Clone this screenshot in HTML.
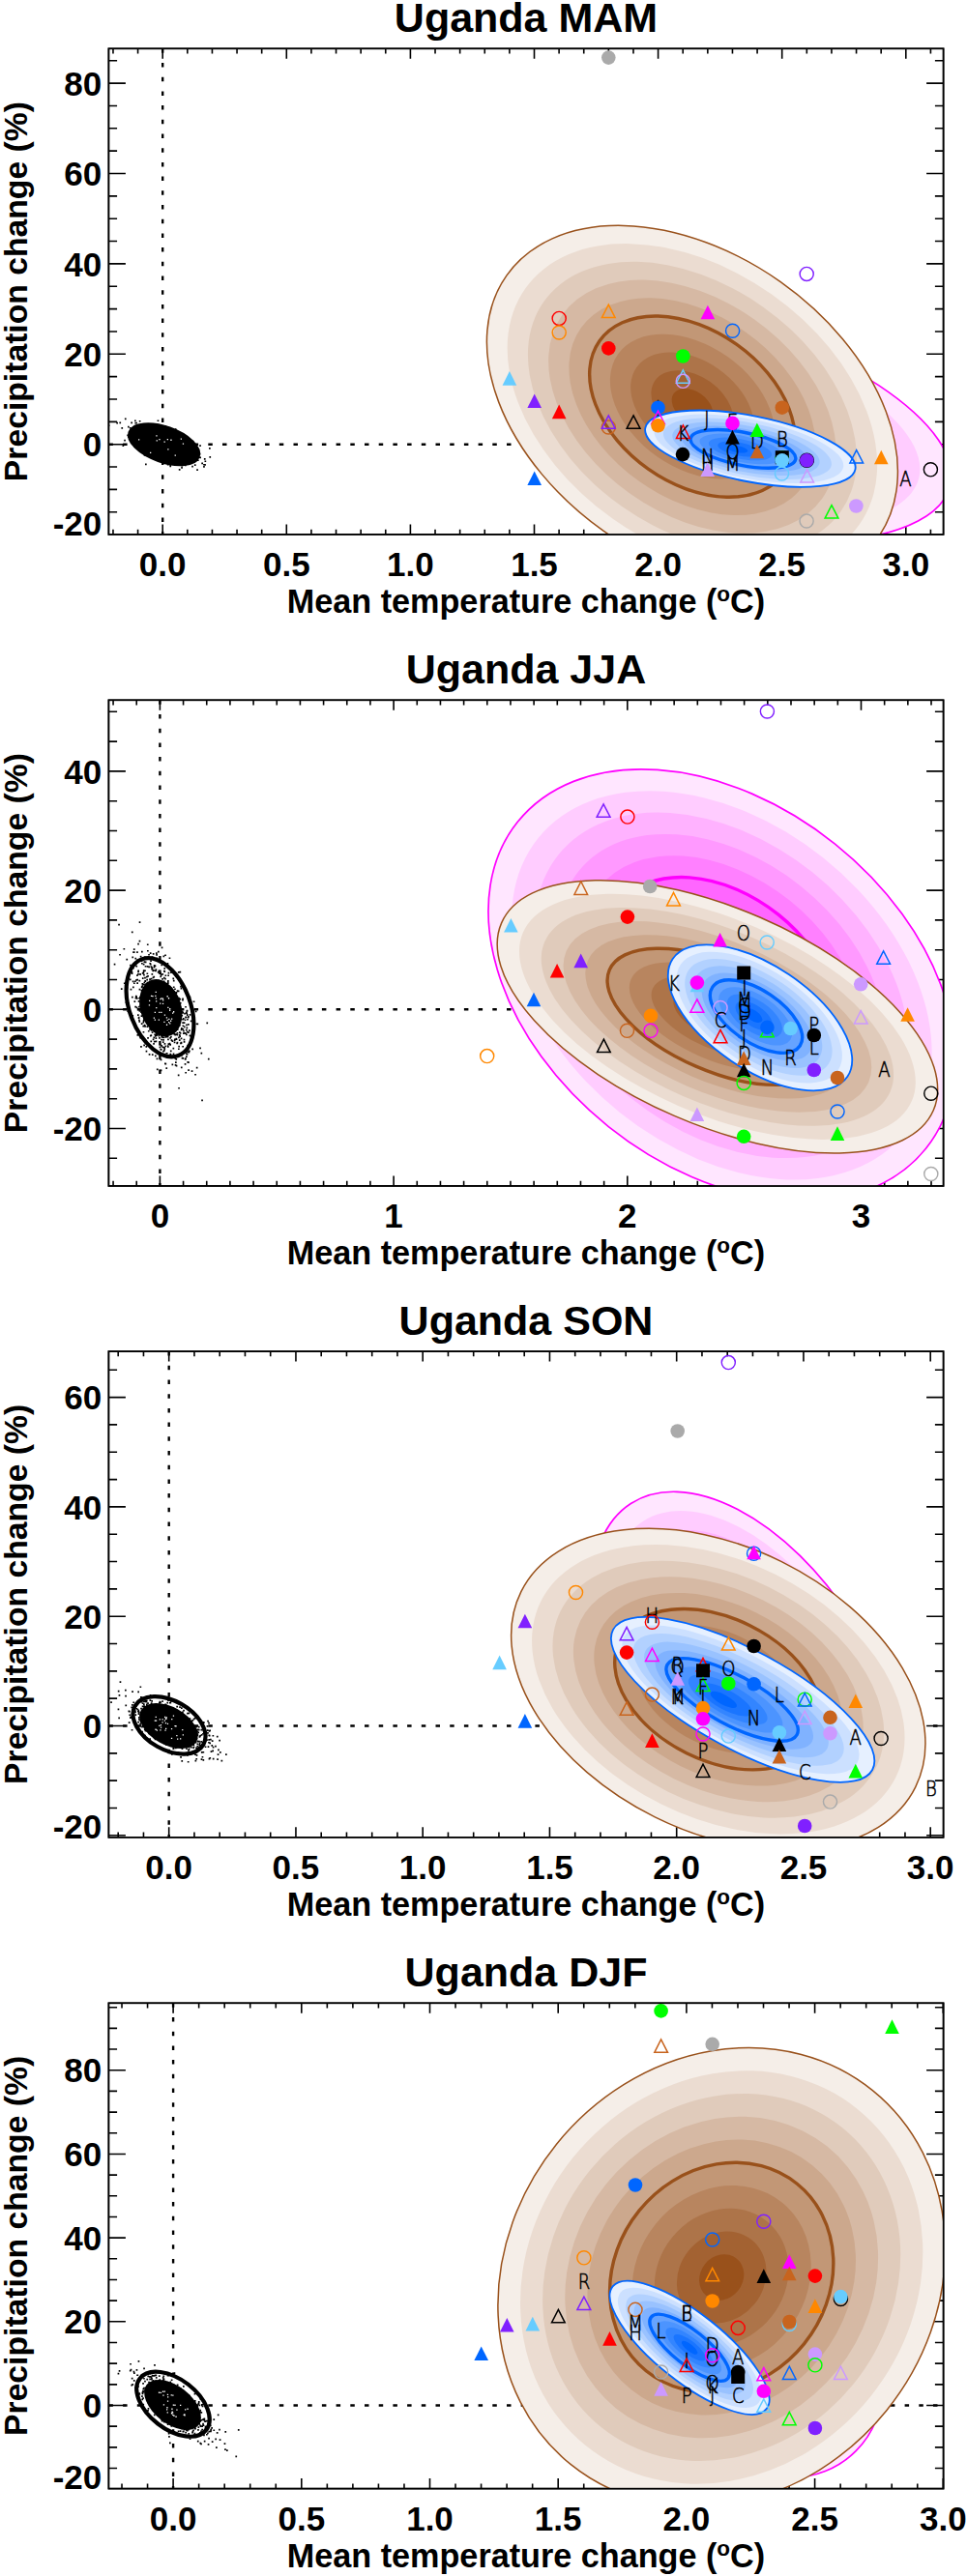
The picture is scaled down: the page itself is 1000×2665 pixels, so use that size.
<!DOCTYPE html><html><head><meta charset="utf-8"><style>html,body{margin:0;padding:0;background:#fff}svg{display:block}.t{font-family:"Liberation Sans",Arial,sans-serif;font-weight:bold;fill:#000}.lt{font-family:"DejaVu Sans",sans-serif;font-weight:200;font-size:21px;fill:#000;stroke:#000;stroke-width:0.55px;text-anchor:middle}</style></head><body>
<svg width="1000" height="2665" viewBox="0 0 1000 2665">
<rect width="1000" height="2665" fill="#fff"/>
<defs>
<clipPath id="cp0"><rect x="112.4" y="50.3" width="863.2" height="502.59999999999997"/></clipPath>
<clipPath id="cp1"><rect x="112.4" y="724.3" width="863.2" height="502.60000000000014"/></clipPath>
<clipPath id="cp2"><rect x="112.4" y="1398.1" width="863.2" height="502.70000000000005"/></clipPath>
<clipPath id="cp3"><rect x="112.4" y="2072.3" width="863.2" height="502.2999999999997"/></clipPath>
<clipPath id="xc0_0"><path d="M870 300H980V560H870Z"/></clipPath>
<clipPath id="xc2_0"><path d="M560 1500H900V1690H560Z"/></clipPath>
<clipPath id="xc3_0"><path d="M820 2490H980V2580H820Z"/></clipPath>
</defs>
<text class="t" x="544.0" y="32.8" font-size="43" text-anchor="middle">Uganda MAM</text>
<g clip-path="url(#cp0)">
<line x1="168.2" y1="50.3" x2="168.2" y2="552.9" stroke="#000" stroke-width="2.4" stroke-dasharray="4.5 10.2"/>
<line x1="112.4" y1="459.7" x2="975.6" y2="459.7" stroke="#000" stroke-width="2.4" stroke-dasharray="4.5 10.2"/>
<path d="M180.5 470.6h1.7v1.7h-1.7zM177.4 450.3h1.7v1.7h-1.7zM169.9 451.5h1.7v1.7h-1.7zM180.0 454.2h1.7v1.7h-1.7zM187.1 470.2h1.7v1.7h-1.7zM211.2 480.0h1.7v1.7h-1.7zM187.0 463.6h1.7v1.7h-1.7zM153.5 466.7h1.7v1.7h-1.7zM171.6 465.3h1.7v1.7h-1.7zM174.2 468.2h1.7v1.7h-1.7zM139.0 434.4h1.7v1.7h-1.7zM175.4 481.1h1.7v1.7h-1.7zM132.0 440.7h1.7v1.7h-1.7zM175.7 457.7h1.7v1.7h-1.7zM164.7 454.8h1.7v1.7h-1.7zM189.1 467.0h1.7v1.7h-1.7zM176.5 452.1h1.7v1.7h-1.7zM178.3 477.1h1.7v1.7h-1.7zM182.8 461.5h1.7v1.7h-1.7zM142.1 453.7h1.7v1.7h-1.7zM178.6 460.6h1.7v1.7h-1.7zM123.4 436.5h1.7v1.7h-1.7zM148.1 444.2h1.7v1.7h-1.7zM176.2 452.8h1.7v1.7h-1.7zM159.9 466.6h1.7v1.7h-1.7zM152.4 452.4h1.7v1.7h-1.7zM182.8 458.5h1.7v1.7h-1.7zM136.3 449.4h1.7v1.7h-1.7zM190.4 451.8h1.7v1.7h-1.7zM162.5 452.4h1.7v1.7h-1.7zM198.6 455.8h1.7v1.7h-1.7zM166.4 445.5h1.7v1.7h-1.7zM147.2 451.1h1.7v1.7h-1.7zM160.8 454.4h1.7v1.7h-1.7zM156.7 441.1h1.7v1.7h-1.7zM182.7 475.9h1.7v1.7h-1.7zM168.1 455.4h1.7v1.7h-1.7zM193.5 471.6h1.7v1.7h-1.7zM170.7 466.9h1.7v1.7h-1.7zM151.6 445.5h1.7v1.7h-1.7zM172.6 450.6h1.7v1.7h-1.7zM167.7 460.2h1.7v1.7h-1.7zM178.1 466.2h1.7v1.7h-1.7zM139.5 447.1h1.7v1.7h-1.7zM172.1 468.3h1.7v1.7h-1.7zM188.8 463.5h1.7v1.7h-1.7zM166.8 448.1h1.7v1.7h-1.7zM160.1 448.8h1.7v1.7h-1.7zM141.6 446.4h1.7v1.7h-1.7zM184.3 477.1h1.7v1.7h-1.7zM174.4 459.7h1.7v1.7h-1.7zM172.5 466.5h1.7v1.7h-1.7zM177.7 465.1h1.7v1.7h-1.7zM164.3 454.8h1.7v1.7h-1.7zM210.1 482.0h1.7v1.7h-1.7zM148.0 457.8h1.7v1.7h-1.7zM151.6 454.6h1.7v1.7h-1.7zM156.9 456.8h1.7v1.7h-1.7zM157.5 452.6h1.7v1.7h-1.7zM176.4 466.5h1.7v1.7h-1.7zM128.2 454.7h1.7v1.7h-1.7zM128.9 432.5h1.7v1.7h-1.7zM156.2 458.6h1.7v1.7h-1.7zM168.1 454.3h1.7v1.7h-1.7zM189.0 466.6h1.7v1.7h-1.7zM165.6 464.6h1.7v1.7h-1.7zM148.7 470.0h1.7v1.7h-1.7zM194.7 468.2h1.7v1.7h-1.7zM169.6 460.9h1.7v1.7h-1.7zM183.0 467.7h1.7v1.7h-1.7zM155.3 446.0h1.7v1.7h-1.7zM195.2 457.1h1.7v1.7h-1.7zM149.1 462.0h1.7v1.7h-1.7zM138.7 453.2h1.7v1.7h-1.7zM184.8 485.1h1.7v1.7h-1.7zM195.9 470.7h1.7v1.7h-1.7zM145.0 462.5h1.7v1.7h-1.7zM190.9 480.5h1.7v1.7h-1.7zM201.3 471.3h1.7v1.7h-1.7zM165.8 449.4h1.7v1.7h-1.7zM176.2 469.0h1.7v1.7h-1.7zM156.3 456.9h1.7v1.7h-1.7zM185.4 478.3h1.7v1.7h-1.7zM155.5 452.9h1.7v1.7h-1.7zM152.6 445.8h1.7v1.7h-1.7zM184.1 472.9h1.7v1.7h-1.7zM162.1 455.2h1.7v1.7h-1.7zM152.7 468.8h1.7v1.7h-1.7zM158.3 453.1h1.7v1.7h-1.7zM151.0 458.6h1.7v1.7h-1.7zM164.4 442.7h1.7v1.7h-1.7zM174.3 462.8h1.7v1.7h-1.7zM165.8 459.0h1.7v1.7h-1.7zM173.8 464.4h1.7v1.7h-1.7zM191.0 473.2h1.7v1.7h-1.7zM188.6 472.3h1.7v1.7h-1.7zM180.4 462.7h1.7v1.7h-1.7zM174.4 451.0h1.7v1.7h-1.7zM187.2 483.0h1.7v1.7h-1.7zM170.4 452.4h1.7v1.7h-1.7zM177.3 460.1h1.7v1.7h-1.7zM192.6 454.7h1.7v1.7h-1.7zM198.2 481.7h1.7v1.7h-1.7zM184.2 447.8h1.7v1.7h-1.7zM159.3 468.9h1.7v1.7h-1.7zM175.2 454.6h1.7v1.7h-1.7zM172.7 461.2h1.7v1.7h-1.7zM145.2 450.7h1.7v1.7h-1.7zM186.6 473.7h1.7v1.7h-1.7zM189.7 469.8h1.7v1.7h-1.7zM156.6 454.8h1.7v1.7h-1.7zM208.3 478.5h1.7v1.7h-1.7zM187.8 457.8h1.7v1.7h-1.7zM192.4 469.7h1.7v1.7h-1.7zM203.0 468.5h1.7v1.7h-1.7zM168.2 457.2h1.7v1.7h-1.7zM158.0 452.9h1.7v1.7h-1.7zM172.5 460.7h1.7v1.7h-1.7zM171.4 476.5h1.7v1.7h-1.7zM180.2 468.1h1.7v1.7h-1.7zM150.8 468.5h1.7v1.7h-1.7zM160.0 439.0h1.7v1.7h-1.7zM171.6 463.7h1.7v1.7h-1.7zM147.7 463.3h1.7v1.7h-1.7zM140.2 436.7h1.7v1.7h-1.7zM168.7 456.3h1.7v1.7h-1.7zM162.8 462.3h1.7v1.7h-1.7zM162.7 469.0h1.7v1.7h-1.7zM137.4 453.0h1.7v1.7h-1.7zM211.5 476.4h1.7v1.7h-1.7zM182.9 475.7h1.7v1.7h-1.7zM173.4 459.2h1.7v1.7h-1.7zM120.3 436.7h1.7v1.7h-1.7zM192.3 468.3h1.7v1.7h-1.7zM151.5 456.9h1.7v1.7h-1.7zM172.3 465.5h1.7v1.7h-1.7zM166.5 464.2h1.7v1.7h-1.7zM153.0 470.4h1.7v1.7h-1.7zM184.6 463.2h1.7v1.7h-1.7zM184.4 466.1h1.7v1.7h-1.7zM178.3 459.0h1.7v1.7h-1.7zM166.0 455.6h1.7v1.7h-1.7zM161.3 460.7h1.7v1.7h-1.7zM157.3 450.3h1.7v1.7h-1.7zM176.1 452.6h1.7v1.7h-1.7zM166.0 459.5h1.7v1.7h-1.7zM173.1 459.1h1.7v1.7h-1.7zM111.7 439.4h1.7v1.7h-1.7zM176.5 455.0h1.7v1.7h-1.7zM184.1 462.3h1.7v1.7h-1.7zM149.0 447.4h1.7v1.7h-1.7zM168.7 453.0h1.7v1.7h-1.7zM154.5 458.7h1.7v1.7h-1.7zM199.4 464.0h1.7v1.7h-1.7zM148.0 463.7h1.7v1.7h-1.7zM160.0 452.4h1.7v1.7h-1.7zM160.8 456.7h1.7v1.7h-1.7zM170.5 463.2h1.7v1.7h-1.7zM191.5 472.9h1.7v1.7h-1.7zM191.5 454.4h1.7v1.7h-1.7zM172.8 479.8h1.7v1.7h-1.7zM151.1 463.7h1.7v1.7h-1.7zM152.9 448.8h1.7v1.7h-1.7zM159.2 440.6h1.7v1.7h-1.7zM164.7 449.1h1.7v1.7h-1.7zM193.6 458.2h1.7v1.7h-1.7zM126.5 460.2h1.7v1.7h-1.7zM164.6 459.3h1.7v1.7h-1.7zM216.4 472.1h1.7v1.7h-1.7zM138.8 446.0h1.7v1.7h-1.7zM167.7 455.7h1.7v1.7h-1.7zM180.7 453.0h1.7v1.7h-1.7zM192.0 465.8h1.7v1.7h-1.7zM159.6 469.6h1.7v1.7h-1.7zM133.9 441.9h1.7v1.7h-1.7zM197.1 472.8h1.7v1.7h-1.7zM180.9 461.1h1.7v1.7h-1.7zM187.1 471.0h1.7v1.7h-1.7zM156.8 446.1h1.7v1.7h-1.7zM152.6 452.4h1.7v1.7h-1.7zM162.6 434.4h1.7v1.7h-1.7zM150.2 452.6h1.7v1.7h-1.7zM181.9 463.2h1.7v1.7h-1.7zM137.0 442.4h1.7v1.7h-1.7zM181.7 451.4h1.7v1.7h-1.7zM163.2 449.6h1.7v1.7h-1.7zM170.7 460.1h1.7v1.7h-1.7zM149.4 456.7h1.7v1.7h-1.7zM168.4 453.0h1.7v1.7h-1.7zM173.9 469.5h1.7v1.7h-1.7zM156.2 447.7h1.7v1.7h-1.7zM187.2 459.7h1.7v1.7h-1.7zM173.9 472.3h1.7v1.7h-1.7zM165.9 459.6h1.7v1.7h-1.7zM161.2 459.1h1.7v1.7h-1.7zM146.8 438.5h1.7v1.7h-1.7zM170.5 440.3h1.7v1.7h-1.7zM189.0 478.4h1.7v1.7h-1.7zM172.7 455.0h1.7v1.7h-1.7zM157.5 456.3h1.7v1.7h-1.7zM158.1 464.7h1.7v1.7h-1.7zM153.2 459.1h1.7v1.7h-1.7zM166.2 447.0h1.7v1.7h-1.7zM186.3 472.6h1.7v1.7h-1.7zM171.1 458.3h1.7v1.7h-1.7zM170.0 458.3h1.7v1.7h-1.7zM151.3 456.7h1.7v1.7h-1.7zM177.1 462.8h1.7v1.7h-1.7zM163.9 452.3h1.7v1.7h-1.7zM158.2 455.2h1.7v1.7h-1.7zM139.4 436.8h1.7v1.7h-1.7zM172.3 453.2h1.7v1.7h-1.7zM187.7 464.3h1.7v1.7h-1.7zM163.4 465.8h1.7v1.7h-1.7zM189.0 465.9h1.7v1.7h-1.7zM160.4 466.1h1.7v1.7h-1.7zM151.2 443.2h1.7v1.7h-1.7zM165.9 447.0h1.7v1.7h-1.7zM150.4 457.5h1.7v1.7h-1.7zM192.6 466.9h1.7v1.7h-1.7zM173.2 453.6h1.7v1.7h-1.7zM188.8 467.2h1.7v1.7h-1.7zM150.5 451.9h1.7v1.7h-1.7zM171.1 464.9h1.7v1.7h-1.7zM197.4 473.5h1.7v1.7h-1.7zM135.1 445.0h1.7v1.7h-1.7zM194.1 458.4h1.7v1.7h-1.7zM186.3 449.2h1.7v1.7h-1.7zM202.9 464.0h1.7v1.7h-1.7zM185.3 460.9h1.7v1.7h-1.7zM210.9 474.1h1.7v1.7h-1.7zM188.7 452.3h1.7v1.7h-1.7zM172.3 450.4h1.7v1.7h-1.7zM125.4 442.1h1.7v1.7h-1.7zM159.7 467.4h1.7v1.7h-1.7zM184.4 462.5h1.7v1.7h-1.7zM177.1 468.2h1.7v1.7h-1.7zM146.9 455.1h1.7v1.7h-1.7zM169.3 465.6h1.7v1.7h-1.7zM180.7 470.8h1.7v1.7h-1.7zM179.2 469.0h1.7v1.7h-1.7zM179.4 473.2h1.7v1.7h-1.7zM160.6 452.7h1.7v1.7h-1.7zM185.6 465.4h1.7v1.7h-1.7zM184.5 461.4h1.7v1.7h-1.7zM146.7 447.7h1.7v1.7h-1.7zM155.1 451.2h1.7v1.7h-1.7zM179.9 452.7h1.7v1.7h-1.7zM149.9 449.4h1.7v1.7h-1.7zM163.0 465.4h1.7v1.7h-1.7zM170.5 447.7h1.7v1.7h-1.7zM201.2 470.6h1.7v1.7h-1.7zM187.1 465.6h1.7v1.7h-1.7zM150.0 479.6h1.7v1.7h-1.7zM145.2 455.9h1.7v1.7h-1.7zM177.4 459.5h1.7v1.7h-1.7zM183.7 470.9h1.7v1.7h-1.7zM170.9 463.0h1.7v1.7h-1.7zM166.9 449.1h1.7v1.7h-1.7zM141.9 453.2h1.7v1.7h-1.7zM160.6 464.1h1.7v1.7h-1.7zM152.2 463.5h1.7v1.7h-1.7zM144.0 453.4h1.7v1.7h-1.7zM146.5 448.5h1.7v1.7h-1.7zM200.9 474.8h1.7v1.7h-1.7zM176.3 460.5h1.7v1.7h-1.7zM171.7 450.2h1.7v1.7h-1.7zM169.8 458.5h1.7v1.7h-1.7zM192.8 470.2h1.7v1.7h-1.7zM161.3 455.6h1.7v1.7h-1.7zM172.2 457.2h1.7v1.7h-1.7zM199.5 461.5h1.7v1.7h-1.7zM168.1 443.9h1.7v1.7h-1.7zM159.3 466.7h1.7v1.7h-1.7zM201.2 472.8h1.7v1.7h-1.7zM171.5 462.8h1.7v1.7h-1.7zM170.9 457.5h1.7v1.7h-1.7zM143.8 434.9h1.7v1.7h-1.7zM146.6 449.1h1.7v1.7h-1.7zM175.8 448.9h1.7v1.7h-1.7zM163.2 457.6h1.7v1.7h-1.7zM201.3 469.8h1.7v1.7h-1.7zM140.4 451.1h1.7v1.7h-1.7zM167.7 464.9h1.7v1.7h-1.7zM188.0 468.3h1.7v1.7h-1.7zM161.8 455.6h1.7v1.7h-1.7zM175.0 468.9h1.7v1.7h-1.7zM205.1 472.4h1.7v1.7h-1.7zM187.4 480.8h1.7v1.7h-1.7zM155.3 451.8h1.7v1.7h-1.7zM192.8 472.9h1.7v1.7h-1.7zM185.2 467.9h1.7v1.7h-1.7zM206.3 472.6h1.7v1.7h-1.7zM166.4 448.5h1.7v1.7h-1.7zM148.7 443.5h1.7v1.7h-1.7zM176.7 459.8h1.7v1.7h-1.7zM216.0 463.0h1.7v1.7h-1.7zM155.6 451.3h1.7v1.7h-1.7zM185.8 467.9h1.7v1.7h-1.7zM197.4 472.3h1.7v1.7h-1.7zM145.7 444.1h1.7v1.7h-1.7zM182.8 459.4h1.7v1.7h-1.7zM173.7 448.2h1.7v1.7h-1.7zM163.4 456.6h1.7v1.7h-1.7zM188.3 458.9h1.7v1.7h-1.7zM131.3 449.6h1.7v1.7h-1.7zM173.0 462.4h1.7v1.7h-1.7zM157.3 444.6h1.7v1.7h-1.7zM145.7 449.5h1.7v1.7h-1.7zM179.2 448.5h1.7v1.7h-1.7zM153.9 443.9h1.7v1.7h-1.7zM158.0 455.4h1.7v1.7h-1.7zM172.2 458.4h1.7v1.7h-1.7zM179.2 472.2h1.7v1.7h-1.7zM138.3 461.0h1.7v1.7h-1.7zM159.8 465.1h1.7v1.7h-1.7zM179.2 477.4h1.7v1.7h-1.7zM146.7 461.4h1.7v1.7h-1.7zM170.4 451.4h1.7v1.7h-1.7zM203.2 485.2h1.7v1.7h-1.7zM204.0 475.4h1.7v1.7h-1.7zM178.7 470.1h1.7v1.7h-1.7zM149.4 455.5h1.7v1.7h-1.7zM146.8 445.4h1.7v1.7h-1.7zM167.3 456.3h1.7v1.7h-1.7zM159.7 460.0h1.7v1.7h-1.7zM194.0 466.5h1.7v1.7h-1.7zM183.1 464.2h1.7v1.7h-1.7zM163.0 448.6h1.7v1.7h-1.7zM162.1 461.7h1.7v1.7h-1.7zM140.4 439.3h1.7v1.7h-1.7zM146.0 451.8h1.7v1.7h-1.7zM184.5 463.0h1.7v1.7h-1.7zM141.2 462.9h1.7v1.7h-1.7zM174.0 462.4h1.7v1.7h-1.7zM160.5 448.8h1.7v1.7h-1.7zM192.5 462.2h1.7v1.7h-1.7zM160.9 468.2h1.7v1.7h-1.7zM142.6 454.1h1.7v1.7h-1.7zM171.0 463.0h1.7v1.7h-1.7zM203.8 463.7h1.7v1.7h-1.7zM174.1 464.4h1.7v1.7h-1.7zM187.5 455.1h1.7v1.7h-1.7zM132.1 451.4h1.7v1.7h-1.7zM188.7 453.1h1.7v1.7h-1.7zM202.4 464.0h1.7v1.7h-1.7zM197.4 469.8h1.7v1.7h-1.7zM200.9 480.3h1.7v1.7h-1.7zM184.5 455.4h1.7v1.7h-1.7zM140.7 454.2h1.7v1.7h-1.7zM157.4 467.1h1.7v1.7h-1.7zM175.0 461.2h1.7v1.7h-1.7zM139.5 458.3h1.7v1.7h-1.7zM175.2 468.5h1.7v1.7h-1.7zM183.0 455.1h1.7v1.7h-1.7zM165.5 466.4h1.7v1.7h-1.7zM152.0 460.7h1.7v1.7h-1.7zM184.4 464.8h1.7v1.7h-1.7zM146.8 466.7h1.7v1.7h-1.7zM141.3 450.7h1.7v1.7h-1.7zM176.5 459.5h1.7v1.7h-1.7zM173.1 465.0h1.7v1.7h-1.7zM171.9 463.2h1.7v1.7h-1.7zM167.7 476.7h1.7v1.7h-1.7zM195.8 461.9h1.7v1.7h-1.7zM137.9 447.3h1.7v1.7h-1.7zM185.4 463.6h1.7v1.7h-1.7zM169.7 455.7h1.7v1.7h-1.7zM150.0 459.5h1.7v1.7h-1.7zM161.6 453.1h1.7v1.7h-1.7zM158.8 458.5h1.7v1.7h-1.7zM143.4 461.4h1.7v1.7h-1.7zM168.5 466.5h1.7v1.7h-1.7zM160.4 453.5h1.7v1.7h-1.7zM183.8 460.1h1.7v1.7h-1.7zM162.1 463.7h1.7v1.7h-1.7zM148.4 454.8h1.7v1.7h-1.7zM151.5 458.0h1.7v1.7h-1.7zM171.2 463.1h1.7v1.7h-1.7zM197.7 458.4h1.7v1.7h-1.7zM171.6 451.4h1.7v1.7h-1.7zM179.9 462.5h1.7v1.7h-1.7zM210.1 479.9h1.7v1.7h-1.7zM147.0 449.1h1.7v1.7h-1.7zM139.2 447.7h1.7v1.7h-1.7zM156.4 444.0h1.7v1.7h-1.7zM135.8 446.6h1.7v1.7h-1.7zM154.6 441.7h1.7v1.7h-1.7zM172.5 456.7h1.7v1.7h-1.7zM141.0 453.7h1.7v1.7h-1.7zM167.6 450.7h1.7v1.7h-1.7zM138.7 439.7h1.7v1.7h-1.7zM170.5 466.3h1.7v1.7h-1.7zM164.6 462.3h1.7v1.7h-1.7zM150.5 446.9h1.7v1.7h-1.7zM193.7 467.5h1.7v1.7h-1.7zM169.2 463.4h1.7v1.7h-1.7zM161.5 454.4h1.7v1.7h-1.7zM182.2 470.8h1.7v1.7h-1.7zM177.6 456.5h1.7v1.7h-1.7zM168.0 461.8h1.7v1.7h-1.7zM204.7 469.1h1.7v1.7h-1.7zM162.1 456.6h1.7v1.7h-1.7zM195.8 465.6h1.7v1.7h-1.7zM165.7 447.1h1.7v1.7h-1.7zM151.7 450.6h1.7v1.7h-1.7zM171.4 457.0h1.7v1.7h-1.7zM162.8 467.5h1.7v1.7h-1.7zM146.6 454.1h1.7v1.7h-1.7zM161.5 455.4h1.7v1.7h-1.7zM170.3 460.7h1.7v1.7h-1.7zM158.6 446.1h1.7v1.7h-1.7zM182.1 464.9h1.7v1.7h-1.7zM149.5 465.2h1.7v1.7h-1.7zM170.8 455.1h1.7v1.7h-1.7zM144.0 453.6h1.7v1.7h-1.7zM174.5 456.6h1.7v1.7h-1.7zM174.6 474.7h1.7v1.7h-1.7zM166.0 452.1h1.7v1.7h-1.7zM167.4 467.7h1.7v1.7h-1.7zM195.5 471.4h1.7v1.7h-1.7zM174.4 456.2h1.7v1.7h-1.7zM200.6 460.3h1.7v1.7h-1.7zM199.1 474.8h1.7v1.7h-1.7zM177.6 452.2h1.7v1.7h-1.7zM170.1 468.9h1.7v1.7h-1.7zM195.9 465.8h1.7v1.7h-1.7zM205.6 469.0h1.7v1.7h-1.7zM142.9 441.8h1.7v1.7h-1.7zM158.8 456.8h1.7v1.7h-1.7zM157.8 454.0h1.7v1.7h-1.7zM165.7 461.6h1.7v1.7h-1.7zM137.1 446.2h1.7v1.7h-1.7zM202.5 471.3h1.7v1.7h-1.7zM166.7 445.6h1.7v1.7h-1.7zM169.2 470.5h1.7v1.7h-1.7zM195.9 463.0h1.7v1.7h-1.7zM143.1 458.8h1.7v1.7h-1.7zM186.4 460.1h1.7v1.7h-1.7zM170.0 467.2h1.7v1.7h-1.7zM169.4 454.4h1.7v1.7h-1.7zM175.4 481.5h1.7v1.7h-1.7zM178.0 463.8h1.7v1.7h-1.7zM182.7 453.5h1.7v1.7h-1.7zM206.2 460.3h1.7v1.7h-1.7zM179.2 475.0h1.7v1.7h-1.7zM162.3 469.0h1.7v1.7h-1.7zM199.7 474.9h1.7v1.7h-1.7zM173.7 472.4h1.7v1.7h-1.7zM141.0 452.7h1.7v1.7h-1.7zM165.7 459.4h1.7v1.7h-1.7zM162.8 463.2h1.7v1.7h-1.7zM175.5 461.9h1.7v1.7h-1.7zM172.3 456.5h1.7v1.7h-1.7zM151.3 464.2h1.7v1.7h-1.7zM165.2 457.5h1.7v1.7h-1.7zM164.1 464.4h1.7v1.7h-1.7zM157.7 448.1h1.7v1.7h-1.7zM166.4 459.0h1.7v1.7h-1.7zM148.4 455.5h1.7v1.7h-1.7zM182.8 472.4h1.7v1.7h-1.7zM179.5 469.4h1.7v1.7h-1.7zM180.7 469.1h1.7v1.7h-1.7zM189.4 472.2h1.7v1.7h-1.7zM135.3 436.6h1.7v1.7h-1.7zM165.0 461.8h1.7v1.7h-1.7zM141.0 457.0h1.7v1.7h-1.7zM167.4 478.7h1.7v1.7h-1.7zM164.8 469.5h1.7v1.7h-1.7zM187.4 472.7h1.7v1.7h-1.7zM175.2 452.5h1.7v1.7h-1.7zM161.2 466.9h1.7v1.7h-1.7zM185.0 464.9h1.7v1.7h-1.7zM171.5 450.6h1.7v1.7h-1.7zM185.3 464.9h1.7v1.7h-1.7zM172.9 459.4h1.7v1.7h-1.7zM175.7 461.0h1.7v1.7h-1.7zM161.4 461.9h1.7v1.7h-1.7zM157.0 471.5h1.7v1.7h-1.7zM172.7 471.1h1.7v1.7h-1.7zM164.7 456.4h1.7v1.7h-1.7zM180.8 443.2h1.7v1.7h-1.7zM156.9 454.7h1.7v1.7h-1.7zM158.3 465.7h1.7v1.7h-1.7zM202.1 468.3h1.7v1.7h-1.7zM165.8 462.7h1.7v1.7h-1.7zM170.0 450.8h1.7v1.7h-1.7zM150.0 466.0h1.7v1.7h-1.7zM153.6 466.7h1.7v1.7h-1.7zM177.5 448.7h1.7v1.7h-1.7zM167.2 468.2h1.7v1.7h-1.7zM183.2 460.5h1.7v1.7h-1.7zM174.7 463.1h1.7v1.7h-1.7zM156.6 448.4h1.7v1.7h-1.7zM166.8 440.8h1.7v1.7h-1.7zM152.7 449.9h1.7v1.7h-1.7zM194.2 460.4h1.7v1.7h-1.7zM183.4 466.9h1.7v1.7h-1.7zM159.9 452.9h1.7v1.7h-1.7zM175.8 461.9h1.7v1.7h-1.7z" fill="#000"/>
<ellipse cx="169.6" cy="459.8" rx="37.6" ry="17.6" transform="rotate(19.5 169.6 459.8)" fill="#000"/>
<path d="M164.3 453.9h1.3v1.3h-1.3zM176.3 454.6h1.3v1.3h-1.3zM172.7 453.9h1.3v1.3h-1.3zM173.2 464.3h1.3v1.3h-1.3zM180.6 470.5h1.3v1.3h-1.3zM186.7 453.5h1.3v1.3h-1.3zM169.5 456.5h1.3v1.3h-1.3zM188.8 458.4h1.3v1.3h-1.3zM161.3 450.3h1.3v1.3h-1.3zM155.0 467.7h1.3v1.3h-1.3zM161.6 455.3h1.3v1.3h-1.3zM143.0 454.3h1.3v1.3h-1.3z" fill="#fff"/>
<ellipse cx="169.6" cy="459.8" rx="37.6" ry="17.6" transform="rotate(19.5 169.6 459.8)" fill="none" stroke="#000" stroke-width="3.4"/>
</g>
<rect x="112.4" y="50.3" width="863.2" height="502.59999999999997" fill="none" stroke="#000" stroke-width="1.6"/>
<path d="M116.96 552.9v-5.2M116.96 50.3v5.2M142.58 552.9v-5.2M142.58 50.3v5.2M168.20 552.9v-10.5M168.20 50.3v10.5M193.82 552.9v-5.2M193.82 50.3v5.2M219.44 552.9v-5.2M219.44 50.3v5.2M245.06 552.9v-5.2M245.06 50.3v5.2M270.68 552.9v-5.2M270.68 50.3v5.2M296.30 552.9v-10.5M296.30 50.3v10.5M321.92 552.9v-5.2M321.92 50.3v5.2M347.54 552.9v-5.2M347.54 50.3v5.2M373.16 552.9v-5.2M373.16 50.3v5.2M398.78 552.9v-5.2M398.78 50.3v5.2M424.40 552.9v-10.5M424.40 50.3v10.5M450.02 552.9v-5.2M450.02 50.3v5.2M475.64 552.9v-5.2M475.64 50.3v5.2M501.26 552.9v-5.2M501.26 50.3v5.2M526.88 552.9v-5.2M526.88 50.3v5.2M552.50 552.9v-10.5M552.50 50.3v10.5M578.12 552.9v-5.2M578.12 50.3v5.2M603.74 552.9v-5.2M603.74 50.3v5.2M629.36 552.9v-5.2M629.36 50.3v5.2M654.98 552.9v-5.2M654.98 50.3v5.2M680.60 552.9v-10.5M680.60 50.3v10.5M706.22 552.9v-5.2M706.22 50.3v5.2M731.84 552.9v-5.2M731.84 50.3v5.2M757.46 552.9v-5.2M757.46 50.3v5.2M783.08 552.9v-5.2M783.08 50.3v5.2M808.70 552.9v-10.5M808.70 50.3v10.5M834.32 552.9v-5.2M834.32 50.3v5.2M859.94 552.9v-5.2M859.94 50.3v5.2M885.56 552.9v-5.2M885.56 50.3v5.2M911.18 552.9v-5.2M911.18 50.3v5.2M936.80 552.9v-10.5M936.80 50.3v10.5M962.42 552.9v-5.2M962.42 50.3v5.2M112.4 529.75h8.7M975.6 529.75h-8.7M112.4 506.40h8.7M975.6 506.40h-8.7M112.4 483.05h8.7M975.6 483.05h-8.7M112.4 459.70h17.5M975.6 459.70h-17.5M112.4 436.35h8.7M975.6 436.35h-8.7M112.4 413.00h8.7M975.6 413.00h-8.7M112.4 389.65h8.7M975.6 389.65h-8.7M112.4 366.30h17.5M975.6 366.30h-17.5M112.4 342.95h8.7M975.6 342.95h-8.7M112.4 319.60h8.7M975.6 319.60h-8.7M112.4 296.25h8.7M975.6 296.25h-8.7M112.4 272.90h17.5M975.6 272.90h-17.5M112.4 249.55h8.7M975.6 249.55h-8.7M112.4 226.20h8.7M975.6 226.20h-8.7M112.4 202.85h8.7M975.6 202.85h-8.7M112.4 179.50h17.5M975.6 179.50h-17.5M112.4 156.15h8.7M975.6 156.15h-8.7M112.4 132.80h8.7M975.6 132.80h-8.7M112.4 109.45h8.7M975.6 109.45h-8.7M112.4 86.10h17.5M975.6 86.10h-17.5M112.4 62.75h8.7M975.6 62.75h-8.7" stroke="#000" stroke-width="1.6" fill="none"/>
<g clip-path="url(#cp0)">
<g clip-path="url(#xc0_0)">
<ellipse cx="660.21" cy="422.14" rx="332.21" ry="117.68" transform="rotate(14.03 660.21 422.14)" fill="#ffe6ff"/>
<ellipse cx="660.21" cy="422.14" rx="298.99" ry="105.91" transform="rotate(14.03 660.21 422.14)" fill="#ffccff"/>
<ellipse cx="660.21" cy="422.14" rx="265.77" ry="94.14" transform="rotate(14.03 660.21 422.14)" fill="#ffb2ff"/>
<ellipse cx="660.21" cy="422.14" rx="232.55" ry="82.38" transform="rotate(14.03 660.21 422.14)" fill="#ff99ff"/>
<ellipse cx="660.21" cy="422.14" rx="199.33" ry="70.61" transform="rotate(14.03 660.21 422.14)" fill="#ff80ff"/>
<ellipse cx="660.21" cy="422.14" rx="166.10" ry="58.84" transform="rotate(14.03 660.21 422.14)" fill="#ff66ff"/>
<ellipse cx="660.21" cy="422.14" rx="132.88" ry="47.07" transform="rotate(14.03 660.21 422.14)" fill="#ff4cff"/>
<ellipse cx="660.21" cy="422.14" rx="99.66" ry="35.30" transform="rotate(14.03 660.21 422.14)" fill="#ff33ff"/>
<ellipse cx="660.21" cy="422.14" rx="66.44" ry="23.54" transform="rotate(14.03 660.21 422.14)" fill="#ff1aff"/>
<ellipse cx="660.21" cy="422.14" rx="33.22" ry="11.77" transform="rotate(14.03 660.21 422.14)" fill="#ff00ff"/>
<ellipse cx="660.21" cy="422.14" rx="332.21" ry="117.68" transform="rotate(14.03 660.21 422.14)" fill="none" stroke="#ff00ff" stroke-width="1.7"/>
<ellipse cx="660.21" cy="422.14" rx="166.10" ry="58.84" transform="rotate(14.03 660.21 422.14)" fill="none" stroke="#ff00ff" stroke-width="3.4"/>
</g>
<g>
<ellipse cx="715.91" cy="420.64" rx="235.06" ry="158.05" transform="rotate(35.28 715.91 420.64)" fill="#f5eee8"/>
<ellipse cx="715.91" cy="420.64" rx="211.55" ry="142.25" transform="rotate(35.28 715.91 420.64)" fill="#ebdcd1"/>
<ellipse cx="715.91" cy="420.64" rx="188.05" ry="126.44" transform="rotate(35.28 715.91 420.64)" fill="#e0cbbb"/>
<ellipse cx="715.91" cy="420.64" rx="164.54" ry="110.64" transform="rotate(35.28 715.91 420.64)" fill="#d6b9a4"/>
<ellipse cx="715.91" cy="420.64" rx="141.04" ry="94.83" transform="rotate(35.28 715.91 420.64)" fill="#cca88d"/>
<ellipse cx="715.91" cy="420.64" rx="117.53" ry="79.03" transform="rotate(35.28 715.91 420.64)" fill="#c29776"/>
<ellipse cx="715.91" cy="420.64" rx="94.02" ry="63.22" transform="rotate(35.28 715.91 420.64)" fill="#b8855f"/>
<ellipse cx="715.91" cy="420.64" rx="70.52" ry="47.42" transform="rotate(35.28 715.91 420.64)" fill="#ad7449"/>
<ellipse cx="715.91" cy="420.64" rx="47.01" ry="31.61" transform="rotate(35.28 715.91 420.64)" fill="#a36232"/>
<ellipse cx="715.91" cy="420.64" rx="23.51" ry="15.80" transform="rotate(35.28 715.91 420.64)" fill="#99511b"/>
<ellipse cx="715.91" cy="420.64" rx="235.06" ry="158.05" transform="rotate(35.28 715.91 420.64)" fill="none" stroke="#99511b" stroke-width="1.5"/>
<ellipse cx="715.91" cy="420.64" rx="117.53" ry="79.03" transform="rotate(35.28 715.91 420.64)" fill="none" stroke="#99511b" stroke-width="3.4"/>
</g>
<g>
<ellipse cx="775.88" cy="464.21" rx="110.67" ry="33.94" transform="rotate(11.18 775.88 464.21)" fill="#e6f0ff"/>
<ellipse cx="774.40" cy="464.25" rx="99.60" ry="30.55" transform="rotate(11.18 774.40 464.25)" fill="#cce0ff"/>
<ellipse cx="772.92" cy="464.29" rx="88.54" ry="27.15" transform="rotate(11.18 772.92 464.29)" fill="#b2d1ff"/>
<ellipse cx="771.44" cy="464.33" rx="77.47" ry="23.76" transform="rotate(11.18 771.44 464.33)" fill="#99c2ff"/>
<ellipse cx="769.96" cy="464.37" rx="66.40" ry="20.36" transform="rotate(11.18 769.96 464.37)" fill="#80b2ff"/>
<ellipse cx="768.48" cy="464.41" rx="55.34" ry="16.97" transform="rotate(11.18 768.48 464.41)" fill="#66a3ff"/>
<ellipse cx="767.00" cy="464.45" rx="44.27" ry="13.58" transform="rotate(11.18 767.00 464.45)" fill="#4c94ff"/>
<ellipse cx="765.52" cy="464.49" rx="33.20" ry="10.18" transform="rotate(11.18 765.52 464.49)" fill="#3385ff"/>
<ellipse cx="764.04" cy="464.53" rx="22.13" ry="6.79" transform="rotate(11.18 764.04 464.53)" fill="#1a75ff"/>
<ellipse cx="762.56" cy="464.57" rx="11.07" ry="3.39" transform="rotate(11.18 762.56 464.57)" fill="#0066ff"/>
<ellipse cx="775.88" cy="464.21" rx="110.67" ry="33.94" transform="rotate(11.18 775.88 464.21)" fill="none" stroke="#0066ff" stroke-width="1.8"/>
<ellipse cx="768.48" cy="464.41" rx="55.34" ry="16.97" transform="rotate(11.18 768.48 464.41)" fill="none" stroke="#0066ff" stroke-width="3.4"/>
</g>
<circle cx="629.3" cy="59.6" r="7.3" fill="#aaaaaa"/>
<circle cx="834.2" cy="283.4" r="7.05" fill="none" stroke="#8020ff" stroke-width="1.45"/>
<circle cx="578.2" cy="329.4" r="7.05" fill="none" stroke="#ff0000" stroke-width="1.45"/>
<circle cx="578.2" cy="344.0" r="7.05" fill="none" stroke="#ff8800" stroke-width="1.45"/>
<polygon points="622.4,328.6 629.3,315.1 636.1,328.6" fill="none" stroke="#ff8800" stroke-width="1.5" stroke-linejoin="miter"/>
<circle cx="629.3" cy="360.4" r="7.3" fill="#ff0000"/>
<polygon points="519.6,398.7 526.9,384.1 534.2,398.7" fill="#66ccff"/>
<polygon points="545.4,422.0 552.7,407.4 560.0,422.0" fill="#8020ff"/>
<polygon points="570.9,433.2 578.2,418.6 585.5,433.2" fill="#ff0000"/>
<circle cx="629.3" cy="442.0" r="7.05" fill="none" stroke="#c8641e" stroke-width="1.45"/>
<polygon points="622.4,443.2 629.3,429.8 636.1,443.2" fill="none" stroke="#8020ff" stroke-width="1.5" stroke-linejoin="miter"/>
<polygon points="648.2,443.2 655.1,429.8 662.0,443.2" fill="none" stroke="#000000" stroke-width="1.5" stroke-linejoin="miter"/>
<text transform="translate(680.5 430.2) scale(0.86 1)" class="lt">I</text>
<circle cx="680.5" cy="421.7" r="7.3" fill="#0066ff"/>
<polygon points="673.6,438.5 680.5,425.1 687.4,438.5" fill="none" stroke="#ff00ff" stroke-width="1.5" stroke-linejoin="miter"/>
<circle cx="680.5" cy="440.3" r="7.3" fill="#ff8800"/>
<polygon points="545.4,502.1 552.7,487.5 560.0,502.1" fill="#0066ff"/>
<polygon points="724.6,330.3 731.9,315.7 739.2,330.3" fill="#ff00ff"/>
<circle cx="757.6" cy="342.2" r="7.05" fill="none" stroke="#0066ff" stroke-width="1.45"/>
<circle cx="706.3" cy="368.5" r="7.3" fill="#00ff00"/>
<polygon points="699.4,396.2 706.3,382.8 713.1,396.2" fill="none" stroke="#66ccff" stroke-width="1.5" stroke-linejoin="miter"/>
<circle cx="706.3" cy="394.3" r="7.05" fill="none" stroke="#cc99ff" stroke-width="1.45"/>
<polygon points="699.5,453.4 706.4,439.9 713.2,453.4" fill="none" stroke="#ff0000" stroke-width="1.5" stroke-linejoin="miter"/>
<text transform="translate(706.4 456.1) scale(0.86 1)" class="lt">K</text>
<circle cx="706.0" cy="470.1" r="7.3" fill="#000000"/>
<text transform="translate(731.0 441.2) scale(0.86 1)" class="lt">J</text>
<text transform="translate(731.7 479.7) scale(0.86 1)" class="lt">N</text>
<text transform="translate(731.7 487.1) scale(0.86 1)" class="lt">H</text>
<polygon points="724.4,492.9 731.7,478.3 739.0,492.9" fill="#cc99ff"/>
<text transform="translate(757.5 444.2) scale(0.86 1)" class="lt">E</text>
<circle cx="757.5" cy="437.9" r="7.3" fill="#ff00ff"/>
<polygon points="750.2,459.4 757.5,444.8 764.8,459.4" fill="#000000"/>
<text transform="translate(757.5 474.7) scale(0.86 1)" class="lt">Q</text>
<text transform="translate(757.5 487.1) scale(0.86 1)" class="lt">M</text>
<text transform="translate(783.0 463.5) scale(0.86 1)" class="lt">D</text>
<polygon points="775.6,452.0 782.9,437.4 790.2,452.0" fill="#00ff00"/>
<polygon points="775.6,474.3 782.9,459.7 790.2,474.3" fill="#c8641e"/>
<circle cx="808.8" cy="421.7" r="7.3" fill="#c8641e"/>
<text transform="translate(808.8 461.7) scale(0.86 1)" class="lt">B</text>
<circle cx="808.8" cy="473.2" r="7.3" fill="#00ff00"/>
<rect x="801.8" y="466.2" width="14" height="14" fill="#000000"/>
<circle cx="808.8" cy="476.3" r="7.3" fill="#66ccff"/>
<circle cx="808.5" cy="490.0" r="7.05" fill="none" stroke="#66ccff" stroke-width="1.45"/>
<circle cx="834.3" cy="476.3" r="7.05" fill="none" stroke="#000000" stroke-width="1.45"/>
<circle cx="834.3" cy="476.3" r="7.3" fill="#8020ff"/>
<polygon points="827.8,499.0 834.6,485.6 841.5,499.0" fill="none" stroke="#cc99ff" stroke-width="1.5" stroke-linejoin="miter"/>
<polygon points="878.9,479.0 885.7,465.6 892.6,479.0" fill="none" stroke="#0066ff" stroke-width="1.5" stroke-linejoin="miter"/>
<polygon points="904.0,480.3 911.3,465.7 918.6,480.3" fill="#ff8800"/>
<text transform="translate(936.5 502.8) scale(0.86 1)" class="lt">A</text>
<circle cx="962.4" cy="485.8" r="7.05" fill="none" stroke="#000000" stroke-width="1.45"/>
<circle cx="885.4" cy="523.5" r="7.3" fill="#cc99ff"/>
<polygon points="853.1,536.1 860.0,522.6 866.9,536.1" fill="none" stroke="#00ff00" stroke-width="1.5" stroke-linejoin="miter"/>
<circle cx="834.1" cy="539.0" r="7.05" fill="none" stroke="#aaaaaa" stroke-width="1.45"/>
</g>
<rect x="112.4" y="50.3" width="863.2" height="502.59999999999997" fill="none" stroke="#000" stroke-width="1.6"/>
<text class="t" x="168.2" y="596.4" font-size="35" text-anchor="middle">0.0</text>
<text class="t" x="296.3" y="596.4" font-size="35" text-anchor="middle">0.5</text>
<text class="t" x="424.4" y="596.4" font-size="35" text-anchor="middle">1.0</text>
<text class="t" x="552.5" y="596.4" font-size="35" text-anchor="middle">1.5</text>
<text class="t" x="680.6" y="596.4" font-size="35" text-anchor="middle">2.0</text>
<text class="t" x="808.7" y="596.4" font-size="35" text-anchor="middle">2.5</text>
<text class="t" x="936.8" y="596.4" font-size="35" text-anchor="middle">3.0</text>
<text class="t" x="105.3" y="553.7" font-size="35" text-anchor="end">-20</text>
<text class="t" x="105.3" y="472.3" font-size="35" text-anchor="end">0</text>
<text class="t" x="105.3" y="378.9" font-size="35" text-anchor="end">20</text>
<text class="t" x="105.3" y="285.5" font-size="35" text-anchor="end">40</text>
<text class="t" x="105.3" y="192.1" font-size="35" text-anchor="end">60</text>
<text class="t" x="105.3" y="98.7" font-size="35" text-anchor="end">80</text>
<text class="t" x="544.0" y="634.4" font-size="34.2" text-anchor="middle">Mean temperature change (<tspan font-size="22.5" dy="-12">o</tspan><tspan dy="12">C)</tspan></text>
<text class="t" transform="translate(27.5 301.6) rotate(-90)" x="0" y="0" font-size="33.7" text-anchor="middle">Precipitation change (%)</text>
<text class="t" x="544.0" y="706.8" font-size="43" text-anchor="middle">Uganda JJA</text>
<g clip-path="url(#cp1)">
<line x1="165.4" y1="724.3" x2="165.4" y2="1226.9" stroke="#000" stroke-width="2.4" stroke-dasharray="4.5 10.2"/>
<line x1="112.4" y1="1044.3" x2="975.6" y2="1044.3" stroke="#000" stroke-width="2.4" stroke-dasharray="4.5 10.2"/>
<path d="M163.5 1025.7h1.7v1.7h-1.7zM193.4 1098.1h1.7v1.7h-1.7zM147.5 1005.7h1.7v1.7h-1.7zM159.0 1049.4h1.7v1.7h-1.7zM144.4 1039.2h1.7v1.7h-1.7zM141.5 1070.1h1.7v1.7h-1.7zM168.2 1059.0h1.7v1.7h-1.7zM169.4 1084.4h1.7v1.7h-1.7zM148.1 1026.2h1.7v1.7h-1.7zM144.2 1030.7h1.7v1.7h-1.7zM155.3 1029.2h1.7v1.7h-1.7zM153.6 1023.6h1.7v1.7h-1.7zM165.9 1085.0h1.7v1.7h-1.7zM174.8 1019.8h1.7v1.7h-1.7zM180.8 1058.6h1.7v1.7h-1.7zM149.5 1025.5h1.7v1.7h-1.7zM143.4 1013.8h1.7v1.7h-1.7zM176.1 1071.7h1.7v1.7h-1.7zM158.9 1017.8h1.7v1.7h-1.7zM178.5 1083.7h1.7v1.7h-1.7zM177.5 1076.3h1.7v1.7h-1.7zM164.5 1047.1h1.7v1.7h-1.7zM163.1 1047.8h1.7v1.7h-1.7zM160.0 1071.0h1.7v1.7h-1.7zM175.2 1034.6h1.7v1.7h-1.7zM169.8 1020.9h1.7v1.7h-1.7zM144.8 988.7h1.7v1.7h-1.7zM136.0 1030.7h1.7v1.7h-1.7zM176.5 1021.5h1.7v1.7h-1.7zM169.5 1053.2h1.7v1.7h-1.7zM172.4 1066.7h1.7v1.7h-1.7zM192.7 1089.7h1.7v1.7h-1.7zM173.2 1047.3h1.7v1.7h-1.7zM180.1 1022.4h1.7v1.7h-1.7zM191.2 1051.7h1.7v1.7h-1.7zM163.8 1054.8h1.7v1.7h-1.7zM188.3 1046.5h1.7v1.7h-1.7zM181.9 1061.4h1.7v1.7h-1.7zM173.8 1051.7h1.7v1.7h-1.7zM192.0 1092.2h1.7v1.7h-1.7zM159.8 1038.5h1.7v1.7h-1.7zM156.3 1001.9h1.7v1.7h-1.7zM160.2 1038.1h1.7v1.7h-1.7zM140.7 1041.6h1.7v1.7h-1.7zM170.5 1099.8h1.7v1.7h-1.7zM157.6 1045.2h1.7v1.7h-1.7zM165.7 1106.6h1.7v1.7h-1.7zM178.6 1058.6h1.7v1.7h-1.7zM167.9 1077.3h1.7v1.7h-1.7zM167.9 1044.9h1.7v1.7h-1.7zM169.4 1001.0h1.7v1.7h-1.7zM149.1 1010.8h1.7v1.7h-1.7zM176.1 1045.6h1.7v1.7h-1.7zM146.4 1043.1h1.7v1.7h-1.7zM158.4 1009.7h1.7v1.7h-1.7zM129.9 1020.1h1.7v1.7h-1.7zM144.8 1039.4h1.7v1.7h-1.7zM180.8 1060.3h1.7v1.7h-1.7zM169.4 1060.7h1.7v1.7h-1.7zM168.0 1056.8h1.7v1.7h-1.7zM164.8 1062.5h1.7v1.7h-1.7zM148.8 1026.2h1.7v1.7h-1.7zM173.0 1016.4h1.7v1.7h-1.7zM172.1 1028.7h1.7v1.7h-1.7zM171.5 1020.1h1.7v1.7h-1.7zM163.7 1069.1h1.7v1.7h-1.7zM143.3 1031.9h1.7v1.7h-1.7zM173.4 1037.0h1.7v1.7h-1.7zM150.3 1017.6h1.7v1.7h-1.7zM161.4 1041.2h1.7v1.7h-1.7zM184.2 1124.9h1.7v1.7h-1.7zM177.4 1035.6h1.7v1.7h-1.7zM169.5 1028.8h1.7v1.7h-1.7zM187.2 1015.7h1.7v1.7h-1.7zM180.1 1041.5h1.7v1.7h-1.7zM190.7 1100.1h1.7v1.7h-1.7zM170.8 1069.1h1.7v1.7h-1.7zM155.1 1023.2h1.7v1.7h-1.7zM165.7 1029.7h1.7v1.7h-1.7zM188.2 1032.5h1.7v1.7h-1.7zM173.0 1082.0h1.7v1.7h-1.7zM147.5 1044.8h1.7v1.7h-1.7zM185.5 1004.8h1.7v1.7h-1.7zM178.4 1045.4h1.7v1.7h-1.7zM171.3 1037.9h1.7v1.7h-1.7zM175.0 1031.5h1.7v1.7h-1.7zM156.2 1043.6h1.7v1.7h-1.7zM148.8 1059.7h1.7v1.7h-1.7zM166.7 1059.7h1.7v1.7h-1.7zM161.2 1050.1h1.7v1.7h-1.7zM179.3 1031.9h1.7v1.7h-1.7zM176.1 1005.3h1.7v1.7h-1.7zM161.8 1035.7h1.7v1.7h-1.7zM156.9 1059.0h1.7v1.7h-1.7zM186.2 1019.8h1.7v1.7h-1.7zM158.9 1023.2h1.7v1.7h-1.7zM161.0 985.3h1.7v1.7h-1.7zM130.5 1021.0h1.7v1.7h-1.7zM185.0 1067.2h1.7v1.7h-1.7zM159.5 1028.8h1.7v1.7h-1.7zM165.6 1048.8h1.7v1.7h-1.7zM165.3 1006.0h1.7v1.7h-1.7zM179.7 1077.5h1.7v1.7h-1.7zM176.1 1068.6h1.7v1.7h-1.7zM164.8 1049.5h1.7v1.7h-1.7zM148.6 1039.9h1.7v1.7h-1.7zM174.7 1063.8h1.7v1.7h-1.7zM148.3 1053.2h1.7v1.7h-1.7zM146.1 1020.3h1.7v1.7h-1.7zM158.2 1079.1h1.7v1.7h-1.7zM189.7 1077.0h1.7v1.7h-1.7zM177.9 1062.3h1.7v1.7h-1.7zM171.8 1064.9h1.7v1.7h-1.7zM182.4 1062.8h1.7v1.7h-1.7zM160.9 1049.2h1.7v1.7h-1.7zM160.2 1060.8h1.7v1.7h-1.7zM195.0 1086.6h1.7v1.7h-1.7zM185.9 1036.9h1.7v1.7h-1.7zM152.9 1065.9h1.7v1.7h-1.7zM153.4 1052.8h1.7v1.7h-1.7zM181.0 1098.3h1.7v1.7h-1.7zM163.5 1070.8h1.7v1.7h-1.7zM172.3 1017.0h1.7v1.7h-1.7zM171.8 1027.9h1.7v1.7h-1.7zM198.3 1048.3h1.7v1.7h-1.7zM166.7 979.6h1.7v1.7h-1.7zM170.7 1046.2h1.7v1.7h-1.7zM167.9 1035.1h1.7v1.7h-1.7zM169.9 1025.2h1.7v1.7h-1.7zM170.1 1046.0h1.7v1.7h-1.7zM169.5 1049.1h1.7v1.7h-1.7zM165.9 1044.1h1.7v1.7h-1.7zM161.9 1105.5h1.7v1.7h-1.7zM199.3 1063.5h1.7v1.7h-1.7zM155.0 1064.0h1.7v1.7h-1.7zM188.1 1047.1h1.7v1.7h-1.7zM131.4 1045.4h1.7v1.7h-1.7zM181.0 1030.1h1.7v1.7h-1.7zM151.9 1040.9h1.7v1.7h-1.7zM180.2 1038.4h1.7v1.7h-1.7zM141.1 984.3h1.7v1.7h-1.7zM137.0 1000.9h1.7v1.7h-1.7zM173.1 1074.6h1.7v1.7h-1.7zM166.8 1040.7h1.7v1.7h-1.7zM171.8 1031.6h1.7v1.7h-1.7zM167.2 1012.0h1.7v1.7h-1.7zM160.0 1091.5h1.7v1.7h-1.7zM159.4 1045.3h1.7v1.7h-1.7zM160.6 1033.9h1.7v1.7h-1.7zM167.4 1082.4h1.7v1.7h-1.7zM167.3 1072.2h1.7v1.7h-1.7zM182.2 1060.6h1.7v1.7h-1.7zM193.1 1053.9h1.7v1.7h-1.7zM163.5 1049.1h1.7v1.7h-1.7zM192.7 1044.7h1.7v1.7h-1.7zM189.8 1061.6h1.7v1.7h-1.7zM142.2 975.7h1.7v1.7h-1.7zM184.2 1031.8h1.7v1.7h-1.7zM170.4 1048.9h1.7v1.7h-1.7zM180.2 1034.4h1.7v1.7h-1.7zM172.4 1062.5h1.7v1.7h-1.7zM176.9 1030.0h1.7v1.7h-1.7zM161.6 1020.9h1.7v1.7h-1.7zM156.5 989.3h1.7v1.7h-1.7zM180.0 1074.5h1.7v1.7h-1.7zM170.0 1039.0h1.7v1.7h-1.7zM162.1 1067.9h1.7v1.7h-1.7zM173.1 1046.3h1.7v1.7h-1.7zM161.6 1064.9h1.7v1.7h-1.7zM157.6 1039.6h1.7v1.7h-1.7zM160.9 1061.1h1.7v1.7h-1.7zM174.0 1043.8h1.7v1.7h-1.7zM171.2 1044.1h1.7v1.7h-1.7zM148.1 1048.6h1.7v1.7h-1.7zM173.9 1065.5h1.7v1.7h-1.7zM162.6 1055.6h1.7v1.7h-1.7zM174.5 1052.2h1.7v1.7h-1.7zM186.6 1021.8h1.7v1.7h-1.7zM142.7 1052.4h1.7v1.7h-1.7zM139.9 1029.8h1.7v1.7h-1.7zM162.7 1018.9h1.7v1.7h-1.7zM189.0 1068.2h1.7v1.7h-1.7zM146.2 1033.1h1.7v1.7h-1.7zM154.0 1039.8h1.7v1.7h-1.7zM202.8 1103.7h1.7v1.7h-1.7zM155.9 1082.5h1.7v1.7h-1.7zM166.9 1040.7h1.7v1.7h-1.7zM166.0 1067.0h1.7v1.7h-1.7zM196.4 1076.8h1.7v1.7h-1.7zM152.8 1046.9h1.7v1.7h-1.7zM175.2 1056.9h1.7v1.7h-1.7zM166.3 1066.5h1.7v1.7h-1.7zM178.4 1011.5h1.7v1.7h-1.7zM167.8 1044.6h1.7v1.7h-1.7zM162.4 1050.5h1.7v1.7h-1.7zM163.8 1017.6h1.7v1.7h-1.7zM185.3 1071.3h1.7v1.7h-1.7zM165.8 1007.7h1.7v1.7h-1.7zM147.6 1066.9h1.7v1.7h-1.7zM194.1 1067.2h1.7v1.7h-1.7zM173.8 1042.8h1.7v1.7h-1.7zM170.9 1067.2h1.7v1.7h-1.7zM171.8 1035.7h1.7v1.7h-1.7zM195.8 1070.9h1.7v1.7h-1.7zM174.4 1027.4h1.7v1.7h-1.7zM158.9 1076.7h1.7v1.7h-1.7zM158.9 1061.1h1.7v1.7h-1.7zM182.8 1037.8h1.7v1.7h-1.7zM143.4 1056.1h1.7v1.7h-1.7zM150.0 1034.7h1.7v1.7h-1.7zM144.2 1007.1h1.7v1.7h-1.7zM175.3 1080.0h1.7v1.7h-1.7zM146.0 995.9h1.7v1.7h-1.7zM145.5 1023.8h1.7v1.7h-1.7zM169.7 1050.8h1.7v1.7h-1.7zM181.1 1045.1h1.7v1.7h-1.7zM154.1 1039.1h1.7v1.7h-1.7zM147.4 1060.8h1.7v1.7h-1.7zM144.4 1072.8h1.7v1.7h-1.7zM158.3 1020.5h1.7v1.7h-1.7zM183.3 1043.6h1.7v1.7h-1.7zM174.0 1051.5h1.7v1.7h-1.7zM167.2 1039.0h1.7v1.7h-1.7zM158.6 1057.4h1.7v1.7h-1.7zM153.6 1037.3h1.7v1.7h-1.7zM158.6 999.7h1.7v1.7h-1.7zM148.2 1017.9h1.7v1.7h-1.7zM175.1 1042.8h1.7v1.7h-1.7zM167.7 1047.9h1.7v1.7h-1.7zM136.8 1014.5h1.7v1.7h-1.7zM155.9 1048.4h1.7v1.7h-1.7zM150.6 1086.7h1.7v1.7h-1.7zM171.8 1048.6h1.7v1.7h-1.7zM161.5 1027.0h1.7v1.7h-1.7zM171.6 1061.0h1.7v1.7h-1.7zM175.6 1027.6h1.7v1.7h-1.7zM147.5 1039.9h1.7v1.7h-1.7zM168.2 1065.1h1.7v1.7h-1.7zM168.1 1086.9h1.7v1.7h-1.7zM141.3 1016.2h1.7v1.7h-1.7zM149.8 1032.3h1.7v1.7h-1.7zM162.7 1022.5h1.7v1.7h-1.7zM154.9 996.8h1.7v1.7h-1.7zM168.0 1059.1h1.7v1.7h-1.7zM175.3 1073.0h1.7v1.7h-1.7zM165.8 1070.1h1.7v1.7h-1.7zM159.9 1063.8h1.7v1.7h-1.7zM143.1 1040.8h1.7v1.7h-1.7zM202.7 1058.4h1.7v1.7h-1.7zM139.4 990.8h1.7v1.7h-1.7zM179.4 1054.4h1.7v1.7h-1.7zM194.2 1106.3h1.7v1.7h-1.7zM158.4 1072.5h1.7v1.7h-1.7zM175.1 1022.6h1.7v1.7h-1.7zM172.7 1033.6h1.7v1.7h-1.7zM189.7 1057.2h1.7v1.7h-1.7zM148.3 1080.5h1.7v1.7h-1.7zM169.1 1039.8h1.7v1.7h-1.7zM170.0 1058.4h1.7v1.7h-1.7zM173.0 1014.1h1.7v1.7h-1.7zM194.5 1087.7h1.7v1.7h-1.7zM160.0 1049.9h1.7v1.7h-1.7zM168.2 1066.9h1.7v1.7h-1.7zM151.5 1021.5h1.7v1.7h-1.7zM186.0 1052.2h1.7v1.7h-1.7zM194.1 1051.1h1.7v1.7h-1.7zM180.6 1039.9h1.7v1.7h-1.7zM147.2 1017.8h1.7v1.7h-1.7zM146.8 1006.1h1.7v1.7h-1.7zM188.5 1060.4h1.7v1.7h-1.7zM150.1 1047.0h1.7v1.7h-1.7zM158.9 1029.9h1.7v1.7h-1.7zM166.3 1067.8h1.7v1.7h-1.7zM186.6 1077.7h1.7v1.7h-1.7zM177.5 1100.5h1.7v1.7h-1.7zM179.0 1030.6h1.7v1.7h-1.7zM173.7 1064.9h1.7v1.7h-1.7zM148.1 1031.5h1.7v1.7h-1.7zM164.1 1073.1h1.7v1.7h-1.7zM165.4 1009.5h1.7v1.7h-1.7zM152.2 1009.0h1.7v1.7h-1.7zM165.4 1084.8h1.7v1.7h-1.7zM195.5 1070.4h1.7v1.7h-1.7zM175.0 1041.0h1.7v1.7h-1.7zM161.0 1041.3h1.7v1.7h-1.7zM192.5 1045.0h1.7v1.7h-1.7zM184.1 1072.6h1.7v1.7h-1.7zM192.9 1049.3h1.7v1.7h-1.7zM165.2 1050.5h1.7v1.7h-1.7zM206.2 1083.6h1.7v1.7h-1.7zM178.4 1028.5h1.7v1.7h-1.7zM135.7 1006.4h1.7v1.7h-1.7zM161.0 1041.7h1.7v1.7h-1.7zM170.6 1043.8h1.7v1.7h-1.7zM179.0 1027.8h1.7v1.7h-1.7zM165.8 1066.9h1.7v1.7h-1.7zM142.0 1043.6h1.7v1.7h-1.7zM177.3 1042.3h1.7v1.7h-1.7zM161.9 1059.2h1.7v1.7h-1.7zM146.9 1011.2h1.7v1.7h-1.7zM177.1 1062.8h1.7v1.7h-1.7zM160.8 1069.2h1.7v1.7h-1.7zM142.1 1007.1h1.7v1.7h-1.7zM171.4 1020.1h1.7v1.7h-1.7zM175.2 1046.5h1.7v1.7h-1.7zM174.1 1042.8h1.7v1.7h-1.7zM150.9 1009.8h1.7v1.7h-1.7zM162.3 1029.3h1.7v1.7h-1.7zM155.2 1022.5h1.7v1.7h-1.7zM151.7 1042.2h1.7v1.7h-1.7zM155.6 1028.5h1.7v1.7h-1.7zM181.2 1008.8h1.7v1.7h-1.7zM173.8 1056.9h1.7v1.7h-1.7zM154.8 1049.8h1.7v1.7h-1.7zM162.8 1005.0h1.7v1.7h-1.7zM162.9 1013.6h1.7v1.7h-1.7zM191.3 1108.9h1.7v1.7h-1.7zM176.4 1045.6h1.7v1.7h-1.7zM168.9 1041.8h1.7v1.7h-1.7zM186.1 1078.5h1.7v1.7h-1.7zM180.4 1064.6h1.7v1.7h-1.7zM172.3 1034.1h1.7v1.7h-1.7zM174.4 1055.6h1.7v1.7h-1.7zM173.1 1063.6h1.7v1.7h-1.7zM171.6 1020.8h1.7v1.7h-1.7zM187.4 1049.9h1.7v1.7h-1.7zM197.5 1043.7h1.7v1.7h-1.7zM167.6 1054.4h1.7v1.7h-1.7zM158.1 1041.2h1.7v1.7h-1.7zM156.3 1000.3h1.7v1.7h-1.7zM157.9 1059.7h1.7v1.7h-1.7zM163.4 1043.1h1.7v1.7h-1.7zM155.6 1043.8h1.7v1.7h-1.7zM183.9 1005.1h1.7v1.7h-1.7zM170.5 1072.1h1.7v1.7h-1.7zM148.1 1007.7h1.7v1.7h-1.7zM156.9 1090.2h1.7v1.7h-1.7zM148.2 1042.5h1.7v1.7h-1.7zM146.5 1017.1h1.7v1.7h-1.7zM186.7 1064.6h1.7v1.7h-1.7zM127.9 1016.4h1.7v1.7h-1.7zM150.5 1082.1h1.7v1.7h-1.7zM169.8 1030.2h1.7v1.7h-1.7zM187.6 1093.8h1.7v1.7h-1.7zM148.5 994.2h1.7v1.7h-1.7zM167.0 1061.7h1.7v1.7h-1.7zM137.9 981.3h1.7v1.7h-1.7zM117.7 996.7h1.7v1.7h-1.7zM160.5 1002.2h1.7v1.7h-1.7zM172.7 1042.6h1.7v1.7h-1.7zM184.9 1070.0h1.7v1.7h-1.7zM165.0 1054.8h1.7v1.7h-1.7zM183.7 1047.0h1.7v1.7h-1.7zM193.5 1085.0h1.7v1.7h-1.7zM159.3 1014.8h1.7v1.7h-1.7zM199.7 1035.4h1.7v1.7h-1.7zM148.0 1036.2h1.7v1.7h-1.7zM165.3 1048.9h1.7v1.7h-1.7zM170.2 1067.4h1.7v1.7h-1.7zM166.4 997.5h1.7v1.7h-1.7zM195.6 1030.7h1.7v1.7h-1.7zM142.0 1049.3h1.7v1.7h-1.7zM151.1 1035.2h1.7v1.7h-1.7zM143.7 953.2h1.7v1.7h-1.7zM161.2 1033.7h1.7v1.7h-1.7zM145.6 1023.9h1.7v1.7h-1.7zM169.3 1033.7h1.7v1.7h-1.7zM157.3 1041.4h1.7v1.7h-1.7zM156.5 1015.7h1.7v1.7h-1.7zM147.9 1033.9h1.7v1.7h-1.7zM181.9 1036.8h1.7v1.7h-1.7zM176.3 1035.0h1.7v1.7h-1.7zM172.6 1052.9h1.7v1.7h-1.7zM167.2 1053.7h1.7v1.7h-1.7zM155.4 1019.6h1.7v1.7h-1.7zM164.5 1043.7h1.7v1.7h-1.7zM170.2 1042.8h1.7v1.7h-1.7zM170.2 987.4h1.7v1.7h-1.7zM149.7 1047.7h1.7v1.7h-1.7zM181.9 1060.0h1.7v1.7h-1.7zM169.3 1047.7h1.7v1.7h-1.7zM158.8 998.0h1.7v1.7h-1.7zM145.8 993.3h1.7v1.7h-1.7zM187.1 1090.9h1.7v1.7h-1.7zM147.9 1003.3h1.7v1.7h-1.7zM187.0 1063.0h1.7v1.7h-1.7zM169.7 1060.1h1.7v1.7h-1.7zM165.4 1030.8h1.7v1.7h-1.7zM153.7 1090.1h1.7v1.7h-1.7zM135.9 963.5h1.7v1.7h-1.7zM192.1 1059.5h1.7v1.7h-1.7zM155.0 1027.0h1.7v1.7h-1.7zM168.6 1060.4h1.7v1.7h-1.7zM151.5 1006.4h1.7v1.7h-1.7zM161.5 1063.2h1.7v1.7h-1.7zM133.9 1012.5h1.7v1.7h-1.7zM138.5 1035.3h1.7v1.7h-1.7zM172.6 996.1h1.7v1.7h-1.7zM154.9 1041.9h1.7v1.7h-1.7zM157.0 1022.2h1.7v1.7h-1.7zM163.0 983.7h1.7v1.7h-1.7zM160.6 1024.8h1.7v1.7h-1.7zM173.5 1079.2h1.7v1.7h-1.7zM163.7 1039.0h1.7v1.7h-1.7zM138.0 1016.4h1.7v1.7h-1.7zM166.7 1022.7h1.7v1.7h-1.7zM201.2 1110.9h1.7v1.7h-1.7zM171.2 1061.3h1.7v1.7h-1.7zM165.3 1021.2h1.7v1.7h-1.7zM149.2 1061.1h1.7v1.7h-1.7zM182.8 1064.3h1.7v1.7h-1.7zM181.7 1074.4h1.7v1.7h-1.7zM167.4 1016.6h1.7v1.7h-1.7zM195.7 1049.0h1.7v1.7h-1.7zM154.2 1012.3h1.7v1.7h-1.7zM192.3 1047.5h1.7v1.7h-1.7zM168.1 1031.5h1.7v1.7h-1.7zM164.0 1062.5h1.7v1.7h-1.7zM171.4 1066.8h1.7v1.7h-1.7zM157.6 1035.2h1.7v1.7h-1.7zM161.2 1070.3h1.7v1.7h-1.7zM176.2 1054.5h1.7v1.7h-1.7zM175.6 1033.0h1.7v1.7h-1.7zM186.9 1103.6h1.7v1.7h-1.7zM165.7 1068.5h1.7v1.7h-1.7zM172.6 1063.9h1.7v1.7h-1.7zM150.5 1030.2h1.7v1.7h-1.7zM143.6 972.7h1.7v1.7h-1.7zM165.5 1017.2h1.7v1.7h-1.7zM182.2 1052.3h1.7v1.7h-1.7zM174.2 1028.7h1.7v1.7h-1.7zM170.6 1040.0h1.7v1.7h-1.7zM156.7 1067.2h1.7v1.7h-1.7zM176.0 1036.5h1.7v1.7h-1.7zM174.7 1078.7h1.7v1.7h-1.7zM166.3 1065.4h1.7v1.7h-1.7zM191.5 1051.4h1.7v1.7h-1.7zM172.5 1045.7h1.7v1.7h-1.7zM168.1 1040.4h1.7v1.7h-1.7zM184.0 1084.4h1.7v1.7h-1.7zM191.2 1040.9h1.7v1.7h-1.7zM190.6 1054.4h1.7v1.7h-1.7zM170.6 1050.2h1.7v1.7h-1.7zM170.5 1081.5h1.7v1.7h-1.7zM164.6 1082.5h1.7v1.7h-1.7zM141.1 1008.2h1.7v1.7h-1.7zM166.4 1071.8h1.7v1.7h-1.7zM181.0 1026.6h1.7v1.7h-1.7zM160.8 1053.4h1.7v1.7h-1.7zM192.5 1062.6h1.7v1.7h-1.7zM163.7 1037.1h1.7v1.7h-1.7zM181.4 1026.2h1.7v1.7h-1.7zM174.6 990.4h1.7v1.7h-1.7zM169.1 1003.8h1.7v1.7h-1.7zM156.0 1046.2h1.7v1.7h-1.7zM208.2 1137.6h1.7v1.7h-1.7zM166.2 1074.7h1.7v1.7h-1.7zM174.9 1022.5h1.7v1.7h-1.7zM151.3 1026.2h1.7v1.7h-1.7zM173.4 1053.7h1.7v1.7h-1.7zM169.2 1082.9h1.7v1.7h-1.7zM174.3 1068.3h1.7v1.7h-1.7zM157.9 1003.0h1.7v1.7h-1.7zM148.3 1046.9h1.7v1.7h-1.7zM173.3 1008.4h1.7v1.7h-1.7zM137.9 984.2h1.7v1.7h-1.7zM136.4 989.6h1.7v1.7h-1.7zM141.3 1012.8h1.7v1.7h-1.7zM146.0 1038.7h1.7v1.7h-1.7zM169.7 1040.6h1.7v1.7h-1.7zM171.0 1042.0h1.7v1.7h-1.7zM173.2 1043.4h1.7v1.7h-1.7zM155.9 1047.5h1.7v1.7h-1.7zM148.5 1045.4h1.7v1.7h-1.7zM137.0 1020.5h1.7v1.7h-1.7zM139.0 1014.4h1.7v1.7h-1.7zM147.4 1034.2h1.7v1.7h-1.7zM163.2 1019.2h1.7v1.7h-1.7zM184.6 1044.4h1.7v1.7h-1.7zM157.4 1003.6h1.7v1.7h-1.7zM156.5 1049.2h1.7v1.7h-1.7zM189.1 1065.9h1.7v1.7h-1.7zM122.2 955.8h1.7v1.7h-1.7zM186.7 1078.3h1.7v1.7h-1.7zM164.8 1064.2h1.7v1.7h-1.7zM146.2 1019.4h1.7v1.7h-1.7zM149.8 1038.5h1.7v1.7h-1.7zM172.9 1050.4h1.7v1.7h-1.7zM168.5 1072.6h1.7v1.7h-1.7zM173.8 1067.4h1.7v1.7h-1.7zM145.6 1050.2h1.7v1.7h-1.7zM157.3 1060.0h1.7v1.7h-1.7zM188.5 1064.0h1.7v1.7h-1.7zM155.7 1030.8h1.7v1.7h-1.7zM188.3 1081.9h1.7v1.7h-1.7zM170.9 1031.5h1.7v1.7h-1.7zM143.1 1054.4h1.7v1.7h-1.7zM194.0 1059.1h1.7v1.7h-1.7zM142.7 1035.0h1.7v1.7h-1.7zM196.8 1055.5h1.7v1.7h-1.7zM168.8 1038.4h1.7v1.7h-1.7zM170.1 1063.6h1.7v1.7h-1.7zM178.3 1045.5h1.7v1.7h-1.7zM172.2 1071.8h1.7v1.7h-1.7zM160.7 1060.3h1.7v1.7h-1.7zM175.6 1028.8h1.7v1.7h-1.7zM157.6 1010.5h1.7v1.7h-1.7zM194.1 1098.3h1.7v1.7h-1.7zM160.9 1028.9h1.7v1.7h-1.7zM169.8 1035.0h1.7v1.7h-1.7zM169.6 1054.0h1.7v1.7h-1.7zM138.7 997.5h1.7v1.7h-1.7zM147.8 996.7h1.7v1.7h-1.7zM153.3 999.6h1.7v1.7h-1.7zM151.7 999.1h1.7v1.7h-1.7zM153.3 1032.2h1.7v1.7h-1.7zM190.2 1047.8h1.7v1.7h-1.7zM186.3 1045.9h1.7v1.7h-1.7zM183.7 1045.8h1.7v1.7h-1.7zM172.9 1015.5h1.7v1.7h-1.7zM161.3 1037.0h1.7v1.7h-1.7zM197.4 1072.1h1.7v1.7h-1.7zM149.6 1033.9h1.7v1.7h-1.7zM165.7 1095.5h1.7v1.7h-1.7zM169.2 1069.1h1.7v1.7h-1.7zM181.4 1095.0h1.7v1.7h-1.7zM178.9 1020.4h1.7v1.7h-1.7zM160.2 1003.6h1.7v1.7h-1.7zM171.9 1050.5h1.7v1.7h-1.7zM159.2 1042.8h1.7v1.7h-1.7zM160.9 1032.5h1.7v1.7h-1.7zM168.8 1014.4h1.7v1.7h-1.7zM183.4 1024.6h1.7v1.7h-1.7zM166.8 1049.5h1.7v1.7h-1.7zM149.3 1014.2h1.7v1.7h-1.7zM173.6 1032.6h1.7v1.7h-1.7zM182.5 1069.9h1.7v1.7h-1.7zM149.2 1003.4h1.7v1.7h-1.7zM189.6 1074.7h1.7v1.7h-1.7zM175.1 1053.2h1.7v1.7h-1.7zM165.6 1047.3h1.7v1.7h-1.7zM163.5 1003.8h1.7v1.7h-1.7zM155.2 1060.0h1.7v1.7h-1.7zM153.9 1057.1h1.7v1.7h-1.7zM188.5 1094.1h1.7v1.7h-1.7zM160.8 1042.2h1.7v1.7h-1.7zM151.6 1049.0h1.7v1.7h-1.7zM148.9 1031.0h1.7v1.7h-1.7zM146.0 983.7h1.7v1.7h-1.7zM149.8 1029.5h1.7v1.7h-1.7zM146.6 1032.8h1.7v1.7h-1.7zM160.2 1063.8h1.7v1.7h-1.7zM149.8 994.6h1.7v1.7h-1.7zM152.0 982.9h1.7v1.7h-1.7zM148.3 1031.2h1.7v1.7h-1.7zM164.3 1041.3h1.7v1.7h-1.7zM180.8 1028.7h1.7v1.7h-1.7zM169.5 1050.2h1.7v1.7h-1.7zM191.9 1064.8h1.7v1.7h-1.7zM173.9 1052.4h1.7v1.7h-1.7zM145.2 1046.2h1.7v1.7h-1.7zM168.2 1035.0h1.7v1.7h-1.7zM183.8 1111.5h1.7v1.7h-1.7zM174.8 1033.2h1.7v1.7h-1.7zM158.3 1027.2h1.7v1.7h-1.7zM130.4 1036.8h1.7v1.7h-1.7zM170.0 1099.5h1.7v1.7h-1.7zM178.1 1042.0h1.7v1.7h-1.7zM180.9 1038.4h1.7v1.7h-1.7zM168.7 1015.7h1.7v1.7h-1.7zM130.4 991.7h1.7v1.7h-1.7zM178.3 1040.2h1.7v1.7h-1.7zM159.8 1020.7h1.7v1.7h-1.7zM164.2 1059.3h1.7v1.7h-1.7zM176.6 1051.2h1.7v1.7h-1.7zM161.9 1042.6h1.7v1.7h-1.7zM174.4 1062.0h1.7v1.7h-1.7zM154.2 1064.1h1.7v1.7h-1.7zM169.0 1086.1h1.7v1.7h-1.7zM168.2 1039.5h1.7v1.7h-1.7zM175.1 1043.6h1.7v1.7h-1.7zM168.5 1082.7h1.7v1.7h-1.7zM178.7 1063.0h1.7v1.7h-1.7zM149.2 1039.7h1.7v1.7h-1.7zM201.8 1045.6h1.7v1.7h-1.7zM171.6 1027.1h1.7v1.7h-1.7zM141.0 992.4h1.7v1.7h-1.7zM153.1 1043.5h1.7v1.7h-1.7zM145.1 1082.1h1.7v1.7h-1.7zM175.7 1043.7h1.7v1.7h-1.7zM197.5 1042.4h1.7v1.7h-1.7zM152.6 1038.1h1.7v1.7h-1.7zM139.3 1040.7h1.7v1.7h-1.7zM139.9 995.8h1.7v1.7h-1.7zM140.3 1013.1h1.7v1.7h-1.7zM180.4 1069.7h1.7v1.7h-1.7zM152.2 1073.1h1.7v1.7h-1.7zM178.2 1067.1h1.7v1.7h-1.7zM214.9 1094.7h1.7v1.7h-1.7zM191.1 1094.2h1.7v1.7h-1.7zM154.1 1021.0h1.7v1.7h-1.7zM157.4 1047.6h1.7v1.7h-1.7zM157.7 1042.4h1.7v1.7h-1.7zM174.2 1065.1h1.7v1.7h-1.7zM164.9 1079.8h1.7v1.7h-1.7zM123.2 986.9h1.7v1.7h-1.7zM170.5 1031.3h1.7v1.7h-1.7zM175.1 1023.3h1.7v1.7h-1.7zM184.3 1081.7h1.7v1.7h-1.7zM157.4 1042.7h1.7v1.7h-1.7zM152.7 1023.5h1.7v1.7h-1.7zM147.5 1056.8h1.7v1.7h-1.7zM148.2 1037.1h1.7v1.7h-1.7zM143.6 1022.8h1.7v1.7h-1.7zM159.8 1057.0h1.7v1.7h-1.7zM148.2 1042.5h1.7v1.7h-1.7zM157.9 991.5h1.7v1.7h-1.7zM165.9 1040.6h1.7v1.7h-1.7zM188.1 1033.7h1.7v1.7h-1.7zM175.7 1057.6h1.7v1.7h-1.7zM163.8 1026.3h1.7v1.7h-1.7zM167.4 1007.1h1.7v1.7h-1.7zM184.2 1059.2h1.7v1.7h-1.7zM161.5 1020.5h1.7v1.7h-1.7zM167.2 1067.5h1.7v1.7h-1.7zM155.7 1065.1h1.7v1.7h-1.7zM154.8 1048.6h1.7v1.7h-1.7zM173.3 1064.9h1.7v1.7h-1.7zM173.1 1047.7h1.7v1.7h-1.7zM149.7 998.9h1.7v1.7h-1.7zM184.9 1075.2h1.7v1.7h-1.7zM175.9 1086.6h1.7v1.7h-1.7zM195.1 1065.3h1.7v1.7h-1.7zM187.4 1045.5h1.7v1.7h-1.7zM178.1 1037.8h1.7v1.7h-1.7zM169.2 1060.4h1.7v1.7h-1.7zM151.3 1012.7h1.7v1.7h-1.7zM175.4 1067.0h1.7v1.7h-1.7zM142.2 1004.6h1.7v1.7h-1.7zM152.0 1039.9h1.7v1.7h-1.7zM158.6 1060.4h1.7v1.7h-1.7zM161.0 1069.0h1.7v1.7h-1.7zM156.9 1026.9h1.7v1.7h-1.7zM148.9 1045.3h1.7v1.7h-1.7zM124.9 1022.3h1.7v1.7h-1.7zM177.6 1066.9h1.7v1.7h-1.7zM171.0 1032.0h1.7v1.7h-1.7zM155.5 1070.3h1.7v1.7h-1.7zM175.8 1058.8h1.7v1.7h-1.7zM145.3 1035.5h1.7v1.7h-1.7zM162.9 1055.0h1.7v1.7h-1.7zM154.1 1014.4h1.7v1.7h-1.7zM150.5 1043.2h1.7v1.7h-1.7zM151.9 1041.9h1.7v1.7h-1.7zM183.5 1043.7h1.7v1.7h-1.7zM150.4 1017.2h1.7v1.7h-1.7zM197.7 1107.3h1.7v1.7h-1.7zM191.2 1068.2h1.7v1.7h-1.7zM148.5 1015.7h1.7v1.7h-1.7zM161.6 1094.6h1.7v1.7h-1.7zM163.2 1048.3h1.7v1.7h-1.7zM166.1 1031.9h1.7v1.7h-1.7zM175.2 1037.6h1.7v1.7h-1.7zM179.3 1034.2h1.7v1.7h-1.7zM163.0 1067.2h1.7v1.7h-1.7zM165.8 1041.1h1.7v1.7h-1.7zM163.7 1062.4h1.7v1.7h-1.7zM163.4 1017.2h1.7v1.7h-1.7zM143.5 1013.9h1.7v1.7h-1.7zM156.1 1047.1h1.7v1.7h-1.7zM137.2 984.3h1.7v1.7h-1.7zM159.7 1034.8h1.7v1.7h-1.7zM152.9 1051.5h1.7v1.7h-1.7zM182.3 1078.5h1.7v1.7h-1.7zM160.1 1022.7h1.7v1.7h-1.7zM134.6 1022.7h1.7v1.7h-1.7zM176.4 1066.7h1.7v1.7h-1.7zM170.1 1011.8h1.7v1.7h-1.7zM173.7 1035.5h1.7v1.7h-1.7zM155.1 1048.6h1.7v1.7h-1.7zM157.5 1023.9h1.7v1.7h-1.7zM181.7 1101.7h1.7v1.7h-1.7zM147.6 1027.5h1.7v1.7h-1.7zM132.3 1037.0h1.7v1.7h-1.7zM173.6 1005.7h1.7v1.7h-1.7zM147.8 1055.0h1.7v1.7h-1.7zM155.2 1025.2h1.7v1.7h-1.7zM166.9 1033.1h1.7v1.7h-1.7zM172.7 1055.4h1.7v1.7h-1.7zM181.0 1047.5h1.7v1.7h-1.7zM160.6 1076.5h1.7v1.7h-1.7zM171.4 1088.9h1.7v1.7h-1.7zM157.6 1049.1h1.7v1.7h-1.7zM168.5 1053.0h1.7v1.7h-1.7zM192.9 1066.7h1.7v1.7h-1.7zM140.4 998.7h1.7v1.7h-1.7zM151.4 1041.6h1.7v1.7h-1.7zM151.4 1024.6h1.7v1.7h-1.7zM155.7 1011.7h1.7v1.7h-1.7zM181.6 1026.0h1.7v1.7h-1.7zM149.2 1025.9h1.7v1.7h-1.7zM162.6 1027.2h1.7v1.7h-1.7zM166.7 1049.7h1.7v1.7h-1.7zM172.8 1040.8h1.7v1.7h-1.7zM166.3 1081.0h1.7v1.7h-1.7zM171.5 1024.6h1.7v1.7h-1.7zM160.8 1086.8h1.7v1.7h-1.7zM159.9 1045.6h1.7v1.7h-1.7zM173.4 1037.5h1.7v1.7h-1.7zM190.8 1095.0h1.7v1.7h-1.7zM142.3 1003.5h1.7v1.7h-1.7zM159.3 1069.6h1.7v1.7h-1.7zM155.9 1037.2h1.7v1.7h-1.7zM188.1 1020.3h1.7v1.7h-1.7zM154.4 995.9h1.7v1.7h-1.7zM151.2 1026.8h1.7v1.7h-1.7zM178.3 1025.4h1.7v1.7h-1.7zM171.8 1060.4h1.7v1.7h-1.7zM172.8 1023.9h1.7v1.7h-1.7zM162.7 1060.7h1.7v1.7h-1.7zM172.8 1053.3h1.7v1.7h-1.7zM169.0 1051.6h1.7v1.7h-1.7zM151.9 976.4h1.7v1.7h-1.7zM181.5 1073.7h1.7v1.7h-1.7zM163.6 1051.5h1.7v1.7h-1.7zM192.0 1069.5h1.7v1.7h-1.7zM168.5 988.6h1.7v1.7h-1.7zM155.5 999.3h1.7v1.7h-1.7zM165.3 1041.9h1.7v1.7h-1.7zM182.1 1063.2h1.7v1.7h-1.7zM175.4 1089.7h1.7v1.7h-1.7zM164.3 1059.1h1.7v1.7h-1.7zM188.2 1053.9h1.7v1.7h-1.7zM193.2 1087.2h1.7v1.7h-1.7zM150.7 1031.7h1.7v1.7h-1.7zM157.7 1074.5h1.7v1.7h-1.7zM181.8 1055.4h1.7v1.7h-1.7zM213.4 1057.6h1.7v1.7h-1.7zM169.3 1019.6h1.7v1.7h-1.7zM172.8 1022.2h1.7v1.7h-1.7zM147.4 1026.2h1.7v1.7h-1.7zM177.7 1051.8h1.7v1.7h-1.7zM171.4 1104.3h1.7v1.7h-1.7zM162.0 1053.0h1.7v1.7h-1.7zM129.6 1036.3h1.7v1.7h-1.7zM155.2 993.2h1.7v1.7h-1.7zM182.7 1024.2h1.7v1.7h-1.7zM169.6 1054.5h1.7v1.7h-1.7zM170.5 1008.4h1.7v1.7h-1.7zM178.6 1042.9h1.7v1.7h-1.7zM132.0 1008.5h1.7v1.7h-1.7zM177.7 1042.9h1.7v1.7h-1.7zM169.2 1038.1h1.7v1.7h-1.7zM176.2 1041.8h1.7v1.7h-1.7zM161.8 1069.2h1.7v1.7h-1.7zM156.5 1007.0h1.7v1.7h-1.7zM145.8 1058.2h1.7v1.7h-1.7zM166.4 1038.0h1.7v1.7h-1.7zM174.2 1061.4h1.7v1.7h-1.7zM169.6 1079.1h1.7v1.7h-1.7zM164.0 1029.5h1.7v1.7h-1.7zM156.6 1052.2h1.7v1.7h-1.7zM175.0 1050.2h1.7v1.7h-1.7zM163.8 1044.3h1.7v1.7h-1.7zM159.3 1037.3h1.7v1.7h-1.7zM151.5 1015.8h1.7v1.7h-1.7zM156.5 1051.2h1.7v1.7h-1.7zM156.6 1001.3h1.7v1.7h-1.7zM173.0 1052.6h1.7v1.7h-1.7zM181.4 1060.8h1.7v1.7h-1.7zM162.1 1058.9h1.7v1.7h-1.7zM142.8 1051.8h1.7v1.7h-1.7zM171.9 1060.5h1.7v1.7h-1.7zM160.8 1023.6h1.7v1.7h-1.7zM172.3 1048.2h1.7v1.7h-1.7zM186.7 1073.5h1.7v1.7h-1.7zM183.5 1057.8h1.7v1.7h-1.7zM175.7 1090.3h1.7v1.7h-1.7zM145.8 1020.6h1.7v1.7h-1.7zM171.6 1039.7h1.7v1.7h-1.7zM156.0 1047.9h1.7v1.7h-1.7zM155.4 1076.6h1.7v1.7h-1.7zM168.7 1025.3h1.7v1.7h-1.7zM184.7 1033.0h1.7v1.7h-1.7zM140.9 1032.1h1.7v1.7h-1.7zM185.4 1032.7h1.7v1.7h-1.7zM168.9 1043.6h1.7v1.7h-1.7zM149.9 1022.0h1.7v1.7h-1.7zM127.5 980.9h1.7v1.7h-1.7zM161.5 990.4h1.7v1.7h-1.7zM150.1 1022.3h1.7v1.7h-1.7zM146.1 1040.5h1.7v1.7h-1.7zM188.9 1053.1h1.7v1.7h-1.7zM173.2 1066.3h1.7v1.7h-1.7zM173.3 1063.8h1.7v1.7h-1.7zM159.4 1050.1h1.7v1.7h-1.7zM163.7 1055.4h1.7v1.7h-1.7zM169.9 1049.8h1.7v1.7h-1.7zM191.9 1046.7h1.7v1.7h-1.7zM173.2 1044.0h1.7v1.7h-1.7zM207.5 1088.8h1.7v1.7h-1.7zM198.6 1052.7h1.7v1.7h-1.7zM139.6 1031.8h1.7v1.7h-1.7zM162.7 1037.5h1.7v1.7h-1.7zM162.9 1029.3h1.7v1.7h-1.7zM190.1 1067.9h1.7v1.7h-1.7zM149.0 989.4h1.7v1.7h-1.7zM176.8 1059.2h1.7v1.7h-1.7zM159.6 998.6h1.7v1.7h-1.7zM170.0 1061.1h1.7v1.7h-1.7zM179.4 1069.0h1.7v1.7h-1.7zM182.6 1068.0h1.7v1.7h-1.7zM198.3 1084.5h1.7v1.7h-1.7zM183.8 1024.6h1.7v1.7h-1.7zM184.9 1060.1h1.7v1.7h-1.7zM140.3 1030.5h1.7v1.7h-1.7zM193.4 1080.7h1.7v1.7h-1.7zM164.7 1022.1h1.7v1.7h-1.7zM171.5 1038.9h1.7v1.7h-1.7zM160.5 1073.2h1.7v1.7h-1.7zM143.6 1045.1h1.7v1.7h-1.7zM174.6 1036.2h1.7v1.7h-1.7zM173.5 1060.5h1.7v1.7h-1.7zM144.2 1007.2h1.7v1.7h-1.7zM172.8 1071.8h1.7v1.7h-1.7zM154.8 985.3h1.7v1.7h-1.7zM175.0 1055.3h1.7v1.7h-1.7zM155.4 1047.1h1.7v1.7h-1.7zM161.7 1044.8h1.7v1.7h-1.7zM164.9 1006.1h1.7v1.7h-1.7zM180.7 1101.0h1.7v1.7h-1.7zM168.9 1010.7h1.7v1.7h-1.7zM135.6 1005.1h1.7v1.7h-1.7zM179.7 1045.4h1.7v1.7h-1.7zM153.2 986.9h1.7v1.7h-1.7zM165.4 1033.8h1.7v1.7h-1.7zM180.4 1094.0h1.7v1.7h-1.7zM175.0 1029.1h1.7v1.7h-1.7zM161.0 1013.8h1.7v1.7h-1.7zM172.9 1081.2h1.7v1.7h-1.7zM169.3 1061.1h1.7v1.7h-1.7zM153.5 1016.4h1.7v1.7h-1.7zM169.4 1004.4h1.7v1.7h-1.7zM149.4 1014.0h1.7v1.7h-1.7zM159.7 1003.4h1.7v1.7h-1.7zM156.2 1049.5h1.7v1.7h-1.7zM180.0 1053.4h1.7v1.7h-1.7zM151.1 989.9h1.7v1.7h-1.7zM157.8 986.1h1.7v1.7h-1.7zM155.5 1020.6h1.7v1.7h-1.7zM154.0 1014.5h1.7v1.7h-1.7zM161.2 987.0h1.7v1.7h-1.7zM181.7 1054.4h1.7v1.7h-1.7zM159.4 1039.3h1.7v1.7h-1.7zM171.9 1088.9h1.7v1.7h-1.7zM147.8 1004.0h1.7v1.7h-1.7zM179.8 1075.4h1.7v1.7h-1.7zM182.4 1056.3h1.7v1.7h-1.7zM151.5 1061.3h1.7v1.7h-1.7zM156.8 1029.9h1.7v1.7h-1.7zM199.0 1063.4h1.7v1.7h-1.7zM149.4 1054.1h1.7v1.7h-1.7zM175.3 1033.4h1.7v1.7h-1.7zM134.1 997.8h1.7v1.7h-1.7zM170.2 1063.1h1.7v1.7h-1.7zM160.1 1023.3h1.7v1.7h-1.7zM203.5 1058.5h1.7v1.7h-1.7zM148.8 1020.3h1.7v1.7h-1.7zM182.6 1077.7h1.7v1.7h-1.7zM167.7 1020.0h1.7v1.7h-1.7zM167.7 1020.7h1.7v1.7h-1.7zM171.6 1040.9h1.7v1.7h-1.7zM185.7 1068.0h1.7v1.7h-1.7zM181.1 1069.3h1.7v1.7h-1.7zM178.1 1040.7h1.7v1.7h-1.7zM172.6 1057.2h1.7v1.7h-1.7zM136.4 1050.0h1.7v1.7h-1.7zM163.6 1053.0h1.7v1.7h-1.7zM193.7 1051.7h1.7v1.7h-1.7zM171.8 1033.3h1.7v1.7h-1.7zM148.5 1051.3h1.7v1.7h-1.7zM173.2 1052.5h1.7v1.7h-1.7zM161.8 1036.4h1.7v1.7h-1.7zM170.2 1051.9h1.7v1.7h-1.7zM188.3 1057.2h1.7v1.7h-1.7zM157.2 1056.0h1.7v1.7h-1.7zM179.8 1043.0h1.7v1.7h-1.7zM178.7 1089.6h1.7v1.7h-1.7zM159.0 1035.5h1.7v1.7h-1.7zM176.6 1075.2h1.7v1.7h-1.7zM165.1 1022.5h1.7v1.7h-1.7zM186.3 1047.9h1.7v1.7h-1.7zM166.1 1022.1h1.7v1.7h-1.7zM192.1 1089.2h1.7v1.7h-1.7zM157.4 1020.9h1.7v1.7h-1.7zM185.5 1041.4h1.7v1.7h-1.7zM154.9 1070.8h1.7v1.7h-1.7zM168.2 1075.0h1.7v1.7h-1.7zM134.9 1002.9h1.7v1.7h-1.7zM178.9 1013.7h1.7v1.7h-1.7z" fill="#000"/>
<ellipse cx="166.3" cy="1042.7" rx="30.4" ry="21.1" transform="rotate(71.9 166.3 1042.7)" fill="#000"/>
<path d="M171.8 1052.2h1.3v1.3h-1.3zM175.1 1043.0h1.3v1.3h-1.3zM173.2 1041.8h1.3v1.3h-1.3zM178.0 1047.5h1.3v1.3h-1.3zM173.9 1032.1h1.3v1.3h-1.3zM155.9 1029.8h1.3v1.3h-1.3zM174.0 1057.0h1.3v1.3h-1.3zM158.7 1052.5h1.3v1.3h-1.3zM160.2 1029.7h1.3v1.3h-1.3zM165.5 1032.9h1.3v1.3h-1.3zM161.0 1035.2h1.3v1.3h-1.3zM153.8 1039.2h1.3v1.3h-1.3zM164.1 1046.7h1.3v1.3h-1.3zM169.8 1049.4h1.3v1.3h-1.3zM172.5 1054.7h1.3v1.3h-1.3zM160.6 1025.8h1.3v1.3h-1.3zM166.2 1046.8h1.3v1.3h-1.3zM167.9 1037.7h1.3v1.3h-1.3zM169.3 1056.7h1.3v1.3h-1.3zM157.3 1030.0h1.3v1.3h-1.3zM172.5 1030.1h1.3v1.3h-1.3zM165.1 1037.4h1.3v1.3h-1.3zM163.7 1054.4h1.3v1.3h-1.3zM177.0 1053.4h1.3v1.3h-1.3zM179.0 1046.1h1.3v1.3h-1.3zM166.2 1032.3h1.3v1.3h-1.3zM154.0 1034.7h1.3v1.3h-1.3zM159.7 1046.8h1.3v1.3h-1.3zM160.8 1032.2h1.3v1.3h-1.3zM176.0 1055.6h1.3v1.3h-1.3zM159.7 1054.4h1.3v1.3h-1.3zM175.0 1044.6h1.3v1.3h-1.3zM174.2 1053.8h1.3v1.3h-1.3zM171.9 1059.6h1.3v1.3h-1.3zM168.0 1034.2h1.3v1.3h-1.3zM161.1 1041.9h1.3v1.3h-1.3zM175.1 1058.2h1.3v1.3h-1.3zM167.8 1032.6h1.3v1.3h-1.3z" fill="#fff"/>
<ellipse cx="165.5" cy="1042.2" rx="53.3" ry="31.3" transform="rotate(69.1 165.5 1042.2)" fill="none" stroke="#000" stroke-width="4.2"/>
</g>
<rect x="112.4" y="724.3" width="863.2" height="502.60000000000014" fill="none" stroke="#000" stroke-width="1.6"/>
<path d="M117.06 1226.9v-5.2M117.06 724.3v5.2M141.23 1226.9v-5.2M141.23 724.3v5.2M165.40 1226.9v-10.5M165.40 724.3v10.5M189.57 1226.9v-5.2M189.57 724.3v5.2M213.74 1226.9v-5.2M213.74 724.3v5.2M237.91 1226.9v-5.2M237.91 724.3v5.2M262.08 1226.9v-5.2M262.08 724.3v5.2M286.25 1226.9v-5.2M286.25 724.3v5.2M310.42 1226.9v-5.2M310.42 724.3v5.2M334.59 1226.9v-5.2M334.59 724.3v5.2M358.76 1226.9v-5.2M358.76 724.3v5.2M382.93 1226.9v-5.2M382.93 724.3v5.2M407.10 1226.9v-10.5M407.10 724.3v10.5M431.27 1226.9v-5.2M431.27 724.3v5.2M455.44 1226.9v-5.2M455.44 724.3v5.2M479.61 1226.9v-5.2M479.61 724.3v5.2M503.78 1226.9v-5.2M503.78 724.3v5.2M527.95 1226.9v-5.2M527.95 724.3v5.2M552.12 1226.9v-5.2M552.12 724.3v5.2M576.29 1226.9v-5.2M576.29 724.3v5.2M600.46 1226.9v-5.2M600.46 724.3v5.2M624.63 1226.9v-5.2M624.63 724.3v5.2M648.80 1226.9v-10.5M648.80 724.3v10.5M672.97 1226.9v-5.2M672.97 724.3v5.2M697.14 1226.9v-5.2M697.14 724.3v5.2M721.31 1226.9v-5.2M721.31 724.3v5.2M745.48 1226.9v-5.2M745.48 724.3v5.2M769.65 1226.9v-5.2M769.65 724.3v5.2M793.82 1226.9v-5.2M793.82 724.3v5.2M817.99 1226.9v-5.2M817.99 724.3v5.2M842.16 1226.9v-5.2M842.16 724.3v5.2M866.33 1226.9v-5.2M866.33 724.3v5.2M890.50 1226.9v-10.5M890.50 724.3v10.5M914.67 1226.9v-5.2M914.67 724.3v5.2M938.84 1226.9v-5.2M938.84 724.3v5.2M963.01 1226.9v-5.2M963.01 724.3v5.2M112.4 1198.30h8.7M975.6 1198.30h-8.7M112.4 1167.50h17.5M975.6 1167.50h-17.5M112.4 1136.70h8.7M975.6 1136.70h-8.7M112.4 1105.90h8.7M975.6 1105.90h-8.7M112.4 1075.10h8.7M975.6 1075.10h-8.7M112.4 1044.30h17.5M975.6 1044.30h-17.5M112.4 1013.50h8.7M975.6 1013.50h-8.7M112.4 982.70h8.7M975.6 982.70h-8.7M112.4 951.90h8.7M975.6 951.90h-8.7M112.4 921.10h17.5M975.6 921.10h-17.5M112.4 890.30h8.7M975.6 890.30h-8.7M112.4 859.50h8.7M975.6 859.50h-8.7M112.4 828.70h8.7M975.6 828.70h-8.7M112.4 797.90h17.5M975.6 797.90h-17.5M112.4 767.10h8.7M975.6 767.10h-8.7M112.4 736.30h8.7M975.6 736.30h-8.7" stroke="#000" stroke-width="1.6" fill="none"/>
<g clip-path="url(#cp1)">
<g>
<ellipse cx="746.37" cy="1019.32" rx="270.39" ry="187.36" transform="rotate(38.68 746.37 1019.32)" fill="#ffe6ff"/>
<ellipse cx="746.37" cy="1019.32" rx="243.35" ry="168.62" transform="rotate(38.68 746.37 1019.32)" fill="#ffccff"/>
<ellipse cx="746.37" cy="1019.32" rx="216.31" ry="149.89" transform="rotate(38.68 746.37 1019.32)" fill="#ffb2ff"/>
<ellipse cx="746.37" cy="1019.32" rx="189.27" ry="131.15" transform="rotate(38.68 746.37 1019.32)" fill="#ff99ff"/>
<ellipse cx="746.37" cy="1019.32" rx="162.23" ry="112.42" transform="rotate(38.68 746.37 1019.32)" fill="#ff80ff"/>
<ellipse cx="746.37" cy="1019.32" rx="135.19" ry="93.68" transform="rotate(38.68 746.37 1019.32)" fill="#ff66ff"/>
<ellipse cx="746.37" cy="1019.32" rx="108.16" ry="74.94" transform="rotate(38.68 746.37 1019.32)" fill="#ff4cff"/>
<ellipse cx="746.37" cy="1019.32" rx="81.12" ry="56.21" transform="rotate(38.68 746.37 1019.32)" fill="#ff33ff"/>
<ellipse cx="746.37" cy="1019.32" rx="54.08" ry="37.47" transform="rotate(38.68 746.37 1019.32)" fill="#ff1aff"/>
<ellipse cx="746.37" cy="1019.32" rx="27.04" ry="18.74" transform="rotate(38.68 746.37 1019.32)" fill="#ff00ff"/>
<ellipse cx="746.37" cy="1019.32" rx="270.39" ry="187.36" transform="rotate(38.68 746.37 1019.32)" fill="none" stroke="#ff00ff" stroke-width="1.7"/>
<ellipse cx="746.37" cy="1019.32" rx="135.19" ry="93.68" transform="rotate(38.68 746.37 1019.32)" fill="none" stroke="#ff00ff" stroke-width="3.4"/>
</g>
<g>
<ellipse cx="741.91" cy="1051.85" rx="243.45" ry="111.82" transform="rotate(23.47 741.91 1051.85)" fill="#f5eee8"/>
<ellipse cx="741.91" cy="1051.85" rx="219.10" ry="100.64" transform="rotate(23.47 741.91 1051.85)" fill="#ebdcd1"/>
<ellipse cx="741.91" cy="1051.85" rx="194.76" ry="89.46" transform="rotate(23.47 741.91 1051.85)" fill="#e0cbbb"/>
<ellipse cx="741.91" cy="1051.85" rx="170.41" ry="78.27" transform="rotate(23.47 741.91 1051.85)" fill="#d6b9a4"/>
<ellipse cx="741.91" cy="1051.85" rx="146.07" ry="67.09" transform="rotate(23.47 741.91 1051.85)" fill="#cca88d"/>
<ellipse cx="741.91" cy="1051.85" rx="121.72" ry="55.91" transform="rotate(23.47 741.91 1051.85)" fill="#c29776"/>
<ellipse cx="741.91" cy="1051.85" rx="97.38" ry="44.73" transform="rotate(23.47 741.91 1051.85)" fill="#b8855f"/>
<ellipse cx="741.91" cy="1051.85" rx="73.04" ry="33.55" transform="rotate(23.47 741.91 1051.85)" fill="#ad7449"/>
<ellipse cx="741.91" cy="1051.85" rx="48.69" ry="22.36" transform="rotate(23.47 741.91 1051.85)" fill="#a36232"/>
<ellipse cx="741.91" cy="1051.85" rx="24.34" ry="11.18" transform="rotate(23.47 741.91 1051.85)" fill="#99511b"/>
<ellipse cx="741.91" cy="1051.85" rx="243.45" ry="111.82" transform="rotate(23.47 741.91 1051.85)" fill="none" stroke="#99511b" stroke-width="1.5"/>
<ellipse cx="741.91" cy="1051.85" rx="121.72" ry="55.91" transform="rotate(23.47 741.91 1051.85)" fill="none" stroke="#99511b" stroke-width="3.4"/>
</g>
<g>
<ellipse cx="786.02" cy="1052.87" rx="108.98" ry="53.70" transform="rotate(33.98 786.02 1052.87)" fill="#e6f0ff"/>
<ellipse cx="785.22" cy="1052.61" rx="98.08" ry="48.33" transform="rotate(33.98 785.22 1052.61)" fill="#cce0ff"/>
<ellipse cx="784.42" cy="1052.35" rx="87.18" ry="42.96" transform="rotate(33.98 784.42 1052.35)" fill="#b2d1ff"/>
<ellipse cx="783.62" cy="1052.09" rx="76.29" ry="37.59" transform="rotate(33.98 783.62 1052.09)" fill="#99c2ff"/>
<ellipse cx="782.82" cy="1051.83" rx="65.39" ry="32.22" transform="rotate(33.98 782.82 1051.83)" fill="#80b2ff"/>
<ellipse cx="782.02" cy="1051.57" rx="54.49" ry="26.85" transform="rotate(33.98 782.02 1051.57)" fill="#66a3ff"/>
<ellipse cx="781.22" cy="1051.31" rx="43.59" ry="21.48" transform="rotate(33.98 781.22 1051.31)" fill="#4c94ff"/>
<ellipse cx="780.42" cy="1051.05" rx="32.69" ry="16.11" transform="rotate(33.98 780.42 1051.05)" fill="#3385ff"/>
<ellipse cx="779.62" cy="1050.79" rx="21.80" ry="10.74" transform="rotate(33.98 779.62 1050.79)" fill="#1a75ff"/>
<ellipse cx="778.82" cy="1050.53" rx="10.90" ry="5.37" transform="rotate(33.98 778.82 1050.53)" fill="#0066ff"/>
<ellipse cx="786.02" cy="1052.87" rx="108.98" ry="53.70" transform="rotate(33.98 786.02 1052.87)" fill="none" stroke="#0066ff" stroke-width="1.8"/>
<ellipse cx="782.02" cy="1051.57" rx="54.49" ry="26.85" transform="rotate(33.98 782.02 1051.57)" fill="none" stroke="#0066ff" stroke-width="3.4"/>
</g>
<circle cx="793.4" cy="736.0" r="7.05" fill="none" stroke="#8020ff" stroke-width="1.45"/>
<polygon points="617.2,845.2 624.1,831.8 631.0,845.2" fill="none" stroke="#8020ff" stroke-width="1.5" stroke-linejoin="miter"/>
<circle cx="648.9" cy="845.1" r="7.05" fill="none" stroke="#ff0000" stroke-width="1.45"/>
<polygon points="593.9,925.5 600.8,912.0 607.6,925.5" fill="none" stroke="#c8641e" stroke-width="1.5" stroke-linejoin="miter"/>
<circle cx="672.2" cy="917.0" r="7.3" fill="#aaaaaa"/>
<polygon points="689.6,936.9 696.5,923.4 703.4,936.9" fill="none" stroke="#ff8800" stroke-width="1.5" stroke-linejoin="miter"/>
<circle cx="648.9" cy="948.6" r="7.3" fill="#ff0000"/>
<polygon points="521.1,964.6 528.4,950.0 535.7,964.6" fill="#66ccff"/>
<polygon points="737.3,979.6 744.6,965.0 751.9,979.6" fill="#ff00ff"/>
<text transform="translate(768.9 972.8) scale(0.86 1)" class="lt">O</text>
<circle cx="793.2" cy="975.0" r="7.05" fill="none" stroke="#66ccff" stroke-width="1.45"/>
<polygon points="906.8,997.2 913.6,983.8 920.5,997.2" fill="none" stroke="#0066ff" stroke-width="1.5" stroke-linejoin="miter"/>
<polygon points="593.4,1001.2 600.7,986.6 608.0,1001.2" fill="#8020ff"/>
<polygon points="568.8,1011.5 576.1,996.9 583.4,1011.5" fill="#ff0000"/>
<polygon points="544.7,1041.3 552.0,1026.7 559.3,1041.3" fill="#0066ff"/>
<circle cx="503.7" cy="1092.6" r="7.05" fill="none" stroke="#ff8800" stroke-width="1.45"/>
<circle cx="648.5" cy="1066.3" r="7.05" fill="none" stroke="#c8641e" stroke-width="1.45"/>
<circle cx="673.0" cy="1050.8" r="7.3" fill="#ff8800"/>
<circle cx="673.0" cy="1066.3" r="7.05" fill="none" stroke="#ff00ff" stroke-width="1.45"/>
<polygon points="617.5,1088.6 624.4,1075.2 631.2,1088.6" fill="none" stroke="#000000" stroke-width="1.5" stroke-linejoin="miter"/>
<text transform="translate(696.8 1024.8) scale(0.86 1)" class="lt">K</text>
<polygon points="713.6,1026.3 720.9,1011.7 728.2,1026.3" fill="#66ccff"/>
<circle cx="720.9" cy="1016.6" r="7.3" fill="#ff00ff"/>
<polygon points="714.0,1047.2 720.9,1033.9 727.8,1047.2" fill="none" stroke="#ff00ff" stroke-width="1.5" stroke-linejoin="miter"/>
<circle cx="745.0" cy="1042.5" r="7.05" fill="none" stroke="#cc99ff" stroke-width="1.45"/>
<text transform="translate(745.0 1062.5) scale(0.86 1)" class="lt">C</text>
<polygon points="738.1,1078.8 745.0,1065.5 751.9,1078.8" fill="none" stroke="#ff0000" stroke-width="1.5" stroke-linejoin="miter"/>
<rect x="762.2" y="999.5" width="14" height="14" fill="#000000"/>
<text transform="translate(770.0 1030.0) scale(0.86 1)" class="lt">I</text>
<text transform="translate(770.0 1042.1) scale(0.86 1)" class="lt">M</text>
<text transform="translate(770.0 1047.7) scale(0.86 1)" class="lt">G</text>
<text transform="translate(770.0 1054.7) scale(0.86 1)" class="lt">D</text>
<text transform="translate(769.4 1066.8) scale(0.86 1)" class="lt">F</text>
<text transform="translate(769.4 1080.7) scale(0.86 1)" class="lt">J</text>
<text transform="translate(770.0 1098.0) scale(0.86 1)" class="lt">D</text>
<polygon points="761.9,1101.9 769.2,1087.3 776.5,1101.9" fill="#c8641e"/>
<polygon points="761.9,1114.3 769.2,1099.7 776.5,1114.3" fill="#000000"/>
<circle cx="769.2" cy="1120.4" r="7.05" fill="none" stroke="#00ff00" stroke-width="1.45"/>
<polygon points="786.5,1072.8 793.4,1059.5 800.2,1072.8" fill="none" stroke="#00ff00" stroke-width="1.5" stroke-linejoin="miter"/>
<circle cx="793.4" cy="1062.9" r="7.3" fill="#0066ff"/>
<text transform="translate(793.4 1112.0) scale(0.86 1)" class="lt">N</text>
<circle cx="817.6" cy="1064.0" r="7.3" fill="#66ccff"/>
<text transform="translate(817.6 1102.3) scale(0.86 1)" class="lt">R</text>
<text transform="translate(841.8 1067.9) scale(0.86 1)" class="lt">P</text>
<circle cx="841.8" cy="1071.0" r="7.3" fill="#000000"/>
<text transform="translate(841.8 1090.5) scale(0.86 1)" class="lt">L</text>
<circle cx="841.8" cy="1107.0" r="7.3" fill="#8020ff"/>
<circle cx="866.0" cy="1115.0" r="7.3" fill="#c8641e"/>
<circle cx="866.0" cy="1150.0" r="7.05" fill="none" stroke="#0066ff" stroke-width="1.45"/>
<polygon points="858.7,1179.9 866.0,1165.3 873.3,1179.9" fill="#00ff00"/>
<circle cx="890.2" cy="1018.3" r="7.3" fill="#cc99ff"/>
<polygon points="883.4,1059.0 890.2,1045.7 897.1,1059.0" fill="none" stroke="#cc99ff" stroke-width="1.5" stroke-linejoin="miter"/>
<text transform="translate(914.4 1113.6) scale(0.86 1)" class="lt">A</text>
<polygon points="931.3,1056.8 938.6,1042.2 945.9,1056.8" fill="#ff8800"/>
<circle cx="962.8" cy="1131.2" r="7.05" fill="none" stroke="#000000" stroke-width="1.45"/>
<circle cx="962.8" cy="1214.5" r="7.05" fill="none" stroke="#aaaaaa" stroke-width="1.45"/>
<polygon points="713.6,1160.0 720.9,1145.4 728.2,1160.0" fill="#cc99ff"/>
<circle cx="769.2" cy="1175.8" r="7.3" fill="#00ff00"/>
</g>
<rect x="112.4" y="724.3" width="863.2" height="502.60000000000014" fill="none" stroke="#000" stroke-width="1.6"/>
<text class="t" x="165.4" y="1270.4" font-size="35" text-anchor="middle">0</text>
<text class="t" x="407.1" y="1270.4" font-size="35" text-anchor="middle">1</text>
<text class="t" x="648.8" y="1270.4" font-size="35" text-anchor="middle">2</text>
<text class="t" x="890.5" y="1270.4" font-size="35" text-anchor="middle">3</text>
<text class="t" x="105.3" y="1180.1" font-size="35" text-anchor="end">-20</text>
<text class="t" x="105.3" y="1056.9" font-size="35" text-anchor="end">0</text>
<text class="t" x="105.3" y="933.7" font-size="35" text-anchor="end">20</text>
<text class="t" x="105.3" y="810.5" font-size="35" text-anchor="end">40</text>
<text class="t" x="544.0" y="1308.4" font-size="34.2" text-anchor="middle">Mean temperature change (<tspan font-size="22.5" dy="-12">o</tspan><tspan dy="12">C)</tspan></text>
<text class="t" transform="translate(27.5 975.6) rotate(-90)" x="0" y="0" font-size="33.7" text-anchor="middle">Precipitation change (%)</text>
<text class="t" x="544.0" y="1380.6" font-size="43" text-anchor="middle">Uganda SON</text>
<g clip-path="url(#cp2)">
<line x1="174.7" y1="1398.1" x2="174.7" y2="1900.8" stroke="#000" stroke-width="2.4" stroke-dasharray="4.5 10.2"/>
<line x1="112.4" y1="1785.5" x2="975.6" y2="1785.5" stroke="#000" stroke-width="2.4" stroke-dasharray="4.5 10.2"/>
<path d="M185.1 1802.2h1.7v1.7h-1.7zM182.7 1803.7h1.7v1.7h-1.7zM163.8 1771.9h1.7v1.7h-1.7zM161.4 1768.0h1.7v1.7h-1.7zM195.1 1799.7h1.7v1.7h-1.7zM162.6 1769.1h1.7v1.7h-1.7zM201.7 1788.2h1.7v1.7h-1.7zM163.4 1783.4h1.7v1.7h-1.7zM192.2 1808.3h1.7v1.7h-1.7zM171.5 1769.5h1.7v1.7h-1.7zM153.0 1776.7h1.7v1.7h-1.7zM173.5 1796.6h1.7v1.7h-1.7zM185.6 1802.4h1.7v1.7h-1.7zM161.3 1765.6h1.7v1.7h-1.7zM173.2 1788.4h1.7v1.7h-1.7zM155.2 1787.4h1.7v1.7h-1.7zM145.2 1766.8h1.7v1.7h-1.7zM156.4 1778.7h1.7v1.7h-1.7zM185.7 1787.4h1.7v1.7h-1.7zM175.7 1798.6h1.7v1.7h-1.7zM165.3 1771.1h1.7v1.7h-1.7zM158.3 1771.3h1.7v1.7h-1.7zM164.5 1759.7h1.7v1.7h-1.7zM192.6 1781.5h1.7v1.7h-1.7zM129.4 1763.6h1.7v1.7h-1.7zM148.7 1774.7h1.7v1.7h-1.7zM198.8 1786.6h1.7v1.7h-1.7zM147.0 1779.8h1.7v1.7h-1.7zM148.1 1755.8h1.7v1.7h-1.7zM162.7 1768.8h1.7v1.7h-1.7zM198.0 1795.8h1.7v1.7h-1.7zM134.1 1776.3h1.7v1.7h-1.7zM186.5 1789.1h1.7v1.7h-1.7zM203.5 1810.1h1.7v1.7h-1.7zM191.3 1787.1h1.7v1.7h-1.7zM167.3 1796.4h1.7v1.7h-1.7zM187.9 1789.5h1.7v1.7h-1.7zM147.4 1774.1h1.7v1.7h-1.7zM173.9 1794.8h1.7v1.7h-1.7zM184.0 1799.3h1.7v1.7h-1.7zM174.1 1788.6h1.7v1.7h-1.7zM165.4 1783.2h1.7v1.7h-1.7zM180.9 1792.2h1.7v1.7h-1.7zM159.2 1780.3h1.7v1.7h-1.7zM177.0 1775.2h1.7v1.7h-1.7zM172.6 1790.2h1.7v1.7h-1.7zM159.1 1792.3h1.7v1.7h-1.7zM176.3 1796.7h1.7v1.7h-1.7zM194.9 1777.6h1.7v1.7h-1.7zM138.8 1769.0h1.7v1.7h-1.7zM169.3 1775.7h1.7v1.7h-1.7zM182.8 1792.8h1.7v1.7h-1.7zM183.9 1779.8h1.7v1.7h-1.7zM210.0 1781.3h1.7v1.7h-1.7zM195.4 1790.7h1.7v1.7h-1.7zM189.5 1793.4h1.7v1.7h-1.7zM173.7 1799.0h1.7v1.7h-1.7zM172.4 1760.8h1.7v1.7h-1.7zM173.1 1758.2h1.7v1.7h-1.7zM165.5 1770.3h1.7v1.7h-1.7zM185.7 1783.7h1.7v1.7h-1.7zM187.4 1775.2h1.7v1.7h-1.7zM180.5 1785.2h1.7v1.7h-1.7zM181.6 1812.3h1.7v1.7h-1.7zM183.7 1798.7h1.7v1.7h-1.7zM161.3 1769.8h1.7v1.7h-1.7zM215.8 1790.0h1.7v1.7h-1.7zM167.6 1785.3h1.7v1.7h-1.7zM194.8 1790.1h1.7v1.7h-1.7zM172.6 1789.2h1.7v1.7h-1.7zM198.8 1799.1h1.7v1.7h-1.7zM164.9 1792.1h1.7v1.7h-1.7zM196.1 1791.2h1.7v1.7h-1.7zM182.0 1787.6h1.7v1.7h-1.7zM184.1 1772.4h1.7v1.7h-1.7zM179.7 1786.8h1.7v1.7h-1.7zM152.0 1771.2h1.7v1.7h-1.7zM161.1 1770.1h1.7v1.7h-1.7zM159.7 1798.5h1.7v1.7h-1.7zM200.3 1787.9h1.7v1.7h-1.7zM198.9 1795.0h1.7v1.7h-1.7zM196.4 1804.7h1.7v1.7h-1.7zM194.5 1806.6h1.7v1.7h-1.7zM170.1 1776.3h1.7v1.7h-1.7zM177.6 1789.5h1.7v1.7h-1.7zM186.2 1817.1h1.7v1.7h-1.7zM171.0 1804.1h1.7v1.7h-1.7zM183.0 1796.5h1.7v1.7h-1.7zM157.3 1776.5h1.7v1.7h-1.7zM188.9 1791.0h1.7v1.7h-1.7zM162.4 1778.4h1.7v1.7h-1.7zM192.3 1804.8h1.7v1.7h-1.7zM159.4 1786.2h1.7v1.7h-1.7zM174.0 1780.0h1.7v1.7h-1.7zM198.9 1803.8h1.7v1.7h-1.7zM178.6 1786.7h1.7v1.7h-1.7zM114.2 1760.3h1.7v1.7h-1.7zM214.2 1779.7h1.7v1.7h-1.7zM129.2 1753.7h1.7v1.7h-1.7zM192.6 1798.9h1.7v1.7h-1.7zM189.1 1784.3h1.7v1.7h-1.7zM154.6 1777.4h1.7v1.7h-1.7zM145.0 1780.9h1.7v1.7h-1.7zM188.6 1791.2h1.7v1.7h-1.7zM153.2 1789.4h1.7v1.7h-1.7zM182.0 1769.6h1.7v1.7h-1.7zM167.2 1759.2h1.7v1.7h-1.7zM194.8 1783.8h1.7v1.7h-1.7zM171.5 1787.1h1.7v1.7h-1.7zM204.9 1785.8h1.7v1.7h-1.7zM188.4 1787.2h1.7v1.7h-1.7zM182.3 1764.8h1.7v1.7h-1.7zM175.1 1787.1h1.7v1.7h-1.7zM178.1 1793.1h1.7v1.7h-1.7zM168.1 1763.3h1.7v1.7h-1.7zM192.9 1780.5h1.7v1.7h-1.7zM225.1 1809.5h1.7v1.7h-1.7zM133.0 1769.7h1.7v1.7h-1.7zM175.7 1777.5h1.7v1.7h-1.7zM166.8 1776.9h1.7v1.7h-1.7zM143.1 1778.0h1.7v1.7h-1.7zM197.3 1798.3h1.7v1.7h-1.7zM159.9 1779.6h1.7v1.7h-1.7zM193.3 1800.2h1.7v1.7h-1.7zM169.1 1785.5h1.7v1.7h-1.7zM148.6 1779.0h1.7v1.7h-1.7zM199.3 1807.4h1.7v1.7h-1.7zM190.3 1799.4h1.7v1.7h-1.7zM144.3 1782.7h1.7v1.7h-1.7zM202.9 1790.0h1.7v1.7h-1.7zM166.7 1789.0h1.7v1.7h-1.7zM189.7 1782.0h1.7v1.7h-1.7zM161.1 1764.3h1.7v1.7h-1.7zM177.3 1795.8h1.7v1.7h-1.7zM191.9 1791.7h1.7v1.7h-1.7zM183.3 1784.5h1.7v1.7h-1.7zM196.0 1797.8h1.7v1.7h-1.7zM164.0 1792.3h1.7v1.7h-1.7zM176.9 1783.0h1.7v1.7h-1.7zM157.3 1774.8h1.7v1.7h-1.7zM209.1 1792.9h1.7v1.7h-1.7zM202.4 1788.9h1.7v1.7h-1.7zM155.4 1785.6h1.7v1.7h-1.7zM159.3 1773.2h1.7v1.7h-1.7zM162.1 1792.2h1.7v1.7h-1.7zM187.8 1787.4h1.7v1.7h-1.7zM166.3 1784.7h1.7v1.7h-1.7zM159.7 1783.9h1.7v1.7h-1.7zM193.3 1803.6h1.7v1.7h-1.7zM149.8 1786.3h1.7v1.7h-1.7zM169.0 1798.4h1.7v1.7h-1.7zM186.4 1790.5h1.7v1.7h-1.7zM132.8 1781.2h1.7v1.7h-1.7zM159.3 1781.2h1.7v1.7h-1.7zM187.6 1808.2h1.7v1.7h-1.7zM149.5 1789.5h1.7v1.7h-1.7zM165.3 1776.9h1.7v1.7h-1.7zM214.6 1806.3h1.7v1.7h-1.7zM180.9 1773.9h1.7v1.7h-1.7zM187.0 1766.2h1.7v1.7h-1.7zM176.3 1792.9h1.7v1.7h-1.7zM181.1 1777.4h1.7v1.7h-1.7zM210.3 1803.0h1.7v1.7h-1.7zM164.7 1778.1h1.7v1.7h-1.7zM160.0 1767.1h1.7v1.7h-1.7zM151.0 1762.4h1.7v1.7h-1.7zM135.4 1765.5h1.7v1.7h-1.7zM167.6 1777.1h1.7v1.7h-1.7zM182.3 1783.2h1.7v1.7h-1.7zM215.4 1794.4h1.7v1.7h-1.7zM176.3 1792.1h1.7v1.7h-1.7zM173.8 1773.1h1.7v1.7h-1.7zM148.2 1781.9h1.7v1.7h-1.7zM168.0 1785.6h1.7v1.7h-1.7zM142.4 1759.5h1.7v1.7h-1.7zM183.9 1788.6h1.7v1.7h-1.7zM178.6 1777.6h1.7v1.7h-1.7zM193.7 1793.5h1.7v1.7h-1.7zM185.7 1796.5h1.7v1.7h-1.7zM164.0 1777.9h1.7v1.7h-1.7zM181.0 1778.9h1.7v1.7h-1.7zM177.6 1778.7h1.7v1.7h-1.7zM147.9 1770.2h1.7v1.7h-1.7zM175.5 1793.4h1.7v1.7h-1.7zM188.6 1783.6h1.7v1.7h-1.7zM155.2 1785.4h1.7v1.7h-1.7zM170.2 1762.6h1.7v1.7h-1.7zM145.6 1759.9h1.7v1.7h-1.7zM214.1 1792.1h1.7v1.7h-1.7zM203.0 1792.9h1.7v1.7h-1.7zM173.2 1774.0h1.7v1.7h-1.7zM201.1 1814.3h1.7v1.7h-1.7zM158.7 1780.4h1.7v1.7h-1.7zM148.1 1764.2h1.7v1.7h-1.7zM181.3 1783.8h1.7v1.7h-1.7zM194.6 1771.6h1.7v1.7h-1.7zM219.7 1806.8h1.7v1.7h-1.7zM144.6 1758.0h1.7v1.7h-1.7zM149.8 1759.5h1.7v1.7h-1.7zM193.0 1794.3h1.7v1.7h-1.7zM191.4 1806.4h1.7v1.7h-1.7zM215.3 1799.1h1.7v1.7h-1.7zM154.5 1775.8h1.7v1.7h-1.7zM194.1 1810.1h1.7v1.7h-1.7zM171.5 1788.1h1.7v1.7h-1.7zM202.7 1815.0h1.7v1.7h-1.7zM143.0 1776.0h1.7v1.7h-1.7zM191.7 1799.4h1.7v1.7h-1.7zM181.9 1770.7h1.7v1.7h-1.7zM177.9 1797.6h1.7v1.7h-1.7zM199.7 1777.5h1.7v1.7h-1.7zM191.8 1802.1h1.7v1.7h-1.7zM198.5 1788.9h1.7v1.7h-1.7zM182.1 1780.2h1.7v1.7h-1.7zM171.9 1783.1h1.7v1.7h-1.7zM187.6 1779.1h1.7v1.7h-1.7zM183.6 1812.3h1.7v1.7h-1.7zM175.0 1787.5h1.7v1.7h-1.7zM175.6 1780.9h1.7v1.7h-1.7zM171.7 1778.1h1.7v1.7h-1.7zM203.5 1803.4h1.7v1.7h-1.7zM159.0 1765.7h1.7v1.7h-1.7zM174.5 1768.4h1.7v1.7h-1.7zM179.4 1797.1h1.7v1.7h-1.7zM149.3 1758.7h1.7v1.7h-1.7zM166.2 1770.2h1.7v1.7h-1.7zM197.8 1779.4h1.7v1.7h-1.7zM172.1 1789.8h1.7v1.7h-1.7zM211.7 1806.4h1.7v1.7h-1.7zM175.0 1798.2h1.7v1.7h-1.7zM149.6 1767.9h1.7v1.7h-1.7zM202.2 1794.5h1.7v1.7h-1.7zM179.9 1797.4h1.7v1.7h-1.7zM178.0 1796.0h1.7v1.7h-1.7zM179.9 1772.4h1.7v1.7h-1.7zM156.3 1759.1h1.7v1.7h-1.7zM189.0 1792.6h1.7v1.7h-1.7zM173.3 1769.4h1.7v1.7h-1.7zM228.5 1820.7h1.7v1.7h-1.7zM149.0 1779.3h1.7v1.7h-1.7zM172.8 1794.4h1.7v1.7h-1.7zM202.4 1818.9h1.7v1.7h-1.7zM181.4 1789.5h1.7v1.7h-1.7zM177.3 1772.5h1.7v1.7h-1.7zM146.2 1790.8h1.7v1.7h-1.7zM173.4 1773.0h1.7v1.7h-1.7zM175.0 1760.9h1.7v1.7h-1.7zM190.2 1786.3h1.7v1.7h-1.7zM180.1 1780.4h1.7v1.7h-1.7zM122.3 1776.5h1.7v1.7h-1.7zM177.8 1775.8h1.7v1.7h-1.7zM157.5 1771.8h1.7v1.7h-1.7zM174.4 1772.2h1.7v1.7h-1.7zM155.4 1776.9h1.7v1.7h-1.7zM204.9 1788.7h1.7v1.7h-1.7zM171.3 1793.3h1.7v1.7h-1.7zM203.2 1790.9h1.7v1.7h-1.7zM158.0 1766.4h1.7v1.7h-1.7zM176.5 1798.6h1.7v1.7h-1.7zM179.4 1776.0h1.7v1.7h-1.7zM156.1 1780.1h1.7v1.7h-1.7zM166.4 1775.6h1.7v1.7h-1.7zM179.4 1783.8h1.7v1.7h-1.7zM183.7 1777.1h1.7v1.7h-1.7zM171.5 1790.8h1.7v1.7h-1.7zM171.0 1788.7h1.7v1.7h-1.7zM189.9 1792.9h1.7v1.7h-1.7zM194.8 1803.8h1.7v1.7h-1.7zM190.4 1792.3h1.7v1.7h-1.7zM171.9 1796.8h1.7v1.7h-1.7zM161.2 1787.3h1.7v1.7h-1.7zM123.6 1739.2h1.7v1.7h-1.7zM159.6 1783.0h1.7v1.7h-1.7zM174.4 1771.3h1.7v1.7h-1.7zM192.3 1786.8h1.7v1.7h-1.7zM164.7 1769.5h1.7v1.7h-1.7zM161.3 1769.7h1.7v1.7h-1.7zM177.9 1791.1h1.7v1.7h-1.7zM104.2 1770.4h1.7v1.7h-1.7zM153.9 1772.1h1.7v1.7h-1.7zM142.6 1772.2h1.7v1.7h-1.7zM160.4 1784.8h1.7v1.7h-1.7zM157.8 1786.7h1.7v1.7h-1.7zM149.6 1772.2h1.7v1.7h-1.7zM192.0 1790.7h1.7v1.7h-1.7zM144.5 1744.4h1.7v1.7h-1.7zM181.9 1768.6h1.7v1.7h-1.7zM182.4 1782.6h1.7v1.7h-1.7zM166.8 1773.0h1.7v1.7h-1.7zM167.3 1784.7h1.7v1.7h-1.7zM193.1 1771.8h1.7v1.7h-1.7zM191.3 1785.5h1.7v1.7h-1.7zM207.7 1794.1h1.7v1.7h-1.7zM155.8 1761.3h1.7v1.7h-1.7zM176.1 1783.9h1.7v1.7h-1.7zM160.3 1766.0h1.7v1.7h-1.7zM147.6 1784.0h1.7v1.7h-1.7zM176.4 1781.0h1.7v1.7h-1.7zM172.7 1784.4h1.7v1.7h-1.7zM167.2 1784.0h1.7v1.7h-1.7zM190.3 1793.6h1.7v1.7h-1.7zM175.4 1778.7h1.7v1.7h-1.7zM187.1 1790.4h1.7v1.7h-1.7zM185.1 1783.2h1.7v1.7h-1.7zM194.2 1786.9h1.7v1.7h-1.7zM189.8 1783.7h1.7v1.7h-1.7zM158.7 1797.0h1.7v1.7h-1.7zM184.2 1790.7h1.7v1.7h-1.7zM185.5 1801.1h1.7v1.7h-1.7zM179.2 1779.3h1.7v1.7h-1.7zM148.1 1759.5h1.7v1.7h-1.7zM205.8 1802.8h1.7v1.7h-1.7zM177.0 1787.8h1.7v1.7h-1.7zM156.8 1774.9h1.7v1.7h-1.7zM150.5 1780.1h1.7v1.7h-1.7zM199.2 1799.9h1.7v1.7h-1.7zM193.1 1815.0h1.7v1.7h-1.7zM162.0 1778.6h1.7v1.7h-1.7zM157.1 1773.0h1.7v1.7h-1.7zM199.6 1806.4h1.7v1.7h-1.7zM139.5 1773.2h1.7v1.7h-1.7zM185.2 1771.0h1.7v1.7h-1.7zM190.7 1791.1h1.7v1.7h-1.7zM155.5 1768.3h1.7v1.7h-1.7zM157.7 1763.3h1.7v1.7h-1.7zM183.8 1774.6h1.7v1.7h-1.7zM160.2 1768.5h1.7v1.7h-1.7zM181.4 1794.9h1.7v1.7h-1.7zM188.9 1802.3h1.7v1.7h-1.7zM166.7 1775.5h1.7v1.7h-1.7zM142.3 1780.8h1.7v1.7h-1.7zM183.0 1800.1h1.7v1.7h-1.7zM154.8 1772.4h1.7v1.7h-1.7zM154.3 1798.3h1.7v1.7h-1.7zM157.0 1769.9h1.7v1.7h-1.7zM178.9 1788.4h1.7v1.7h-1.7zM160.3 1778.0h1.7v1.7h-1.7zM169.9 1766.9h1.7v1.7h-1.7zM189.9 1797.1h1.7v1.7h-1.7zM159.1 1789.8h1.7v1.7h-1.7zM145.5 1759.6h1.7v1.7h-1.7zM194.0 1798.5h1.7v1.7h-1.7zM176.1 1779.2h1.7v1.7h-1.7zM193.0 1797.9h1.7v1.7h-1.7zM174.2 1787.5h1.7v1.7h-1.7zM198.5 1784.2h1.7v1.7h-1.7zM165.2 1760.6h1.7v1.7h-1.7zM178.0 1775.2h1.7v1.7h-1.7zM189.2 1768.8h1.7v1.7h-1.7zM213.1 1799.2h1.7v1.7h-1.7zM198.5 1771.5h1.7v1.7h-1.7zM201.4 1794.7h1.7v1.7h-1.7zM147.1 1776.7h1.7v1.7h-1.7zM183.3 1788.8h1.7v1.7h-1.7zM164.9 1781.4h1.7v1.7h-1.7zM190.1 1801.8h1.7v1.7h-1.7zM176.4 1790.1h1.7v1.7h-1.7zM157.4 1768.4h1.7v1.7h-1.7zM170.8 1782.5h1.7v1.7h-1.7zM185.9 1800.8h1.7v1.7h-1.7zM182.3 1790.9h1.7v1.7h-1.7zM141.8 1787.1h1.7v1.7h-1.7zM188.0 1770.4h1.7v1.7h-1.7zM178.8 1782.1h1.7v1.7h-1.7zM176.9 1770.5h1.7v1.7h-1.7zM181.4 1786.7h1.7v1.7h-1.7zM177.4 1791.0h1.7v1.7h-1.7zM158.3 1779.7h1.7v1.7h-1.7zM162.8 1795.8h1.7v1.7h-1.7zM218.8 1800.2h1.7v1.7h-1.7zM183.5 1792.6h1.7v1.7h-1.7zM142.8 1772.4h1.7v1.7h-1.7zM186.2 1771.2h1.7v1.7h-1.7zM187.5 1801.3h1.7v1.7h-1.7zM199.2 1803.7h1.7v1.7h-1.7zM186.1 1783.1h1.7v1.7h-1.7zM168.6 1784.0h1.7v1.7h-1.7zM189.8 1786.6h1.7v1.7h-1.7zM167.4 1790.6h1.7v1.7h-1.7zM193.8 1821.9h1.7v1.7h-1.7zM198.3 1792.9h1.7v1.7h-1.7zM154.9 1780.6h1.7v1.7h-1.7zM179.9 1786.5h1.7v1.7h-1.7zM173.5 1799.4h1.7v1.7h-1.7zM161.9 1788.7h1.7v1.7h-1.7zM188.2 1798.6h1.7v1.7h-1.7zM203.6 1794.3h1.7v1.7h-1.7zM150.5 1759.4h1.7v1.7h-1.7zM181.6 1803.2h1.7v1.7h-1.7zM193.2 1792.8h1.7v1.7h-1.7zM199.3 1800.0h1.7v1.7h-1.7zM183.8 1787.2h1.7v1.7h-1.7zM163.7 1794.5h1.7v1.7h-1.7zM121.8 1748.7h1.7v1.7h-1.7zM159.8 1773.1h1.7v1.7h-1.7zM157.6 1784.4h1.7v1.7h-1.7zM188.6 1775.2h1.7v1.7h-1.7zM156.8 1778.3h1.7v1.7h-1.7zM168.1 1776.5h1.7v1.7h-1.7zM157.9 1775.9h1.7v1.7h-1.7zM201.6 1801.7h1.7v1.7h-1.7zM186.0 1795.7h1.7v1.7h-1.7zM150.9 1758.6h1.7v1.7h-1.7zM154.8 1752.9h1.7v1.7h-1.7zM206.5 1805.3h1.7v1.7h-1.7zM180.1 1771.3h1.7v1.7h-1.7zM182.1 1787.8h1.7v1.7h-1.7zM208.6 1816.9h1.7v1.7h-1.7zM183.3 1786.2h1.7v1.7h-1.7zM136.7 1768.1h1.7v1.7h-1.7zM171.8 1781.6h1.7v1.7h-1.7zM173.8 1803.6h1.7v1.7h-1.7zM180.3 1794.9h1.7v1.7h-1.7zM182.7 1783.2h1.7v1.7h-1.7zM166.8 1776.9h1.7v1.7h-1.7zM181.3 1799.9h1.7v1.7h-1.7zM183.0 1779.1h1.7v1.7h-1.7zM168.8 1797.7h1.7v1.7h-1.7zM175.2 1783.2h1.7v1.7h-1.7zM169.3 1770.4h1.7v1.7h-1.7zM200.2 1797.9h1.7v1.7h-1.7zM170.7 1779.6h1.7v1.7h-1.7zM169.0 1781.8h1.7v1.7h-1.7zM180.7 1798.9h1.7v1.7h-1.7zM213.6 1785.1h1.7v1.7h-1.7zM190.8 1783.3h1.7v1.7h-1.7zM146.1 1773.5h1.7v1.7h-1.7zM171.8 1784.7h1.7v1.7h-1.7zM185.2 1765.2h1.7v1.7h-1.7zM199.1 1788.7h1.7v1.7h-1.7zM181.6 1781.9h1.7v1.7h-1.7zM169.3 1802.6h1.7v1.7h-1.7zM162.2 1776.8h1.7v1.7h-1.7zM163.6 1764.8h1.7v1.7h-1.7zM183.6 1786.1h1.7v1.7h-1.7zM162.9 1789.9h1.7v1.7h-1.7zM215.2 1781.7h1.7v1.7h-1.7zM185.6 1796.5h1.7v1.7h-1.7zM133.4 1773.4h1.7v1.7h-1.7zM169.4 1774.2h1.7v1.7h-1.7zM165.9 1776.3h1.7v1.7h-1.7zM190.9 1785.5h1.7v1.7h-1.7zM148.0 1762.2h1.7v1.7h-1.7zM168.3 1780.7h1.7v1.7h-1.7zM172.9 1784.8h1.7v1.7h-1.7zM121.6 1767.6h1.7v1.7h-1.7zM191.8 1766.0h1.7v1.7h-1.7zM186.5 1803.9h1.7v1.7h-1.7zM183.8 1778.7h1.7v1.7h-1.7zM180.4 1783.5h1.7v1.7h-1.7zM219.5 1794.9h1.7v1.7h-1.7zM175.4 1788.9h1.7v1.7h-1.7zM195.8 1786.4h1.7v1.7h-1.7zM198.5 1796.9h1.7v1.7h-1.7zM173.2 1792.0h1.7v1.7h-1.7zM170.0 1773.7h1.7v1.7h-1.7zM207.3 1801.0h1.7v1.7h-1.7zM146.8 1758.7h1.7v1.7h-1.7zM184.7 1780.5h1.7v1.7h-1.7zM162.9 1771.0h1.7v1.7h-1.7zM183.1 1790.8h1.7v1.7h-1.7zM173.5 1786.5h1.7v1.7h-1.7zM193.7 1786.3h1.7v1.7h-1.7zM173.1 1788.3h1.7v1.7h-1.7zM171.0 1772.6h1.7v1.7h-1.7zM196.4 1785.8h1.7v1.7h-1.7zM207.6 1819.2h1.7v1.7h-1.7zM190.7 1787.1h1.7v1.7h-1.7zM188.5 1778.2h1.7v1.7h-1.7zM183.8 1794.4h1.7v1.7h-1.7zM159.7 1788.3h1.7v1.7h-1.7zM151.5 1771.2h1.7v1.7h-1.7zM191.3 1795.9h1.7v1.7h-1.7zM183.9 1797.4h1.7v1.7h-1.7zM183.4 1789.5h1.7v1.7h-1.7zM193.2 1796.0h1.7v1.7h-1.7zM168.1 1783.9h1.7v1.7h-1.7zM202.2 1785.7h1.7v1.7h-1.7zM192.8 1781.5h1.7v1.7h-1.7zM151.9 1770.8h1.7v1.7h-1.7zM175.8 1787.3h1.7v1.7h-1.7zM215.1 1801.9h1.7v1.7h-1.7zM165.6 1792.1h1.7v1.7h-1.7zM194.6 1809.1h1.7v1.7h-1.7zM223.9 1795.7h1.7v1.7h-1.7zM209.5 1820.0h1.7v1.7h-1.7zM194.9 1806.7h1.7v1.7h-1.7zM186.9 1790.2h1.7v1.7h-1.7zM152.2 1761.2h1.7v1.7h-1.7zM192.4 1776.0h1.7v1.7h-1.7zM168.9 1770.5h1.7v1.7h-1.7zM146.7 1764.5h1.7v1.7h-1.7zM181.5 1773.0h1.7v1.7h-1.7zM187.6 1785.9h1.7v1.7h-1.7zM161.7 1786.4h1.7v1.7h-1.7zM165.6 1796.0h1.7v1.7h-1.7zM217.6 1811.3h1.7v1.7h-1.7zM184.2 1802.7h1.7v1.7h-1.7zM178.1 1778.1h1.7v1.7h-1.7zM224.2 1819.2h1.7v1.7h-1.7zM196.2 1790.4h1.7v1.7h-1.7zM171.7 1795.0h1.7v1.7h-1.7zM169.4 1778.2h1.7v1.7h-1.7zM158.3 1764.6h1.7v1.7h-1.7zM174.4 1794.0h1.7v1.7h-1.7zM161.4 1782.8h1.7v1.7h-1.7zM165.3 1781.4h1.7v1.7h-1.7zM148.9 1788.4h1.7v1.7h-1.7zM169.8 1771.7h1.7v1.7h-1.7zM183.5 1796.6h1.7v1.7h-1.7zM175.6 1773.5h1.7v1.7h-1.7zM183.8 1773.8h1.7v1.7h-1.7zM146.8 1768.9h1.7v1.7h-1.7zM158.3 1775.2h1.7v1.7h-1.7zM205.2 1800.7h1.7v1.7h-1.7zM172.8 1784.5h1.7v1.7h-1.7zM158.0 1777.2h1.7v1.7h-1.7zM216.3 1789.4h1.7v1.7h-1.7zM175.1 1782.3h1.7v1.7h-1.7zM172.6 1777.1h1.7v1.7h-1.7zM146.7 1761.4h1.7v1.7h-1.7zM215.6 1818.7h1.7v1.7h-1.7zM188.7 1783.1h1.7v1.7h-1.7zM159.3 1774.0h1.7v1.7h-1.7zM209.4 1781.1h1.7v1.7h-1.7zM142.0 1769.9h1.7v1.7h-1.7zM181.5 1792.0h1.7v1.7h-1.7zM186.3 1788.3h1.7v1.7h-1.7zM179.8 1770.6h1.7v1.7h-1.7zM203.8 1809.2h1.7v1.7h-1.7zM156.9 1770.0h1.7v1.7h-1.7zM175.3 1774.5h1.7v1.7h-1.7zM195.4 1786.4h1.7v1.7h-1.7zM182.7 1778.2h1.7v1.7h-1.7zM158.5 1780.1h1.7v1.7h-1.7zM180.8 1807.5h1.7v1.7h-1.7zM145.0 1755.0h1.7v1.7h-1.7zM160.6 1763.1h1.7v1.7h-1.7zM158.1 1769.7h1.7v1.7h-1.7zM182.6 1784.8h1.7v1.7h-1.7zM173.6 1783.0h1.7v1.7h-1.7zM201.5 1820.7h1.7v1.7h-1.7zM206.7 1805.5h1.7v1.7h-1.7zM203.5 1800.4h1.7v1.7h-1.7zM185.8 1790.1h1.7v1.7h-1.7zM176.3 1771.3h1.7v1.7h-1.7zM167.8 1780.6h1.7v1.7h-1.7zM202.2 1807.6h1.7v1.7h-1.7zM182.2 1802.9h1.7v1.7h-1.7zM186.1 1802.9h1.7v1.7h-1.7zM216.4 1817.9h1.7v1.7h-1.7zM172.6 1776.6h1.7v1.7h-1.7zM186.1 1789.9h1.7v1.7h-1.7zM150.1 1772.6h1.7v1.7h-1.7zM186.6 1804.1h1.7v1.7h-1.7zM163.6 1797.1h1.7v1.7h-1.7zM218.4 1805.1h1.7v1.7h-1.7zM187.7 1799.8h1.7v1.7h-1.7zM174.3 1781.8h1.7v1.7h-1.7zM205.5 1804.2h1.7v1.7h-1.7zM174.3 1777.8h1.7v1.7h-1.7zM180.9 1769.1h1.7v1.7h-1.7zM164.1 1791.6h1.7v1.7h-1.7zM177.2 1782.4h1.7v1.7h-1.7zM176.1 1759.1h1.7v1.7h-1.7zM233.0 1814.2h1.7v1.7h-1.7zM201.0 1776.7h1.7v1.7h-1.7zM161.1 1782.7h1.7v1.7h-1.7zM180.8 1780.6h1.7v1.7h-1.7zM167.5 1794.9h1.7v1.7h-1.7zM135.0 1776.1h1.7v1.7h-1.7zM182.6 1796.6h1.7v1.7h-1.7zM189.2 1787.1h1.7v1.7h-1.7zM176.7 1773.3h1.7v1.7h-1.7zM185.6 1788.9h1.7v1.7h-1.7zM159.1 1775.3h1.7v1.7h-1.7zM175.5 1760.7h1.7v1.7h-1.7zM167.7 1755.4h1.7v1.7h-1.7zM190.5 1784.0h1.7v1.7h-1.7zM173.4 1787.3h1.7v1.7h-1.7zM160.3 1783.1h1.7v1.7h-1.7zM142.3 1749.5h1.7v1.7h-1.7zM163.5 1777.2h1.7v1.7h-1.7zM187.7 1783.6h1.7v1.7h-1.7zM168.4 1767.2h1.7v1.7h-1.7zM171.6 1779.1h1.7v1.7h-1.7zM194.9 1806.1h1.7v1.7h-1.7zM147.7 1772.1h1.7v1.7h-1.7zM190.5 1788.1h1.7v1.7h-1.7zM148.3 1781.0h1.7v1.7h-1.7zM179.4 1798.7h1.7v1.7h-1.7zM197.1 1806.7h1.7v1.7h-1.7zM170.1 1789.3h1.7v1.7h-1.7zM142.5 1768.7h1.7v1.7h-1.7zM166.1 1771.6h1.7v1.7h-1.7zM187.4 1798.7h1.7v1.7h-1.7zM195.4 1797.0h1.7v1.7h-1.7zM192.8 1804.4h1.7v1.7h-1.7zM190.0 1786.2h1.7v1.7h-1.7zM200.4 1796.4h1.7v1.7h-1.7zM151.3 1775.6h1.7v1.7h-1.7zM191.3 1777.6h1.7v1.7h-1.7zM215.8 1794.8h1.7v1.7h-1.7zM178.7 1808.1h1.7v1.7h-1.7zM191.8 1788.9h1.7v1.7h-1.7zM168.1 1771.4h1.7v1.7h-1.7zM159.3 1785.2h1.7v1.7h-1.7zM192.5 1793.2h1.7v1.7h-1.7zM205.0 1807.0h1.7v1.7h-1.7zM174.6 1786.5h1.7v1.7h-1.7zM174.9 1791.6h1.7v1.7h-1.7zM168.4 1778.9h1.7v1.7h-1.7zM201.9 1789.6h1.7v1.7h-1.7zM216.3 1802.6h1.7v1.7h-1.7zM214.0 1789.2h1.7v1.7h-1.7zM150.2 1788.8h1.7v1.7h-1.7zM134.4 1775.6h1.7v1.7h-1.7zM198.7 1801.7h1.7v1.7h-1.7zM138.2 1765.5h1.7v1.7h-1.7zM175.1 1800.9h1.7v1.7h-1.7zM135.7 1788.9h1.7v1.7h-1.7zM157.3 1773.6h1.7v1.7h-1.7zM196.5 1784.8h1.7v1.7h-1.7zM165.3 1766.6h1.7v1.7h-1.7zM151.5 1763.9h1.7v1.7h-1.7zM181.4 1771.9h1.7v1.7h-1.7zM200.4 1801.9h1.7v1.7h-1.7zM203.7 1800.9h1.7v1.7h-1.7zM167.6 1778.4h1.7v1.7h-1.7zM155.5 1773.5h1.7v1.7h-1.7zM178.8 1794.8h1.7v1.7h-1.7zM173.1 1786.0h1.7v1.7h-1.7zM141.6 1767.8h1.7v1.7h-1.7zM150.7 1754.5h1.7v1.7h-1.7zM200.6 1791.7h1.7v1.7h-1.7zM175.9 1787.7h1.7v1.7h-1.7zM169.6 1779.5h1.7v1.7h-1.7zM164.0 1761.0h1.7v1.7h-1.7zM164.0 1785.2h1.7v1.7h-1.7zM177.0 1814.0h1.7v1.7h-1.7zM157.9 1778.9h1.7v1.7h-1.7zM152.9 1765.6h1.7v1.7h-1.7zM150.0 1776.8h1.7v1.7h-1.7zM180.8 1792.7h1.7v1.7h-1.7zM156.7 1786.5h1.7v1.7h-1.7zM159.1 1776.5h1.7v1.7h-1.7zM170.8 1785.0h1.7v1.7h-1.7zM170.8 1763.0h1.7v1.7h-1.7zM177.2 1768.8h1.7v1.7h-1.7zM169.6 1790.9h1.7v1.7h-1.7zM164.2 1780.7h1.7v1.7h-1.7zM203.1 1808.0h1.7v1.7h-1.7zM140.5 1763.2h1.7v1.7h-1.7zM178.7 1776.3h1.7v1.7h-1.7zM178.7 1794.0h1.7v1.7h-1.7zM148.3 1769.6h1.7v1.7h-1.7zM164.9 1788.2h1.7v1.7h-1.7zM171.1 1792.1h1.7v1.7h-1.7zM158.2 1785.0h1.7v1.7h-1.7zM203.8 1806.0h1.7v1.7h-1.7zM185.6 1776.9h1.7v1.7h-1.7zM182.9 1775.7h1.7v1.7h-1.7zM136.0 1763.0h1.7v1.7h-1.7zM217.0 1798.8h1.7v1.7h-1.7zM191.6 1793.2h1.7v1.7h-1.7zM149.7 1784.7h1.7v1.7h-1.7zM158.7 1784.3h1.7v1.7h-1.7zM144.4 1779.2h1.7v1.7h-1.7zM174.1 1786.1h1.7v1.7h-1.7zM199.0 1791.0h1.7v1.7h-1.7zM189.2 1789.0h1.7v1.7h-1.7zM180.6 1788.4h1.7v1.7h-1.7zM158.3 1776.4h1.7v1.7h-1.7zM190.1 1813.5h1.7v1.7h-1.7zM188.7 1791.0h1.7v1.7h-1.7zM206.1 1778.5h1.7v1.7h-1.7zM167.9 1775.5h1.7v1.7h-1.7zM187.4 1796.3h1.7v1.7h-1.7zM209.5 1811.9h1.7v1.7h-1.7zM164.7 1767.1h1.7v1.7h-1.7zM191.9 1789.7h1.7v1.7h-1.7zM182.9 1804.4h1.7v1.7h-1.7zM172.3 1794.2h1.7v1.7h-1.7zM226.3 1799.8h1.7v1.7h-1.7zM161.0 1784.7h1.7v1.7h-1.7zM158.5 1776.1h1.7v1.7h-1.7zM183.3 1790.2h1.7v1.7h-1.7zM154.5 1777.4h1.7v1.7h-1.7zM184.4 1788.0h1.7v1.7h-1.7zM176.5 1787.5h1.7v1.7h-1.7zM170.7 1787.3h1.7v1.7h-1.7zM162.6 1773.2h1.7v1.7h-1.7zM189.8 1789.7h1.7v1.7h-1.7zM154.8 1776.1h1.7v1.7h-1.7zM177.4 1778.5h1.7v1.7h-1.7zM203.4 1805.8h1.7v1.7h-1.7zM172.5 1798.7h1.7v1.7h-1.7zM173.0 1770.9h1.7v1.7h-1.7zM169.0 1774.4h1.7v1.7h-1.7zM186.8 1785.6h1.7v1.7h-1.7zM191.4 1790.2h1.7v1.7h-1.7zM165.8 1770.1h1.7v1.7h-1.7zM169.1 1788.3h1.7v1.7h-1.7zM122.6 1753.0h1.7v1.7h-1.7zM143.0 1770.5h1.7v1.7h-1.7zM189.1 1787.7h1.7v1.7h-1.7zM166.6 1778.5h1.7v1.7h-1.7zM204.4 1791.5h1.7v1.7h-1.7zM178.4 1808.3h1.7v1.7h-1.7zM177.9 1772.7h1.7v1.7h-1.7zM158.5 1768.6h1.7v1.7h-1.7zM185.2 1780.6h1.7v1.7h-1.7zM161.1 1784.5h1.7v1.7h-1.7zM199.5 1812.4h1.7v1.7h-1.7zM171.8 1788.7h1.7v1.7h-1.7zM161.1 1781.3h1.7v1.7h-1.7zM183.7 1785.3h1.7v1.7h-1.7zM184.5 1775.5h1.7v1.7h-1.7zM188.7 1795.0h1.7v1.7h-1.7zM189.8 1780.1h1.7v1.7h-1.7zM146.9 1771.0h1.7v1.7h-1.7zM222.1 1805.7h1.7v1.7h-1.7zM165.0 1785.1h1.7v1.7h-1.7zM175.5 1772.3h1.7v1.7h-1.7zM212.0 1792.7h1.7v1.7h-1.7zM177.9 1784.6h1.7v1.7h-1.7zM153.3 1792.6h1.7v1.7h-1.7zM183.6 1787.3h1.7v1.7h-1.7zM219.3 1810.6h1.7v1.7h-1.7zM194.9 1805.4h1.7v1.7h-1.7zM197.5 1784.5h1.7v1.7h-1.7zM155.9 1781.5h1.7v1.7h-1.7zM175.7 1788.2h1.7v1.7h-1.7zM183.2 1790.4h1.7v1.7h-1.7zM183.7 1787.8h1.7v1.7h-1.7zM188.7 1787.0h1.7v1.7h-1.7zM167.4 1766.9h1.7v1.7h-1.7zM175.5 1787.5h1.7v1.7h-1.7zM178.6 1803.0h1.7v1.7h-1.7zM162.2 1779.5h1.7v1.7h-1.7zM157.4 1783.8h1.7v1.7h-1.7zM196.6 1795.8h1.7v1.7h-1.7zM175.5 1783.1h1.7v1.7h-1.7zM195.8 1789.0h1.7v1.7h-1.7zM150.2 1789.7h1.7v1.7h-1.7zM177.3 1789.2h1.7v1.7h-1.7zM209.8 1789.3h1.7v1.7h-1.7zM170.1 1790.9h1.7v1.7h-1.7zM171.7 1775.3h1.7v1.7h-1.7zM163.9 1777.9h1.7v1.7h-1.7zM187.6 1787.0h1.7v1.7h-1.7zM140.3 1764.1h1.7v1.7h-1.7zM196.7 1785.1h1.7v1.7h-1.7zM173.2 1788.2h1.7v1.7h-1.7zM156.2 1768.3h1.7v1.7h-1.7zM177.1 1773.8h1.7v1.7h-1.7zM156.7 1767.2h1.7v1.7h-1.7zM207.6 1788.7h1.7v1.7h-1.7zM207.9 1812.0h1.7v1.7h-1.7zM166.3 1784.3h1.7v1.7h-1.7zM186.5 1794.4h1.7v1.7h-1.7zM156.2 1778.6h1.7v1.7h-1.7zM150.6 1759.8h1.7v1.7h-1.7zM184.0 1785.5h1.7v1.7h-1.7zM199.2 1804.4h1.7v1.7h-1.7zM176.9 1769.4h1.7v1.7h-1.7zM166.4 1790.1h1.7v1.7h-1.7zM193.5 1788.6h1.7v1.7h-1.7zM153.9 1782.6h1.7v1.7h-1.7zM183.1 1781.1h1.7v1.7h-1.7zM139.2 1770.2h1.7v1.7h-1.7zM172.1 1778.7h1.7v1.7h-1.7zM162.5 1769.8h1.7v1.7h-1.7zM151.3 1776.9h1.7v1.7h-1.7zM193.3 1805.1h1.7v1.7h-1.7zM188.0 1793.3h1.7v1.7h-1.7zM164.8 1779.1h1.7v1.7h-1.7zM168.6 1781.8h1.7v1.7h-1.7zM129.0 1747.7h1.7v1.7h-1.7zM219.8 1818.8h1.7v1.7h-1.7zM168.1 1765.4h1.7v1.7h-1.7zM181.5 1793.3h1.7v1.7h-1.7zM148.3 1764.2h1.7v1.7h-1.7zM179.3 1788.9h1.7v1.7h-1.7zM206.2 1795.1h1.7v1.7h-1.7zM175.2 1784.7h1.7v1.7h-1.7zM189.3 1802.4h1.7v1.7h-1.7zM186.6 1786.2h1.7v1.7h-1.7zM181.1 1771.6h1.7v1.7h-1.7zM157.9 1767.5h1.7v1.7h-1.7zM151.1 1774.1h1.7v1.7h-1.7zM165.1 1773.4h1.7v1.7h-1.7zM154.5 1758.3h1.7v1.7h-1.7zM178.5 1792.1h1.7v1.7h-1.7zM203.9 1788.5h1.7v1.7h-1.7zM173.3 1791.1h1.7v1.7h-1.7zM187.3 1787.7h1.7v1.7h-1.7zM183.9 1791.2h1.7v1.7h-1.7zM187.4 1821.0h1.7v1.7h-1.7zM195.4 1792.7h1.7v1.7h-1.7zM136.2 1749.2h1.7v1.7h-1.7zM184.4 1796.0h1.7v1.7h-1.7zM146.1 1785.8h1.7v1.7h-1.7zM198.6 1778.9h1.7v1.7h-1.7zM180.3 1784.5h1.7v1.7h-1.7zM157.8 1779.1h1.7v1.7h-1.7zM224.7 1814.2h1.7v1.7h-1.7zM170.8 1788.6h1.7v1.7h-1.7zM170.0 1782.0h1.7v1.7h-1.7zM155.6 1770.2h1.7v1.7h-1.7zM191.3 1788.0h1.7v1.7h-1.7zM195.1 1798.2h1.7v1.7h-1.7zM197.5 1786.0h1.7v1.7h-1.7zM177.9 1774.9h1.7v1.7h-1.7zM162.9 1788.0h1.7v1.7h-1.7zM158.5 1767.2h1.7v1.7h-1.7zM159.2 1791.8h1.7v1.7h-1.7zM137.4 1766.9h1.7v1.7h-1.7zM193.4 1787.0h1.7v1.7h-1.7zM160.9 1789.2h1.7v1.7h-1.7zM153.1 1782.6h1.7v1.7h-1.7zM164.5 1784.3h1.7v1.7h-1.7zM184.2 1793.4h1.7v1.7h-1.7zM189.6 1796.7h1.7v1.7h-1.7zM175.4 1778.9h1.7v1.7h-1.7zM197.1 1794.3h1.7v1.7h-1.7zM198.2 1769.2h1.7v1.7h-1.7zM189.7 1779.2h1.7v1.7h-1.7zM181.2 1799.5h1.7v1.7h-1.7zM151.2 1764.4h1.7v1.7h-1.7zM191.2 1790.9h1.7v1.7h-1.7zM132.5 1769.5h1.7v1.7h-1.7zM177.1 1780.7h1.7v1.7h-1.7zM168.5 1795.3h1.7v1.7h-1.7zM201.4 1797.0h1.7v1.7h-1.7zM137.4 1760.4h1.7v1.7h-1.7zM208.4 1784.9h1.7v1.7h-1.7zM154.7 1766.0h1.7v1.7h-1.7zM161.0 1773.3h1.7v1.7h-1.7zM166.4 1781.6h1.7v1.7h-1.7zM187.6 1774.8h1.7v1.7h-1.7zM173.6 1785.6h1.7v1.7h-1.7zM166.9 1775.0h1.7v1.7h-1.7zM177.4 1789.2h1.7v1.7h-1.7zM170.6 1785.8h1.7v1.7h-1.7zM146.8 1785.0h1.7v1.7h-1.7zM195.6 1777.3h1.7v1.7h-1.7zM186.6 1780.8h1.7v1.7h-1.7zM136.0 1776.2h1.7v1.7h-1.7zM149.8 1776.0h1.7v1.7h-1.7zM196.1 1800.5h1.7v1.7h-1.7zM199.5 1804.3h1.7v1.7h-1.7zM158.0 1769.0h1.7v1.7h-1.7zM161.5 1772.3h1.7v1.7h-1.7zM166.6 1783.6h1.7v1.7h-1.7zM146.1 1755.5h1.7v1.7h-1.7zM144.3 1773.7h1.7v1.7h-1.7zM154.1 1771.0h1.7v1.7h-1.7zM189.0 1783.8h1.7v1.7h-1.7zM149.2 1794.8h1.7v1.7h-1.7zM160.9 1785.5h1.7v1.7h-1.7zM158.3 1782.3h1.7v1.7h-1.7zM161.4 1791.1h1.7v1.7h-1.7zM207.5 1788.8h1.7v1.7h-1.7zM227.0 1812.1h1.7v1.7h-1.7zM177.6 1777.7h1.7v1.7h-1.7zM172.0 1771.1h1.7v1.7h-1.7zM165.0 1777.4h1.7v1.7h-1.7zM156.7 1778.4h1.7v1.7h-1.7zM146.9 1776.6h1.7v1.7h-1.7zM160.6 1782.6h1.7v1.7h-1.7zM151.5 1782.8h1.7v1.7h-1.7zM186.9 1791.6h1.7v1.7h-1.7zM179.7 1781.0h1.7v1.7h-1.7zM154.6 1781.7h1.7v1.7h-1.7zM148.7 1767.5h1.7v1.7h-1.7zM153.7 1775.1h1.7v1.7h-1.7zM165.9 1787.0h1.7v1.7h-1.7zM182.1 1789.1h1.7v1.7h-1.7zM175.4 1785.8h1.7v1.7h-1.7zM202.1 1789.5h1.7v1.7h-1.7zM161.9 1769.7h1.7v1.7h-1.7zM186.1 1791.1h1.7v1.7h-1.7zM166.0 1764.5h1.7v1.7h-1.7zM140.5 1766.9h1.7v1.7h-1.7zM192.7 1800.5h1.7v1.7h-1.7zM181.6 1803.8h1.7v1.7h-1.7zM162.2 1770.7h1.7v1.7h-1.7zM179.5 1790.8h1.7v1.7h-1.7zM160.3 1783.0h1.7v1.7h-1.7zM174.2 1792.9h1.7v1.7h-1.7zM201.1 1787.8h1.7v1.7h-1.7zM205.6 1796.0h1.7v1.7h-1.7zM184.9 1791.8h1.7v1.7h-1.7zM172.6 1793.0h1.7v1.7h-1.7zM186.2 1780.7h1.7v1.7h-1.7zM202.6 1797.9h1.7v1.7h-1.7zM184.4 1772.1h1.7v1.7h-1.7zM181.8 1807.0h1.7v1.7h-1.7zM194.2 1793.2h1.7v1.7h-1.7z" fill="#000"/>
<ellipse cx="174.5" cy="1785.5" rx="33.0" ry="19.5" transform="rotate(29.6 174.5 1785.5)" fill="#000"/>
<path d="M188.7 1794.3h1.3v1.3h-1.3zM170.4 1789.5h1.3v1.3h-1.3zM164.7 1778.3h1.3v1.3h-1.3zM170.7 1777.2h1.3v1.3h-1.3zM181.3 1785.1h1.3v1.3h-1.3zM169.8 1779.5h1.3v1.3h-1.3zM171.7 1776.2h1.3v1.3h-1.3zM176.9 1797.8h1.3v1.3h-1.3zM170.8 1782.0h1.3v1.3h-1.3zM182.2 1794.9h1.3v1.3h-1.3zM188.1 1789.0h1.3v1.3h-1.3zM159.7 1779.5h1.3v1.3h-1.3zM160.4 1788.6h1.3v1.3h-1.3zM178.8 1774.5h1.3v1.3h-1.3zM186.0 1798.2h1.3v1.3h-1.3zM171.0 1787.8h1.3v1.3h-1.3zM176.9 1788.0h1.3v1.3h-1.3zM183.0 1798.4h1.3v1.3h-1.3zM177.1 1778.0h1.3v1.3h-1.3zM160.6 1775.7h1.3v1.3h-1.3zM180.4 1785.0h1.3v1.3h-1.3zM165.9 1786.5h1.3v1.3h-1.3zM171.2 1777.7h1.3v1.3h-1.3zM165.8 1783.9h1.3v1.3h-1.3zM161.7 1789.4h1.3v1.3h-1.3zM170.0 1775.7h1.3v1.3h-1.3zM172.8 1782.8h1.3v1.3h-1.3zM160.9 1779.4h1.3v1.3h-1.3zM164.2 1784.7h1.3v1.3h-1.3zM165.3 1789.2h1.3v1.3h-1.3zM167.4 1781.2h1.3v1.3h-1.3zM167.4 1778.2h1.3v1.3h-1.3z" fill="#fff"/>
<ellipse cx="175.0" cy="1784.8" rx="40.6" ry="25.3" transform="rotate(29.6 175.0 1784.8)" fill="none" stroke="#000" stroke-width="4.2"/>
</g>
<rect x="112.4" y="1398.1" width="863.2" height="502.70000000000005" fill="none" stroke="#000" stroke-width="1.6"/>
<path d="M122.20 1900.8v-5.2M122.20 1398.1v5.2M148.45 1900.8v-5.2M148.45 1398.1v5.2M174.70 1900.8v-10.5M174.70 1398.1v10.5M200.95 1900.8v-5.2M200.95 1398.1v5.2M227.20 1900.8v-5.2M227.20 1398.1v5.2M253.45 1900.8v-5.2M253.45 1398.1v5.2M279.70 1900.8v-5.2M279.70 1398.1v5.2M305.95 1900.8v-10.5M305.95 1398.1v10.5M332.20 1900.8v-5.2M332.20 1398.1v5.2M358.45 1900.8v-5.2M358.45 1398.1v5.2M384.70 1900.8v-5.2M384.70 1398.1v5.2M410.95 1900.8v-5.2M410.95 1398.1v5.2M437.20 1900.8v-10.5M437.20 1398.1v10.5M463.45 1900.8v-5.2M463.45 1398.1v5.2M489.70 1900.8v-5.2M489.70 1398.1v5.2M515.95 1900.8v-5.2M515.95 1398.1v5.2M542.20 1900.8v-5.2M542.20 1398.1v5.2M568.45 1900.8v-10.5M568.45 1398.1v10.5M594.70 1900.8v-5.2M594.70 1398.1v5.2M620.95 1900.8v-5.2M620.95 1398.1v5.2M647.20 1900.8v-5.2M647.20 1398.1v5.2M673.45 1900.8v-5.2M673.45 1398.1v5.2M699.70 1900.8v-10.5M699.70 1398.1v10.5M725.95 1900.8v-5.2M725.95 1398.1v5.2M752.20 1900.8v-5.2M752.20 1398.1v5.2M778.45 1900.8v-5.2M778.45 1398.1v5.2M804.70 1900.8v-5.2M804.70 1398.1v5.2M830.95 1900.8v-10.5M830.95 1398.1v10.5M857.20 1900.8v-5.2M857.20 1398.1v5.2M883.45 1900.8v-5.2M883.45 1398.1v5.2M909.70 1900.8v-5.2M909.70 1398.1v5.2M935.95 1900.8v-5.2M935.95 1398.1v5.2M962.20 1900.8v-10.5M962.20 1398.1v10.5M112.4 1898.80h17.5M975.6 1898.80h-17.5M112.4 1870.47h8.7M975.6 1870.47h-8.7M112.4 1842.15h8.7M975.6 1842.15h-8.7M112.4 1813.83h8.7M975.6 1813.83h-8.7M112.4 1785.50h17.5M975.6 1785.50h-17.5M112.4 1757.17h8.7M975.6 1757.17h-8.7M112.4 1728.85h8.7M975.6 1728.85h-8.7M112.4 1700.53h8.7M975.6 1700.53h-8.7M112.4 1672.20h17.5M975.6 1672.20h-17.5M112.4 1643.88h8.7M975.6 1643.88h-8.7M112.4 1615.55h8.7M975.6 1615.55h-8.7M112.4 1587.22h8.7M975.6 1587.22h-8.7M112.4 1558.90h17.5M975.6 1558.90h-17.5M112.4 1530.58h8.7M975.6 1530.58h-8.7M112.4 1502.25h8.7M975.6 1502.25h-8.7M112.4 1473.92h8.7M975.6 1473.92h-8.7M112.4 1445.60h17.5M975.6 1445.60h-17.5M112.4 1417.28h8.7M975.6 1417.28h-8.7" stroke="#000" stroke-width="1.6" fill="none"/>
<g clip-path="url(#cp2)">
<g clip-path="url(#xc2_0)">
<ellipse cx="772.66" cy="1741.81" rx="221.78" ry="126.58" transform="rotate(57.15 772.66 1741.81)" fill="#ffe6ff"/>
<ellipse cx="772.66" cy="1741.81" rx="199.60" ry="113.92" transform="rotate(57.15 772.66 1741.81)" fill="#ffccff"/>
<ellipse cx="772.66" cy="1741.81" rx="177.42" ry="101.26" transform="rotate(57.15 772.66 1741.81)" fill="#ffb2ff"/>
<ellipse cx="772.66" cy="1741.81" rx="155.25" ry="88.61" transform="rotate(57.15 772.66 1741.81)" fill="#ff99ff"/>
<ellipse cx="772.66" cy="1741.81" rx="133.07" ry="75.95" transform="rotate(57.15 772.66 1741.81)" fill="#ff80ff"/>
<ellipse cx="772.66" cy="1741.81" rx="110.89" ry="63.29" transform="rotate(57.15 772.66 1741.81)" fill="#ff66ff"/>
<ellipse cx="772.66" cy="1741.81" rx="88.71" ry="50.63" transform="rotate(57.15 772.66 1741.81)" fill="#ff4cff"/>
<ellipse cx="772.66" cy="1741.81" rx="66.53" ry="37.97" transform="rotate(57.15 772.66 1741.81)" fill="#ff33ff"/>
<ellipse cx="772.66" cy="1741.81" rx="44.36" ry="25.32" transform="rotate(57.15 772.66 1741.81)" fill="#ff1aff"/>
<ellipse cx="772.66" cy="1741.81" rx="22.18" ry="12.66" transform="rotate(57.15 772.66 1741.81)" fill="#ff00ff"/>
<ellipse cx="772.66" cy="1741.81" rx="221.78" ry="126.58" transform="rotate(57.15 772.66 1741.81)" fill="none" stroke="#ff00ff" stroke-width="1.7"/>
<ellipse cx="772.66" cy="1741.81" rx="110.89" ry="63.29" transform="rotate(57.15 772.66 1741.81)" fill="none" stroke="#ff00ff" stroke-width="3.4"/>
</g>
<g>
<ellipse cx="742.80" cy="1747.71" rx="227.59" ry="147.43" transform="rotate(26.37 742.80 1747.71)" fill="#f5eee8"/>
<ellipse cx="742.80" cy="1747.71" rx="204.83" ry="132.69" transform="rotate(26.37 742.80 1747.71)" fill="#ebdcd1"/>
<ellipse cx="742.80" cy="1747.71" rx="182.07" ry="117.94" transform="rotate(26.37 742.80 1747.71)" fill="#e0cbbb"/>
<ellipse cx="742.80" cy="1747.71" rx="159.31" ry="103.20" transform="rotate(26.37 742.80 1747.71)" fill="#d6b9a4"/>
<ellipse cx="742.80" cy="1747.71" rx="136.55" ry="88.46" transform="rotate(26.37 742.80 1747.71)" fill="#cca88d"/>
<ellipse cx="742.80" cy="1747.71" rx="113.80" ry="73.72" transform="rotate(26.37 742.80 1747.71)" fill="#c29776"/>
<ellipse cx="742.80" cy="1747.71" rx="91.04" ry="58.97" transform="rotate(26.37 742.80 1747.71)" fill="#b8855f"/>
<ellipse cx="742.80" cy="1747.71" rx="68.28" ry="44.23" transform="rotate(26.37 742.80 1747.71)" fill="#ad7449"/>
<ellipse cx="742.80" cy="1747.71" rx="45.52" ry="29.49" transform="rotate(26.37 742.80 1747.71)" fill="#a36232"/>
<ellipse cx="742.80" cy="1747.71" rx="22.76" ry="14.74" transform="rotate(26.37 742.80 1747.71)" fill="#99511b"/>
<ellipse cx="742.80" cy="1747.71" rx="227.59" ry="147.43" transform="rotate(26.37 742.80 1747.71)" fill="none" stroke="#99511b" stroke-width="1.5"/>
<ellipse cx="742.80" cy="1747.71" rx="113.80" ry="73.72" transform="rotate(26.37 742.80 1747.71)" fill="none" stroke="#99511b" stroke-width="3.4"/>
</g>
<g>
<ellipse cx="768.11" cy="1758.41" rx="152.41" ry="51.28" transform="rotate(28.43 768.11 1758.41)" fill="#e6f0ff"/>
<ellipse cx="765.91" cy="1758.41" rx="137.17" ry="46.15" transform="rotate(28.43 765.91 1758.41)" fill="#cce0ff"/>
<ellipse cx="763.71" cy="1758.41" rx="121.93" ry="41.02" transform="rotate(28.43 763.71 1758.41)" fill="#b2d1ff"/>
<ellipse cx="761.51" cy="1758.41" rx="106.69" ry="35.90" transform="rotate(28.43 761.51 1758.41)" fill="#99c2ff"/>
<ellipse cx="759.31" cy="1758.41" rx="91.45" ry="30.77" transform="rotate(28.43 759.31 1758.41)" fill="#80b2ff"/>
<ellipse cx="757.11" cy="1758.41" rx="76.20" ry="25.64" transform="rotate(28.43 757.11 1758.41)" fill="#66a3ff"/>
<ellipse cx="754.91" cy="1758.41" rx="60.96" ry="20.51" transform="rotate(28.43 754.91 1758.41)" fill="#4c94ff"/>
<ellipse cx="752.71" cy="1758.41" rx="45.72" ry="15.38" transform="rotate(28.43 752.71 1758.41)" fill="#3385ff"/>
<ellipse cx="750.51" cy="1758.41" rx="30.48" ry="10.26" transform="rotate(28.43 750.51 1758.41)" fill="#1a75ff"/>
<ellipse cx="748.31" cy="1758.41" rx="15.24" ry="5.13" transform="rotate(28.43 748.31 1758.41)" fill="#0066ff"/>
<ellipse cx="768.11" cy="1758.41" rx="152.41" ry="51.28" transform="rotate(28.43 768.11 1758.41)" fill="none" stroke="#0066ff" stroke-width="1.8"/>
<ellipse cx="757.11" cy="1758.41" rx="76.20" ry="25.64" transform="rotate(28.43 757.11 1758.41)" fill="none" stroke="#0066ff" stroke-width="3.4"/>
</g>
<circle cx="753.3" cy="1409.6" r="7.05" fill="none" stroke="#8020ff" stroke-width="1.45"/>
<circle cx="700.7" cy="1480.5" r="7.3" fill="#aaaaaa"/>
<circle cx="779.6" cy="1607.2" r="7.05" fill="none" stroke="#0066ff" stroke-width="1.45"/>
<polygon points="772.3,1613.3 779.6,1598.7 786.9,1613.3" fill="#ff00ff"/>
<circle cx="595.5" cy="1647.5" r="7.05" fill="none" stroke="#ff8800" stroke-width="1.45"/>
<polygon points="535.6,1684.3 542.9,1669.7 550.2,1684.3" fill="#8020ff"/>
<polygon points="509.3,1727.2 516.6,1712.6 523.9,1727.2" fill="#66ccff"/>
<polygon points="535.6,1787.7 542.9,1773.1 550.2,1787.7" fill="#0066ff"/>
<text transform="translate(674.4 1679.1) scale(0.86 1)" class="lt">H</text>
<circle cx="674.4" cy="1678.2" r="7.05" fill="none" stroke="#ff0000" stroke-width="1.45"/>
<polygon points="641.2,1696.8 648.1,1683.5 655.0,1696.8" fill="none" stroke="#8020ff" stroke-width="1.5" stroke-linejoin="miter"/>
<circle cx="648.1" cy="1709.6" r="7.3" fill="#ff0000"/>
<polygon points="667.5,1718.5 674.4,1705.2 681.2,1718.5" fill="none" stroke="#ff00ff" stroke-width="1.5" stroke-linejoin="miter"/>
<polygon points="746.4,1707.1 753.3,1693.8 760.1,1707.1" fill="none" stroke="#ff8800" stroke-width="1.5" stroke-linejoin="miter"/>
<circle cx="779.6" cy="1703.0" r="7.3" fill="#000000"/>
<polygon points="720.1,1728.8 727.0,1715.5 733.9,1728.8" fill="none" stroke="#ff0000" stroke-width="1.5" stroke-linejoin="miter"/>
<rect x="720.0" y="1721.3" width="14" height="14" fill="#000000"/>
<text transform="translate(700.7 1729.7) scale(0.86 1)" class="lt">R</text>
<text transform="translate(700.7 1731.8) scale(0.86 1)" class="lt">Q</text>
<polygon points="693.4,1743.8 700.7,1729.2 708.0,1743.8" fill="#cc99ff"/>
<text transform="translate(700.7 1762.8) scale(0.86 1)" class="lt">K</text>
<text transform="translate(700.7 1762.8) scale(0.86 1)" class="lt">M</text>
<polygon points="720.1,1749.5 727.0,1736.2 733.9,1749.5" fill="none" stroke="#00ff00" stroke-width="1.5" stroke-linejoin="miter"/>
<text transform="translate(727.0 1752.5) scale(0.86 1)" class="lt">F</text>
<text transform="translate(727.0 1763.9) scale(0.86 1)" class="lt">I</text>
<text transform="translate(753.3 1733.9) scale(0.86 1)" class="lt">O</text>
<circle cx="753.3" cy="1741.7" r="7.3" fill="#00ff00"/>
<circle cx="779.6" cy="1742.3" r="7.3" fill="#0066ff"/>
<circle cx="674.4" cy="1753.1" r="7.05" fill="none" stroke="#c8641e" stroke-width="1.45"/>
<polygon points="641.2,1774.3 648.1,1761.0 655.0,1774.3" fill="none" stroke="#c8641e" stroke-width="1.5" stroke-linejoin="miter"/>
<circle cx="727.0" cy="1767.1" r="7.3" fill="#ff8800"/>
<circle cx="727.0" cy="1778.3" r="7.3" fill="#ff00ff"/>
<circle cx="727.0" cy="1794.0" r="7.05" fill="none" stroke="#ff00ff" stroke-width="1.45"/>
<circle cx="753.3" cy="1796.1" r="7.05" fill="none" stroke="#66ccff" stroke-width="1.45"/>
<polygon points="667.1,1807.9 674.4,1793.3 681.7,1807.9" fill="#ff0000"/>
<text transform="translate(727.0 1818.7) scale(0.86 1)" class="lt">P</text>
<polygon points="720.1,1838.5 727.0,1825.2 733.9,1838.5" fill="none" stroke="#000000" stroke-width="1.5" stroke-linejoin="miter"/>
<text transform="translate(779.6 1784.6) scale(0.86 1)" class="lt">N</text>
<text transform="translate(805.9 1760.8) scale(0.86 1)" class="lt">L</text>
<circle cx="805.9" cy="1792.4" r="7.3" fill="#66ccff"/>
<polygon points="798.6,1812.1 805.9,1797.5 813.2,1812.1" fill="#000000"/>
<polygon points="798.6,1824.5 805.9,1809.9 813.2,1824.5" fill="#c8641e"/>
<circle cx="832.2" cy="1758.2" r="7.05" fill="none" stroke="#00ff00" stroke-width="1.45"/>
<polygon points="825.4,1765.0 832.2,1751.7 839.1,1765.0" fill="none" stroke="#0066ff" stroke-width="1.5" stroke-linejoin="miter"/>
<polygon points="825.4,1783.6 832.2,1770.2 839.1,1783.6" fill="none" stroke="#cc99ff" stroke-width="1.5" stroke-linejoin="miter"/>
<circle cx="858.5" cy="1776.8" r="7.3" fill="#c8641e"/>
<circle cx="858.5" cy="1793.3" r="7.3" fill="#cc99ff"/>
<polygon points="877.5,1767.0 884.8,1752.4 892.1,1767.0" fill="#ff8800"/>
<text transform="translate(884.8 1804.6) scale(0.86 1)" class="lt">A</text>
<circle cx="911.1" cy="1798.5" r="7.05" fill="none" stroke="#000000" stroke-width="1.45"/>
<polygon points="877.5,1839.4 884.8,1824.8 892.1,1839.4" fill="#00ff00"/>
<text transform="translate(832.2 1840.8) scale(0.86 1)" class="lt">C</text>
<text transform="translate(963.0 1857.9) scale(0.86 1)" class="lt">B</text>
<circle cx="858.5" cy="1864.1" r="7.05" fill="none" stroke="#aaaaaa" stroke-width="1.45"/>
<circle cx="832.2" cy="1889.0" r="7.3" fill="#8020ff"/>
</g>
<rect x="112.4" y="1398.1" width="863.2" height="502.70000000000005" fill="none" stroke="#000" stroke-width="1.6"/>
<text class="t" x="174.7" y="1944.3" font-size="35" text-anchor="middle">0.0</text>
<text class="t" x="305.9" y="1944.3" font-size="35" text-anchor="middle">0.5</text>
<text class="t" x="437.2" y="1944.3" font-size="35" text-anchor="middle">1.0</text>
<text class="t" x="568.5" y="1944.3" font-size="35" text-anchor="middle">1.5</text>
<text class="t" x="699.7" y="1944.3" font-size="35" text-anchor="middle">2.0</text>
<text class="t" x="831.0" y="1944.3" font-size="35" text-anchor="middle">2.5</text>
<text class="t" x="962.2" y="1944.3" font-size="35" text-anchor="middle">3.0</text>
<text class="t" x="105.3" y="1901.6" font-size="35" text-anchor="end">-20</text>
<text class="t" x="105.3" y="1798.1" font-size="35" text-anchor="end">0</text>
<text class="t" x="105.3" y="1684.8" font-size="35" text-anchor="end">20</text>
<text class="t" x="105.3" y="1571.5" font-size="35" text-anchor="end">40</text>
<text class="t" x="105.3" y="1458.2" font-size="35" text-anchor="end">60</text>
<text class="t" x="544.0" y="1982.3" font-size="34.2" text-anchor="middle">Mean temperature change (<tspan font-size="22.5" dy="-12">o</tspan><tspan dy="12">C)</tspan></text>
<text class="t" transform="translate(27.5 1649.4) rotate(-90)" x="0" y="0" font-size="33.7" text-anchor="middle">Precipitation change (%)</text>
<text class="t" x="544.0" y="2054.8" font-size="43" text-anchor="middle">Uganda DJF</text>
<g clip-path="url(#cp3)">
<line x1="179.1" y1="2072.3" x2="179.1" y2="2574.6" stroke="#000" stroke-width="2.4" stroke-dasharray="4.5 10.2"/>
<line x1="112.4" y1="2488.5" x2="975.6" y2="2488.5" stroke="#000" stroke-width="2.4" stroke-dasharray="4.5 10.2"/>
<path d="M199.2 2501.2h1.7v1.7h-1.7zM182.5 2471.2h1.7v1.7h-1.7zM178.3 2491.3h1.7v1.7h-1.7zM173.5 2479.3h1.7v1.7h-1.7zM143.5 2476.1h1.7v1.7h-1.7zM187.2 2489.4h1.7v1.7h-1.7zM187.9 2498.3h1.7v1.7h-1.7zM182.0 2487.2h1.7v1.7h-1.7zM177.6 2491.7h1.7v1.7h-1.7zM189.0 2505.3h1.7v1.7h-1.7zM181.1 2499.8h1.7v1.7h-1.7zM185.1 2473.2h1.7v1.7h-1.7zM147.1 2472.9h1.7v1.7h-1.7zM153.9 2458.0h1.7v1.7h-1.7zM173.7 2494.3h1.7v1.7h-1.7zM148.2 2449.5h1.7v1.7h-1.7zM168.6 2470.1h1.7v1.7h-1.7zM174.3 2493.1h1.7v1.7h-1.7zM173.8 2516.7h1.7v1.7h-1.7zM215.3 2499.2h1.7v1.7h-1.7zM153.2 2463.8h1.7v1.7h-1.7zM166.9 2490.7h1.7v1.7h-1.7zM185.6 2502.0h1.7v1.7h-1.7zM176.3 2490.4h1.7v1.7h-1.7zM187.2 2491.0h1.7v1.7h-1.7zM197.7 2485.0h1.7v1.7h-1.7zM192.7 2505.1h1.7v1.7h-1.7zM231.6 2527.2h1.7v1.7h-1.7zM154.7 2460.5h1.7v1.7h-1.7zM179.8 2478.4h1.7v1.7h-1.7zM158.6 2466.5h1.7v1.7h-1.7zM146.7 2475.5h1.7v1.7h-1.7zM148.1 2469.8h1.7v1.7h-1.7zM194.2 2504.1h1.7v1.7h-1.7zM201.3 2509.2h1.7v1.7h-1.7zM199.6 2492.7h1.7v1.7h-1.7zM159.5 2465.5h1.7v1.7h-1.7zM175.7 2496.1h1.7v1.7h-1.7zM160.4 2464.7h1.7v1.7h-1.7zM159.8 2481.4h1.7v1.7h-1.7zM161.7 2486.8h1.7v1.7h-1.7zM176.4 2475.9h1.7v1.7h-1.7zM175.5 2463.5h1.7v1.7h-1.7zM134.2 2444.9h1.7v1.7h-1.7zM152.6 2491.1h1.7v1.7h-1.7zM181.1 2499.0h1.7v1.7h-1.7zM182.2 2486.9h1.7v1.7h-1.7zM159.6 2456.4h1.7v1.7h-1.7zM207.2 2503.0h1.7v1.7h-1.7zM165.8 2485.6h1.7v1.7h-1.7zM176.1 2481.7h1.7v1.7h-1.7zM213.0 2517.9h1.7v1.7h-1.7zM174.0 2478.3h1.7v1.7h-1.7zM163.8 2479.5h1.7v1.7h-1.7zM192.3 2490.5h1.7v1.7h-1.7zM183.6 2471.7h1.7v1.7h-1.7zM169.4 2487.9h1.7v1.7h-1.7zM162.0 2472.4h1.7v1.7h-1.7zM168.7 2473.4h1.7v1.7h-1.7zM189.8 2483.8h1.7v1.7h-1.7zM191.7 2512.3h1.7v1.7h-1.7zM205.4 2496.9h1.7v1.7h-1.7zM147.9 2456.2h1.7v1.7h-1.7zM181.5 2488.5h1.7v1.7h-1.7zM175.5 2484.6h1.7v1.7h-1.7zM168.7 2486.8h1.7v1.7h-1.7zM151.1 2469.7h1.7v1.7h-1.7zM191.2 2489.7h1.7v1.7h-1.7zM243.4 2540.5h1.7v1.7h-1.7zM190.5 2481.7h1.7v1.7h-1.7zM182.2 2492.2h1.7v1.7h-1.7zM201.7 2499.1h1.7v1.7h-1.7zM206.4 2492.8h1.7v1.7h-1.7zM189.5 2474.2h1.7v1.7h-1.7zM174.4 2492.5h1.7v1.7h-1.7zM147.4 2470.7h1.7v1.7h-1.7zM196.4 2481.8h1.7v1.7h-1.7zM164.4 2469.4h1.7v1.7h-1.7zM180.1 2504.4h1.7v1.7h-1.7zM172.5 2470.5h1.7v1.7h-1.7zM187.5 2461.5h1.7v1.7h-1.7zM187.9 2492.2h1.7v1.7h-1.7zM165.7 2492.5h1.7v1.7h-1.7zM178.0 2477.5h1.7v1.7h-1.7zM199.5 2497.7h1.7v1.7h-1.7zM181.4 2485.2h1.7v1.7h-1.7zM177.1 2488.2h1.7v1.7h-1.7zM191.2 2482.9h1.7v1.7h-1.7zM204.4 2502.3h1.7v1.7h-1.7zM166.7 2487.4h1.7v1.7h-1.7zM168.0 2484.1h1.7v1.7h-1.7zM193.8 2509.4h1.7v1.7h-1.7zM165.6 2488.7h1.7v1.7h-1.7zM179.8 2478.7h1.7v1.7h-1.7zM162.6 2478.3h1.7v1.7h-1.7zM159.7 2487.7h1.7v1.7h-1.7zM190.2 2502.8h1.7v1.7h-1.7zM194.0 2510.0h1.7v1.7h-1.7zM151.3 2494.7h1.7v1.7h-1.7zM152.1 2468.2h1.7v1.7h-1.7zM148.1 2459.9h1.7v1.7h-1.7zM179.0 2471.2h1.7v1.7h-1.7zM188.0 2495.5h1.7v1.7h-1.7zM185.0 2479.8h1.7v1.7h-1.7zM205.1 2505.0h1.7v1.7h-1.7zM200.4 2486.5h1.7v1.7h-1.7zM206.2 2504.4h1.7v1.7h-1.7zM198.5 2497.7h1.7v1.7h-1.7zM175.3 2490.0h1.7v1.7h-1.7zM166.4 2502.2h1.7v1.7h-1.7zM177.5 2483.1h1.7v1.7h-1.7zM197.3 2503.7h1.7v1.7h-1.7zM164.4 2472.7h1.7v1.7h-1.7zM192.2 2498.6h1.7v1.7h-1.7zM205.8 2494.9h1.7v1.7h-1.7zM189.0 2486.5h1.7v1.7h-1.7zM176.5 2478.5h1.7v1.7h-1.7zM151.4 2493.5h1.7v1.7h-1.7zM177.8 2495.7h1.7v1.7h-1.7zM175.0 2507.2h1.7v1.7h-1.7zM176.9 2471.1h1.7v1.7h-1.7zM195.8 2489.8h1.7v1.7h-1.7zM210.5 2501.5h1.7v1.7h-1.7zM171.1 2489.2h1.7v1.7h-1.7zM161.7 2470.8h1.7v1.7h-1.7zM193.4 2481.9h1.7v1.7h-1.7zM185.6 2476.4h1.7v1.7h-1.7zM167.1 2497.2h1.7v1.7h-1.7zM205.0 2505.5h1.7v1.7h-1.7zM179.9 2479.6h1.7v1.7h-1.7zM189.1 2503.7h1.7v1.7h-1.7zM160.3 2462.2h1.7v1.7h-1.7zM155.9 2471.6h1.7v1.7h-1.7zM182.8 2492.1h1.7v1.7h-1.7zM186.8 2500.4h1.7v1.7h-1.7zM176.3 2491.6h1.7v1.7h-1.7zM166.1 2486.2h1.7v1.7h-1.7zM209.5 2486.4h1.7v1.7h-1.7zM208.3 2509.3h1.7v1.7h-1.7zM191.7 2497.7h1.7v1.7h-1.7zM206.4 2508.4h1.7v1.7h-1.7zM189.4 2489.2h1.7v1.7h-1.7zM176.9 2490.9h1.7v1.7h-1.7zM163.1 2473.1h1.7v1.7h-1.7zM168.9 2480.5h1.7v1.7h-1.7zM195.4 2501.8h1.7v1.7h-1.7zM205.8 2500.4h1.7v1.7h-1.7zM174.1 2481.6h1.7v1.7h-1.7zM161.2 2477.9h1.7v1.7h-1.7zM171.0 2472.2h1.7v1.7h-1.7zM187.9 2485.2h1.7v1.7h-1.7zM179.3 2486.3h1.7v1.7h-1.7zM190.1 2512.5h1.7v1.7h-1.7zM192.0 2489.4h1.7v1.7h-1.7zM179.6 2516.0h1.7v1.7h-1.7zM173.9 2480.5h1.7v1.7h-1.7zM202.4 2504.3h1.7v1.7h-1.7zM166.1 2490.4h1.7v1.7h-1.7zM157.7 2481.8h1.7v1.7h-1.7zM161.4 2479.4h1.7v1.7h-1.7zM182.1 2479.7h1.7v1.7h-1.7zM201.4 2487.7h1.7v1.7h-1.7zM189.8 2493.2h1.7v1.7h-1.7zM203.9 2492.4h1.7v1.7h-1.7zM183.7 2514.4h1.7v1.7h-1.7zM168.0 2478.5h1.7v1.7h-1.7zM175.0 2526.5h1.7v1.7h-1.7zM187.1 2485.4h1.7v1.7h-1.7zM183.8 2488.9h1.7v1.7h-1.7zM178.3 2471.0h1.7v1.7h-1.7zM214.5 2496.1h1.7v1.7h-1.7zM186.0 2470.2h1.7v1.7h-1.7zM135.8 2459.7h1.7v1.7h-1.7zM149.2 2472.1h1.7v1.7h-1.7zM184.9 2479.9h1.7v1.7h-1.7zM199.2 2486.0h1.7v1.7h-1.7zM185.4 2505.3h1.7v1.7h-1.7zM154.6 2469.6h1.7v1.7h-1.7zM204.5 2510.3h1.7v1.7h-1.7zM150.3 2476.4h1.7v1.7h-1.7zM178.0 2488.8h1.7v1.7h-1.7zM152.5 2470.2h1.7v1.7h-1.7zM189.9 2481.3h1.7v1.7h-1.7zM189.1 2490.2h1.7v1.7h-1.7zM187.8 2502.4h1.7v1.7h-1.7zM170.5 2463.9h1.7v1.7h-1.7zM197.9 2508.2h1.7v1.7h-1.7zM160.6 2484.5h1.7v1.7h-1.7zM185.6 2496.4h1.7v1.7h-1.7zM172.4 2473.9h1.7v1.7h-1.7zM200.8 2502.1h1.7v1.7h-1.7zM169.4 2485.8h1.7v1.7h-1.7zM159.2 2469.5h1.7v1.7h-1.7zM162.2 2505.0h1.7v1.7h-1.7zM149.1 2462.8h1.7v1.7h-1.7zM175.4 2464.1h1.7v1.7h-1.7zM206.4 2526.7h1.7v1.7h-1.7zM172.3 2477.9h1.7v1.7h-1.7zM175.1 2481.9h1.7v1.7h-1.7zM170.7 2483.2h1.7v1.7h-1.7zM195.6 2504.0h1.7v1.7h-1.7zM203.0 2489.1h1.7v1.7h-1.7zM211.2 2504.2h1.7v1.7h-1.7zM166.4 2466.7h1.7v1.7h-1.7zM188.8 2493.2h1.7v1.7h-1.7zM157.8 2468.9h1.7v1.7h-1.7zM214.0 2516.6h1.7v1.7h-1.7zM176.8 2475.8h1.7v1.7h-1.7zM190.8 2483.6h1.7v1.7h-1.7zM182.8 2475.5h1.7v1.7h-1.7zM197.6 2491.0h1.7v1.7h-1.7zM199.2 2513.6h1.7v1.7h-1.7zM174.5 2498.8h1.7v1.7h-1.7zM208.7 2502.6h1.7v1.7h-1.7zM205.1 2517.0h1.7v1.7h-1.7zM199.7 2500.6h1.7v1.7h-1.7zM172.1 2494.9h1.7v1.7h-1.7zM174.0 2482.6h1.7v1.7h-1.7zM200.2 2490.0h1.7v1.7h-1.7zM146.5 2474.5h1.7v1.7h-1.7zM185.7 2514.2h1.7v1.7h-1.7zM196.7 2490.7h1.7v1.7h-1.7zM189.6 2503.8h1.7v1.7h-1.7zM192.2 2506.6h1.7v1.7h-1.7zM187.1 2504.6h1.7v1.7h-1.7zM163.1 2480.4h1.7v1.7h-1.7zM163.5 2467.9h1.7v1.7h-1.7zM197.4 2492.9h1.7v1.7h-1.7zM157.6 2462.0h1.7v1.7h-1.7zM184.3 2503.8h1.7v1.7h-1.7zM181.8 2501.8h1.7v1.7h-1.7zM141.2 2456.4h1.7v1.7h-1.7zM194.8 2497.2h1.7v1.7h-1.7zM193.7 2489.7h1.7v1.7h-1.7zM171.3 2497.0h1.7v1.7h-1.7zM152.2 2493.1h1.7v1.7h-1.7zM183.5 2489.0h1.7v1.7h-1.7zM217.1 2514.5h1.7v1.7h-1.7zM189.5 2508.5h1.7v1.7h-1.7zM170.5 2478.1h1.7v1.7h-1.7zM179.1 2485.7h1.7v1.7h-1.7zM161.6 2485.2h1.7v1.7h-1.7zM190.3 2484.7h1.7v1.7h-1.7zM168.1 2491.6h1.7v1.7h-1.7zM163.0 2471.9h1.7v1.7h-1.7zM200.6 2516.8h1.7v1.7h-1.7zM178.6 2494.1h1.7v1.7h-1.7zM173.9 2512.9h1.7v1.7h-1.7zM197.2 2509.0h1.7v1.7h-1.7zM169.3 2476.0h1.7v1.7h-1.7zM184.8 2484.5h1.7v1.7h-1.7zM181.3 2490.8h1.7v1.7h-1.7zM177.5 2482.8h1.7v1.7h-1.7zM165.1 2465.0h1.7v1.7h-1.7zM207.2 2527.6h1.7v1.7h-1.7zM185.5 2500.1h1.7v1.7h-1.7zM187.6 2485.1h1.7v1.7h-1.7zM192.6 2479.9h1.7v1.7h-1.7zM185.4 2480.8h1.7v1.7h-1.7zM169.6 2492.9h1.7v1.7h-1.7zM177.1 2484.0h1.7v1.7h-1.7zM188.4 2499.6h1.7v1.7h-1.7zM204.1 2513.0h1.7v1.7h-1.7zM201.2 2502.0h1.7v1.7h-1.7zM164.6 2486.7h1.7v1.7h-1.7zM205.6 2494.6h1.7v1.7h-1.7zM158.4 2465.1h1.7v1.7h-1.7zM204.2 2498.4h1.7v1.7h-1.7zM176.5 2509.1h1.7v1.7h-1.7zM187.5 2495.6h1.7v1.7h-1.7zM179.8 2498.6h1.7v1.7h-1.7zM154.4 2458.0h1.7v1.7h-1.7zM166.4 2501.3h1.7v1.7h-1.7zM215.4 2514.8h1.7v1.7h-1.7zM194.6 2485.3h1.7v1.7h-1.7zM168.1 2480.7h1.7v1.7h-1.7zM166.9 2483.3h1.7v1.7h-1.7zM173.0 2486.0h1.7v1.7h-1.7zM198.3 2499.5h1.7v1.7h-1.7zM185.1 2495.3h1.7v1.7h-1.7zM171.5 2482.9h1.7v1.7h-1.7zM176.1 2476.1h1.7v1.7h-1.7zM172.7 2474.1h1.7v1.7h-1.7zM143.4 2475.2h1.7v1.7h-1.7zM137.9 2462.1h1.7v1.7h-1.7zM174.2 2466.1h1.7v1.7h-1.7zM183.8 2476.0h1.7v1.7h-1.7zM160.6 2489.2h1.7v1.7h-1.7zM191.0 2498.6h1.7v1.7h-1.7zM200.9 2482.9h1.7v1.7h-1.7zM208.3 2512.8h1.7v1.7h-1.7zM166.1 2479.7h1.7v1.7h-1.7zM202.9 2498.2h1.7v1.7h-1.7zM166.8 2503.9h1.7v1.7h-1.7zM200.9 2511.6h1.7v1.7h-1.7zM184.0 2472.1h1.7v1.7h-1.7zM163.4 2476.8h1.7v1.7h-1.7zM175.2 2503.7h1.7v1.7h-1.7zM174.9 2484.0h1.7v1.7h-1.7zM177.8 2468.5h1.7v1.7h-1.7zM190.4 2483.1h1.7v1.7h-1.7zM176.0 2470.3h1.7v1.7h-1.7zM187.0 2484.5h1.7v1.7h-1.7zM175.0 2506.1h1.7v1.7h-1.7zM177.6 2488.5h1.7v1.7h-1.7zM174.8 2465.4h1.7v1.7h-1.7zM224.8 2497.6h1.7v1.7h-1.7zM210.8 2524.7h1.7v1.7h-1.7zM174.0 2489.5h1.7v1.7h-1.7zM175.0 2489.1h1.7v1.7h-1.7zM188.9 2495.1h1.7v1.7h-1.7zM173.7 2481.6h1.7v1.7h-1.7zM179.5 2486.8h1.7v1.7h-1.7zM177.7 2493.1h1.7v1.7h-1.7zM179.2 2487.5h1.7v1.7h-1.7zM172.5 2481.8h1.7v1.7h-1.7zM179.5 2488.0h1.7v1.7h-1.7zM187.1 2487.5h1.7v1.7h-1.7zM147.9 2473.7h1.7v1.7h-1.7zM185.0 2500.7h1.7v1.7h-1.7zM198.6 2488.1h1.7v1.7h-1.7zM188.0 2504.9h1.7v1.7h-1.7zM196.4 2488.2h1.7v1.7h-1.7zM173.4 2490.8h1.7v1.7h-1.7zM196.8 2494.5h1.7v1.7h-1.7zM179.4 2496.4h1.7v1.7h-1.7zM156.7 2456.7h1.7v1.7h-1.7zM172.6 2468.7h1.7v1.7h-1.7zM168.0 2485.5h1.7v1.7h-1.7zM176.2 2475.2h1.7v1.7h-1.7zM161.3 2491.9h1.7v1.7h-1.7zM214.4 2503.6h1.7v1.7h-1.7zM194.1 2512.7h1.7v1.7h-1.7zM173.1 2481.6h1.7v1.7h-1.7zM193.6 2484.8h1.7v1.7h-1.7zM172.2 2482.4h1.7v1.7h-1.7zM162.2 2469.5h1.7v1.7h-1.7zM207.9 2487.0h1.7v1.7h-1.7zM196.0 2519.3h1.7v1.7h-1.7zM175.8 2486.0h1.7v1.7h-1.7zM189.8 2474.2h1.7v1.7h-1.7zM184.9 2485.3h1.7v1.7h-1.7zM189.0 2468.1h1.7v1.7h-1.7zM196.6 2497.7h1.7v1.7h-1.7zM186.0 2487.9h1.7v1.7h-1.7zM201.8 2494.8h1.7v1.7h-1.7zM171.2 2464.3h1.7v1.7h-1.7zM174.2 2491.9h1.7v1.7h-1.7zM201.2 2511.8h1.7v1.7h-1.7zM182.4 2490.3h1.7v1.7h-1.7zM172.5 2470.9h1.7v1.7h-1.7zM188.7 2494.5h1.7v1.7h-1.7zM168.4 2477.4h1.7v1.7h-1.7zM206.7 2481.3h1.7v1.7h-1.7zM188.2 2493.0h1.7v1.7h-1.7zM183.5 2476.0h1.7v1.7h-1.7zM190.7 2503.8h1.7v1.7h-1.7zM183.7 2472.4h1.7v1.7h-1.7zM171.2 2482.4h1.7v1.7h-1.7zM164.1 2482.6h1.7v1.7h-1.7zM142.1 2481.8h1.7v1.7h-1.7zM165.8 2465.8h1.7v1.7h-1.7zM195.1 2499.9h1.7v1.7h-1.7zM183.7 2484.1h1.7v1.7h-1.7zM193.0 2499.2h1.7v1.7h-1.7zM188.2 2506.1h1.7v1.7h-1.7zM154.6 2487.7h1.7v1.7h-1.7zM187.8 2482.9h1.7v1.7h-1.7zM215.8 2503.8h1.7v1.7h-1.7zM226.1 2512.7h1.7v1.7h-1.7zM220.4 2502.3h1.7v1.7h-1.7zM122.7 2452.1h1.7v1.7h-1.7zM167.3 2495.2h1.7v1.7h-1.7zM234.0 2534.2h1.7v1.7h-1.7zM178.2 2483.2h1.7v1.7h-1.7zM205.4 2503.9h1.7v1.7h-1.7zM158.3 2479.1h1.7v1.7h-1.7zM220.4 2513.4h1.7v1.7h-1.7zM185.2 2498.3h1.7v1.7h-1.7zM179.7 2490.5h1.7v1.7h-1.7zM187.9 2506.2h1.7v1.7h-1.7zM168.9 2463.0h1.7v1.7h-1.7zM200.4 2488.0h1.7v1.7h-1.7zM182.8 2489.2h1.7v1.7h-1.7zM198.9 2500.5h1.7v1.7h-1.7zM188.1 2478.5h1.7v1.7h-1.7zM190.3 2478.7h1.7v1.7h-1.7zM185.4 2504.2h1.7v1.7h-1.7zM210.1 2518.5h1.7v1.7h-1.7zM183.0 2480.4h1.7v1.7h-1.7zM167.2 2487.3h1.7v1.7h-1.7zM190.4 2506.0h1.7v1.7h-1.7zM179.2 2477.1h1.7v1.7h-1.7zM142.0 2468.3h1.7v1.7h-1.7zM178.9 2480.9h1.7v1.7h-1.7zM172.8 2507.4h1.7v1.7h-1.7zM174.9 2478.9h1.7v1.7h-1.7zM161.2 2475.5h1.7v1.7h-1.7zM158.8 2457.0h1.7v1.7h-1.7zM187.9 2484.7h1.7v1.7h-1.7zM176.7 2490.7h1.7v1.7h-1.7zM167.5 2495.1h1.7v1.7h-1.7zM173.6 2471.0h1.7v1.7h-1.7zM181.5 2483.7h1.7v1.7h-1.7zM181.3 2495.2h1.7v1.7h-1.7zM180.6 2471.9h1.7v1.7h-1.7zM146.1 2478.2h1.7v1.7h-1.7zM158.9 2497.6h1.7v1.7h-1.7zM190.0 2491.5h1.7v1.7h-1.7zM175.2 2469.3h1.7v1.7h-1.7zM174.3 2492.6h1.7v1.7h-1.7zM187.8 2502.3h1.7v1.7h-1.7zM186.2 2482.1h1.7v1.7h-1.7zM188.3 2483.5h1.7v1.7h-1.7zM177.0 2476.0h1.7v1.7h-1.7zM164.4 2465.1h1.7v1.7h-1.7zM164.4 2476.3h1.7v1.7h-1.7zM186.4 2496.6h1.7v1.7h-1.7zM164.0 2468.4h1.7v1.7h-1.7zM201.0 2511.4h1.7v1.7h-1.7zM186.1 2495.9h1.7v1.7h-1.7zM196.6 2492.7h1.7v1.7h-1.7zM153.1 2476.0h1.7v1.7h-1.7zM163.0 2475.5h1.7v1.7h-1.7zM206.0 2503.9h1.7v1.7h-1.7zM160.0 2472.5h1.7v1.7h-1.7zM155.6 2458.3h1.7v1.7h-1.7zM166.5 2482.8h1.7v1.7h-1.7zM201.8 2520.1h1.7v1.7h-1.7zM211.6 2511.2h1.7v1.7h-1.7zM162.1 2464.6h1.7v1.7h-1.7zM176.9 2482.2h1.7v1.7h-1.7zM167.3 2488.6h1.7v1.7h-1.7zM179.9 2501.5h1.7v1.7h-1.7zM210.6 2502.8h1.7v1.7h-1.7zM163.0 2485.3h1.7v1.7h-1.7zM201.9 2496.3h1.7v1.7h-1.7zM165.2 2492.3h1.7v1.7h-1.7zM186.9 2511.5h1.7v1.7h-1.7zM162.6 2482.0h1.7v1.7h-1.7zM185.7 2485.9h1.7v1.7h-1.7zM169.4 2480.5h1.7v1.7h-1.7zM164.1 2483.6h1.7v1.7h-1.7zM209.7 2508.4h1.7v1.7h-1.7zM178.4 2493.0h1.7v1.7h-1.7zM183.2 2501.5h1.7v1.7h-1.7zM168.4 2457.4h1.7v1.7h-1.7zM168.6 2479.6h1.7v1.7h-1.7zM196.0 2507.9h1.7v1.7h-1.7zM178.6 2466.0h1.7v1.7h-1.7zM181.7 2493.2h1.7v1.7h-1.7zM191.2 2505.3h1.7v1.7h-1.7zM188.6 2484.3h1.7v1.7h-1.7zM176.7 2491.6h1.7v1.7h-1.7zM164.6 2476.5h1.7v1.7h-1.7zM172.6 2471.6h1.7v1.7h-1.7zM175.1 2478.9h1.7v1.7h-1.7zM162.0 2468.5h1.7v1.7h-1.7zM176.7 2477.1h1.7v1.7h-1.7zM182.8 2496.5h1.7v1.7h-1.7zM163.9 2457.2h1.7v1.7h-1.7zM159.8 2468.2h1.7v1.7h-1.7zM138.0 2454.3h1.7v1.7h-1.7zM175.9 2487.2h1.7v1.7h-1.7zM166.3 2485.1h1.7v1.7h-1.7zM178.8 2497.5h1.7v1.7h-1.7zM179.6 2454.2h1.7v1.7h-1.7zM189.0 2495.1h1.7v1.7h-1.7zM172.8 2501.7h1.7v1.7h-1.7zM170.0 2489.9h1.7v1.7h-1.7zM169.7 2477.4h1.7v1.7h-1.7zM175.0 2484.0h1.7v1.7h-1.7zM162.0 2496.7h1.7v1.7h-1.7zM154.5 2466.8h1.7v1.7h-1.7zM173.9 2489.9h1.7v1.7h-1.7zM194.3 2487.1h1.7v1.7h-1.7zM161.2 2487.0h1.7v1.7h-1.7zM193.4 2479.9h1.7v1.7h-1.7zM169.0 2504.8h1.7v1.7h-1.7zM163.0 2480.8h1.7v1.7h-1.7zM203.9 2524.8h1.7v1.7h-1.7zM160.0 2467.7h1.7v1.7h-1.7zM186.3 2490.6h1.7v1.7h-1.7zM175.3 2488.7h1.7v1.7h-1.7zM175.1 2484.4h1.7v1.7h-1.7zM200.9 2497.7h1.7v1.7h-1.7zM204.4 2486.0h1.7v1.7h-1.7zM194.5 2494.4h1.7v1.7h-1.7zM168.3 2466.0h1.7v1.7h-1.7zM194.2 2495.2h1.7v1.7h-1.7zM169.7 2462.8h1.7v1.7h-1.7zM173.1 2481.4h1.7v1.7h-1.7zM182.1 2486.5h1.7v1.7h-1.7zM163.7 2479.8h1.7v1.7h-1.7zM140.2 2466.5h1.7v1.7h-1.7zM218.3 2511.1h1.7v1.7h-1.7zM182.4 2487.5h1.7v1.7h-1.7zM163.7 2467.7h1.7v1.7h-1.7zM174.3 2472.9h1.7v1.7h-1.7zM182.2 2486.0h1.7v1.7h-1.7zM204.8 2485.0h1.7v1.7h-1.7zM155.9 2471.4h1.7v1.7h-1.7zM205.9 2516.1h1.7v1.7h-1.7zM185.0 2486.9h1.7v1.7h-1.7zM168.9 2479.5h1.7v1.7h-1.7zM209.2 2507.5h1.7v1.7h-1.7zM198.3 2490.9h1.7v1.7h-1.7zM186.5 2485.0h1.7v1.7h-1.7zM154.1 2470.0h1.7v1.7h-1.7zM193.4 2490.1h1.7v1.7h-1.7zM198.4 2503.5h1.7v1.7h-1.7zM177.0 2493.3h1.7v1.7h-1.7zM176.9 2508.3h1.7v1.7h-1.7zM162.5 2479.2h1.7v1.7h-1.7zM163.1 2489.2h1.7v1.7h-1.7zM153.1 2467.1h1.7v1.7h-1.7zM195.2 2477.8h1.7v1.7h-1.7zM160.3 2483.3h1.7v1.7h-1.7zM200.5 2486.6h1.7v1.7h-1.7zM187.1 2504.4h1.7v1.7h-1.7zM155.1 2479.1h1.7v1.7h-1.7zM169.7 2496.4h1.7v1.7h-1.7zM158.0 2465.7h1.7v1.7h-1.7zM176.6 2475.6h1.7v1.7h-1.7zM176.1 2489.9h1.7v1.7h-1.7zM167.9 2459.0h1.7v1.7h-1.7zM177.5 2497.0h1.7v1.7h-1.7zM191.3 2515.7h1.7v1.7h-1.7zM173.2 2456.9h1.7v1.7h-1.7zM164.7 2476.9h1.7v1.7h-1.7zM163.6 2474.5h1.7v1.7h-1.7zM151.7 2480.2h1.7v1.7h-1.7zM168.5 2477.4h1.7v1.7h-1.7zM154.2 2486.6h1.7v1.7h-1.7zM158.7 2456.9h1.7v1.7h-1.7zM181.9 2486.1h1.7v1.7h-1.7zM160.5 2489.6h1.7v1.7h-1.7zM160.8 2482.2h1.7v1.7h-1.7zM181.3 2480.0h1.7v1.7h-1.7zM188.7 2497.6h1.7v1.7h-1.7zM156.3 2479.1h1.7v1.7h-1.7zM187.1 2495.0h1.7v1.7h-1.7zM176.2 2467.1h1.7v1.7h-1.7zM163.4 2464.0h1.7v1.7h-1.7zM141.0 2472.4h1.7v1.7h-1.7zM192.1 2513.2h1.7v1.7h-1.7zM181.6 2470.0h1.7v1.7h-1.7zM194.0 2497.1h1.7v1.7h-1.7zM162.2 2485.0h1.7v1.7h-1.7zM178.4 2499.0h1.7v1.7h-1.7zM162.5 2474.5h1.7v1.7h-1.7zM188.2 2486.9h1.7v1.7h-1.7zM181.1 2471.1h1.7v1.7h-1.7zM142.4 2475.8h1.7v1.7h-1.7zM185.9 2488.8h1.7v1.7h-1.7zM166.6 2492.1h1.7v1.7h-1.7zM201.8 2488.4h1.7v1.7h-1.7zM173.9 2466.8h1.7v1.7h-1.7zM141.5 2456.4h1.7v1.7h-1.7zM197.9 2509.9h1.7v1.7h-1.7zM160.0 2469.0h1.7v1.7h-1.7zM185.9 2493.4h1.7v1.7h-1.7zM179.3 2472.2h1.7v1.7h-1.7zM158.0 2469.0h1.7v1.7h-1.7zM200.9 2505.0h1.7v1.7h-1.7zM204.5 2504.2h1.7v1.7h-1.7zM180.8 2488.0h1.7v1.7h-1.7zM200.2 2496.7h1.7v1.7h-1.7zM152.4 2457.6h1.7v1.7h-1.7zM168.8 2496.2h1.7v1.7h-1.7zM200.6 2475.9h1.7v1.7h-1.7zM166.1 2473.9h1.7v1.7h-1.7zM178.7 2489.2h1.7v1.7h-1.7zM178.7 2488.8h1.7v1.7h-1.7zM209.7 2502.1h1.7v1.7h-1.7zM205.3 2506.7h1.7v1.7h-1.7zM176.2 2493.2h1.7v1.7h-1.7zM205.4 2487.5h1.7v1.7h-1.7zM192.9 2510.0h1.7v1.7h-1.7zM172.4 2486.6h1.7v1.7h-1.7zM177.3 2497.3h1.7v1.7h-1.7zM199.9 2518.3h1.7v1.7h-1.7zM195.7 2486.5h1.7v1.7h-1.7zM182.2 2506.4h1.7v1.7h-1.7zM156.1 2460.9h1.7v1.7h-1.7zM211.5 2504.3h1.7v1.7h-1.7zM199.1 2483.9h1.7v1.7h-1.7zM186.9 2486.6h1.7v1.7h-1.7zM166.8 2471.0h1.7v1.7h-1.7zM185.2 2506.1h1.7v1.7h-1.7zM198.8 2485.9h1.7v1.7h-1.7zM187.0 2499.0h1.7v1.7h-1.7zM187.6 2491.2h1.7v1.7h-1.7zM165.3 2479.9h1.7v1.7h-1.7zM185.6 2510.6h1.7v1.7h-1.7zM198.2 2515.9h1.7v1.7h-1.7zM155.8 2480.7h1.7v1.7h-1.7zM165.8 2495.9h1.7v1.7h-1.7zM147.2 2465.1h1.7v1.7h-1.7zM154.6 2454.9h1.7v1.7h-1.7zM166.5 2481.1h1.7v1.7h-1.7zM199.6 2507.4h1.7v1.7h-1.7zM173.4 2469.3h1.7v1.7h-1.7zM206.7 2509.2h1.7v1.7h-1.7zM199.3 2496.9h1.7v1.7h-1.7zM173.7 2485.4h1.7v1.7h-1.7zM196.2 2498.4h1.7v1.7h-1.7zM191.7 2497.7h1.7v1.7h-1.7zM195.7 2522.4h1.7v1.7h-1.7zM208.7 2488.6h1.7v1.7h-1.7zM177.8 2490.5h1.7v1.7h-1.7zM171.2 2498.8h1.7v1.7h-1.7zM175.0 2495.1h1.7v1.7h-1.7zM170.8 2471.0h1.7v1.7h-1.7zM186.7 2499.8h1.7v1.7h-1.7zM172.5 2496.4h1.7v1.7h-1.7zM187.9 2497.4h1.7v1.7h-1.7zM181.7 2497.1h1.7v1.7h-1.7zM170.2 2485.4h1.7v1.7h-1.7zM171.7 2495.5h1.7v1.7h-1.7zM145.5 2458.5h1.7v1.7h-1.7zM194.7 2494.8h1.7v1.7h-1.7zM165.5 2491.5h1.7v1.7h-1.7zM177.2 2491.0h1.7v1.7h-1.7zM181.4 2488.0h1.7v1.7h-1.7zM194.4 2517.0h1.7v1.7h-1.7zM179.9 2470.2h1.7v1.7h-1.7zM155.4 2470.3h1.7v1.7h-1.7zM179.8 2474.5h1.7v1.7h-1.7zM213.2 2511.1h1.7v1.7h-1.7zM162.6 2498.2h1.7v1.7h-1.7zM162.1 2473.2h1.7v1.7h-1.7zM142.6 2442.0h1.7v1.7h-1.7zM183.5 2478.2h1.7v1.7h-1.7zM163.3 2473.1h1.7v1.7h-1.7zM189.1 2485.2h1.7v1.7h-1.7zM191.1 2486.6h1.7v1.7h-1.7zM212.5 2509.5h1.7v1.7h-1.7zM183.5 2498.9h1.7v1.7h-1.7zM158.2 2476.3h1.7v1.7h-1.7zM158.5 2467.8h1.7v1.7h-1.7zM189.5 2483.3h1.7v1.7h-1.7zM193.7 2511.5h1.7v1.7h-1.7zM195.6 2501.1h1.7v1.7h-1.7zM222.3 2522.6h1.7v1.7h-1.7zM170.7 2473.1h1.7v1.7h-1.7zM169.4 2480.6h1.7v1.7h-1.7zM186.3 2495.3h1.7v1.7h-1.7zM192.4 2501.9h1.7v1.7h-1.7zM150.6 2469.6h1.7v1.7h-1.7zM136.4 2466.0h1.7v1.7h-1.7zM177.6 2493.9h1.7v1.7h-1.7zM160.4 2465.4h1.7v1.7h-1.7zM169.7 2486.4h1.7v1.7h-1.7zM189.4 2489.1h1.7v1.7h-1.7zM161.8 2492.4h1.7v1.7h-1.7zM201.9 2503.2h1.7v1.7h-1.7zM174.1 2474.0h1.7v1.7h-1.7zM190.3 2519.2h1.7v1.7h-1.7zM183.0 2476.4h1.7v1.7h-1.7zM202.0 2502.7h1.7v1.7h-1.7zM166.2 2481.8h1.7v1.7h-1.7zM184.1 2509.2h1.7v1.7h-1.7zM189.0 2492.5h1.7v1.7h-1.7zM192.9 2513.9h1.7v1.7h-1.7zM193.0 2508.1h1.7v1.7h-1.7zM186.8 2492.3h1.7v1.7h-1.7zM198.5 2514.7h1.7v1.7h-1.7zM178.4 2498.3h1.7v1.7h-1.7zM195.6 2489.1h1.7v1.7h-1.7zM223.0 2531.3h1.7v1.7h-1.7zM177.8 2485.6h1.7v1.7h-1.7zM193.1 2495.7h1.7v1.7h-1.7zM140.8 2473.5h1.7v1.7h-1.7zM206.7 2481.0h1.7v1.7h-1.7zM159.1 2446.1h1.7v1.7h-1.7zM188.4 2507.3h1.7v1.7h-1.7zM159.2 2469.8h1.7v1.7h-1.7zM207.9 2487.6h1.7v1.7h-1.7zM194.5 2510.0h1.7v1.7h-1.7zM169.1 2487.0h1.7v1.7h-1.7zM165.1 2479.9h1.7v1.7h-1.7zM210.4 2502.7h1.7v1.7h-1.7zM192.4 2492.3h1.7v1.7h-1.7zM162.0 2476.1h1.7v1.7h-1.7zM182.6 2480.5h1.7v1.7h-1.7zM185.7 2476.1h1.7v1.7h-1.7zM139.4 2469.5h1.7v1.7h-1.7zM197.1 2468.3h1.7v1.7h-1.7zM182.8 2466.6h1.7v1.7h-1.7zM174.1 2520.1h1.7v1.7h-1.7zM152.5 2484.8h1.7v1.7h-1.7zM165.8 2492.5h1.7v1.7h-1.7zM147.2 2480.3h1.7v1.7h-1.7zM190.2 2495.1h1.7v1.7h-1.7zM223.8 2516.0h1.7v1.7h-1.7zM193.0 2495.3h1.7v1.7h-1.7zM182.7 2509.9h1.7v1.7h-1.7zM155.9 2467.0h1.7v1.7h-1.7zM188.1 2485.7h1.7v1.7h-1.7zM185.7 2477.8h1.7v1.7h-1.7zM171.7 2481.6h1.7v1.7h-1.7zM162.1 2452.4h1.7v1.7h-1.7zM121.6 2454.7h1.7v1.7h-1.7zM195.1 2504.1h1.7v1.7h-1.7zM200.7 2498.8h1.7v1.7h-1.7zM178.8 2499.7h1.7v1.7h-1.7zM195.6 2489.2h1.7v1.7h-1.7zM195.4 2497.4h1.7v1.7h-1.7zM163.4 2507.8h1.7v1.7h-1.7zM199.9 2501.2h1.7v1.7h-1.7zM188.5 2514.7h1.7v1.7h-1.7zM214.7 2528.1h1.7v1.7h-1.7zM189.1 2499.8h1.7v1.7h-1.7zM187.6 2490.0h1.7v1.7h-1.7zM180.4 2496.0h1.7v1.7h-1.7zM199.7 2494.9h1.7v1.7h-1.7zM181.3 2479.4h1.7v1.7h-1.7zM190.7 2475.7h1.7v1.7h-1.7zM160.7 2487.0h1.7v1.7h-1.7zM199.5 2493.8h1.7v1.7h-1.7zM177.9 2481.9h1.7v1.7h-1.7zM168.0 2461.6h1.7v1.7h-1.7zM168.8 2504.4h1.7v1.7h-1.7zM179.0 2488.7h1.7v1.7h-1.7zM180.2 2491.1h1.7v1.7h-1.7zM193.2 2484.5h1.7v1.7h-1.7zM157.4 2457.0h1.7v1.7h-1.7zM195.6 2503.0h1.7v1.7h-1.7zM168.6 2491.8h1.7v1.7h-1.7zM175.1 2486.6h1.7v1.7h-1.7zM182.5 2495.5h1.7v1.7h-1.7zM185.9 2487.2h1.7v1.7h-1.7zM157.9 2471.5h1.7v1.7h-1.7zM171.9 2481.0h1.7v1.7h-1.7zM147.4 2486.8h1.7v1.7h-1.7zM157.2 2477.7h1.7v1.7h-1.7zM163.3 2472.7h1.7v1.7h-1.7zM195.6 2507.3h1.7v1.7h-1.7zM216.9 2508.5h1.7v1.7h-1.7zM163.6 2487.3h1.7v1.7h-1.7zM175.4 2499.0h1.7v1.7h-1.7zM188.7 2479.7h1.7v1.7h-1.7zM183.4 2499.4h1.7v1.7h-1.7zM195.1 2501.8h1.7v1.7h-1.7zM175.9 2488.1h1.7v1.7h-1.7zM174.5 2470.7h1.7v1.7h-1.7zM165.5 2485.0h1.7v1.7h-1.7zM192.9 2507.0h1.7v1.7h-1.7zM165.1 2471.4h1.7v1.7h-1.7zM171.5 2496.5h1.7v1.7h-1.7zM150.0 2475.3h1.7v1.7h-1.7zM215.2 2521.7h1.7v1.7h-1.7zM245.9 2513.0h1.7v1.7h-1.7zM196.0 2506.5h1.7v1.7h-1.7zM164.9 2485.2h1.7v1.7h-1.7zM160.5 2456.5h1.7v1.7h-1.7zM156.1 2459.7h1.7v1.7h-1.7zM194.1 2491.5h1.7v1.7h-1.7zM194.0 2500.9h1.7v1.7h-1.7zM171.6 2480.6h1.7v1.7h-1.7zM171.8 2470.1h1.7v1.7h-1.7zM171.1 2480.8h1.7v1.7h-1.7zM183.1 2490.2h1.7v1.7h-1.7zM188.9 2514.6h1.7v1.7h-1.7zM213.1 2503.8h1.7v1.7h-1.7zM183.9 2488.5h1.7v1.7h-1.7zM217.3 2512.8h1.7v1.7h-1.7zM164.4 2461.3h1.7v1.7h-1.7zM171.3 2496.8h1.7v1.7h-1.7zM154.3 2474.3h1.7v1.7h-1.7zM135.4 2466.7h1.7v1.7h-1.7zM162.7 2480.4h1.7v1.7h-1.7zM154.3 2460.5h1.7v1.7h-1.7zM187.4 2504.5h1.7v1.7h-1.7zM192.3 2497.0h1.7v1.7h-1.7zM133.9 2451.8h1.7v1.7h-1.7zM192.5 2483.0h1.7v1.7h-1.7zM172.8 2480.2h1.7v1.7h-1.7zM232.1 2533.2h1.7v1.7h-1.7zM164.6 2479.4h1.7v1.7h-1.7zM146.4 2481.6h1.7v1.7h-1.7zM148.8 2469.8h1.7v1.7h-1.7zM207.2 2514.5h1.7v1.7h-1.7zM153.3 2476.7h1.7v1.7h-1.7zM180.8 2482.8h1.7v1.7h-1.7zM173.8 2473.0h1.7v1.7h-1.7zM162.3 2479.9h1.7v1.7h-1.7zM180.8 2487.6h1.7v1.7h-1.7zM171.4 2483.6h1.7v1.7h-1.7zM168.6 2478.1h1.7v1.7h-1.7zM137.6 2452.8h1.7v1.7h-1.7zM187.7 2489.0h1.7v1.7h-1.7zM171.1 2483.5h1.7v1.7h-1.7zM177.8 2505.4h1.7v1.7h-1.7zM168.4 2476.7h1.7v1.7h-1.7zM145.1 2456.8h1.7v1.7h-1.7zM176.3 2498.9h1.7v1.7h-1.7zM175.9 2484.9h1.7v1.7h-1.7zM189.3 2493.0h1.7v1.7h-1.7zM179.0 2493.7h1.7v1.7h-1.7zM181.4 2472.7h1.7v1.7h-1.7zM180.5 2492.1h1.7v1.7h-1.7zM167.9 2477.8h1.7v1.7h-1.7zM178.9 2484.6h1.7v1.7h-1.7zM183.3 2499.0h1.7v1.7h-1.7zM152.3 2455.0h1.7v1.7h-1.7zM199.6 2493.0h1.7v1.7h-1.7zM159.8 2483.2h1.7v1.7h-1.7zM197.0 2510.1h1.7v1.7h-1.7zM160.2 2474.2h1.7v1.7h-1.7zM160.9 2459.0h1.7v1.7h-1.7zM197.4 2511.0h1.7v1.7h-1.7zM154.3 2458.0h1.7v1.7h-1.7zM176.0 2498.2h1.7v1.7h-1.7zM192.9 2487.3h1.7v1.7h-1.7zM134.7 2450.8h1.7v1.7h-1.7zM179.8 2483.5h1.7v1.7h-1.7zM226.7 2523.2h1.7v1.7h-1.7zM151.4 2460.8h1.7v1.7h-1.7zM189.6 2509.9h1.7v1.7h-1.7zM206.3 2493.1h1.7v1.7h-1.7zM188.1 2502.6h1.7v1.7h-1.7zM209.2 2506.8h1.7v1.7h-1.7zM165.7 2469.8h1.7v1.7h-1.7zM165.6 2473.4h1.7v1.7h-1.7zM189.3 2485.8h1.7v1.7h-1.7zM194.3 2487.8h1.7v1.7h-1.7zM186.8 2481.4h1.7v1.7h-1.7zM176.5 2490.4h1.7v1.7h-1.7zM180.0 2481.5h1.7v1.7h-1.7zM140.6 2451.0h1.7v1.7h-1.7zM176.8 2461.4h1.7v1.7h-1.7zM182.4 2483.5h1.7v1.7h-1.7zM141.0 2472.2h1.7v1.7h-1.7zM189.4 2501.1h1.7v1.7h-1.7zM158.3 2470.4h1.7v1.7h-1.7zM180.4 2473.1h1.7v1.7h-1.7zM211.2 2484.4h1.7v1.7h-1.7zM192.3 2495.5h1.7v1.7h-1.7zM174.1 2490.3h1.7v1.7h-1.7zM168.6 2460.6h1.7v1.7h-1.7zM200.7 2484.5h1.7v1.7h-1.7zM189.9 2507.0h1.7v1.7h-1.7zM196.6 2510.3h1.7v1.7h-1.7zM177.6 2504.9h1.7v1.7h-1.7zM155.2 2478.1h1.7v1.7h-1.7zM169.1 2467.2h1.7v1.7h-1.7zM196.1 2498.9h1.7v1.7h-1.7zM168.6 2471.3h1.7v1.7h-1.7zM168.3 2491.6h1.7v1.7h-1.7zM181.0 2479.3h1.7v1.7h-1.7zM168.2 2481.5h1.7v1.7h-1.7zM183.1 2493.7h1.7v1.7h-1.7zM195.9 2502.5h1.7v1.7h-1.7zM193.5 2495.7h1.7v1.7h-1.7zM171.7 2472.8h1.7v1.7h-1.7zM188.7 2498.7h1.7v1.7h-1.7zM207.5 2495.0h1.7v1.7h-1.7zM158.7 2476.7h1.7v1.7h-1.7zM194.8 2500.4h1.7v1.7h-1.7zM200.1 2497.7h1.7v1.7h-1.7zM184.4 2488.1h1.7v1.7h-1.7zM201.4 2509.3h1.7v1.7h-1.7zM218.8 2525.3h1.7v1.7h-1.7zM202.0 2493.1h1.7v1.7h-1.7zM205.5 2501.8h1.7v1.7h-1.7zM178.4 2477.2h1.7v1.7h-1.7zM176.3 2482.3h1.7v1.7h-1.7zM188.6 2488.5h1.7v1.7h-1.7zM191.8 2487.3h1.7v1.7h-1.7zM170.6 2472.7h1.7v1.7h-1.7zM160.6 2485.3h1.7v1.7h-1.7zM165.0 2493.5h1.7v1.7h-1.7zM211.7 2509.8h1.7v1.7h-1.7zM181.7 2482.5h1.7v1.7h-1.7zM172.5 2490.5h1.7v1.7h-1.7zM189.8 2500.1h1.7v1.7h-1.7zM155.4 2474.3h1.7v1.7h-1.7zM184.9 2481.1h1.7v1.7h-1.7zM144.7 2458.2h1.7v1.7h-1.7zM151.6 2474.1h1.7v1.7h-1.7zM192.9 2483.5h1.7v1.7h-1.7zM188.3 2492.6h1.7v1.7h-1.7zM153.3 2474.0h1.7v1.7h-1.7zM180.0 2479.5h1.7v1.7h-1.7zM232.4 2515.0h1.7v1.7h-1.7zM177.6 2496.0h1.7v1.7h-1.7zM180.1 2480.4h1.7v1.7h-1.7zM188.4 2473.8h1.7v1.7h-1.7zM162.1 2478.6h1.7v1.7h-1.7zM185.1 2481.3h1.7v1.7h-1.7zM172.7 2456.7h1.7v1.7h-1.7zM188.7 2491.0h1.7v1.7h-1.7zM185.5 2492.2h1.7v1.7h-1.7zM204.9 2483.9h1.7v1.7h-1.7zM182.4 2496.6h1.7v1.7h-1.7zM193.8 2489.3h1.7v1.7h-1.7zM161.9 2478.9h1.7v1.7h-1.7zM185.4 2491.3h1.7v1.7h-1.7z" fill="#000"/>
<ellipse cx="178.5" cy="2488.0" rx="34.0" ry="19.5" transform="rotate(37.9 178.5 2488.0)" fill="#000"/>
<path d="M190.4 2498.3h1.3v1.3h-1.3zM168.3 2477.5h1.3v1.3h-1.3zM181.4 2499.6h1.3v1.3h-1.3zM169.7 2473.4h1.3v1.3h-1.3zM176.9 2496.1h1.3v1.3h-1.3zM177.5 2494.6h1.3v1.3h-1.3zM180.3 2487.6h1.3v1.3h-1.3zM172.3 2490.1h1.3v1.3h-1.3zM178.7 2487.4h1.3v1.3h-1.3zM190.2 2497.3h1.3v1.3h-1.3zM178.0 2495.5h1.3v1.3h-1.3zM172.6 2495.2h1.3v1.3h-1.3zM176.6 2477.3h1.3v1.3h-1.3zM189.6 2497.8h1.3v1.3h-1.3zM191.0 2492.2h1.3v1.3h-1.3zM178.1 2497.7h1.3v1.3h-1.3zM167.9 2473.6h1.3v1.3h-1.3zM178.2 2477.4h1.3v1.3h-1.3zM186.0 2487.7h1.3v1.3h-1.3zM193.4 2491.6h1.3v1.3h-1.3zM172.9 2483.5h1.3v1.3h-1.3zM172.8 2476.8h1.3v1.3h-1.3zM163.9 2474.6h1.3v1.3h-1.3zM168.8 2487.3h1.3v1.3h-1.3zM177.3 2491.6h1.3v1.3h-1.3zM172.0 2492.2h1.3v1.3h-1.3zM179.3 2498.6h1.3v1.3h-1.3zM165.7 2474.8h1.3v1.3h-1.3zM182.3 2492.5h1.3v1.3h-1.3zM173.0 2479.2h1.3v1.3h-1.3z" fill="#fff"/>
<ellipse cx="179.0" cy="2487.2" rx="43.4" ry="25.7" transform="rotate(37.9 179.0 2487.2)" fill="none" stroke="#000" stroke-width="4.2"/>
</g>
<rect x="112.4" y="2072.3" width="863.2" height="502.2999999999997" fill="none" stroke="#000" stroke-width="1.6"/>
<path d="M126.02 2574.6v-5.2M126.02 2072.3v5.2M152.56 2574.6v-5.2M152.56 2072.3v5.2M179.10 2574.6v-10.5M179.10 2072.3v10.5M205.64 2574.6v-5.2M205.64 2072.3v5.2M232.18 2574.6v-5.2M232.18 2072.3v5.2M258.72 2574.6v-5.2M258.72 2072.3v5.2M285.26 2574.6v-5.2M285.26 2072.3v5.2M311.80 2574.6v-10.5M311.80 2072.3v10.5M338.34 2574.6v-5.2M338.34 2072.3v5.2M364.88 2574.6v-5.2M364.88 2072.3v5.2M391.42 2574.6v-5.2M391.42 2072.3v5.2M417.96 2574.6v-5.2M417.96 2072.3v5.2M444.50 2574.6v-10.5M444.50 2072.3v10.5M471.04 2574.6v-5.2M471.04 2072.3v5.2M497.58 2574.6v-5.2M497.58 2072.3v5.2M524.12 2574.6v-5.2M524.12 2072.3v5.2M550.66 2574.6v-5.2M550.66 2072.3v5.2M577.20 2574.6v-10.5M577.20 2072.3v10.5M603.74 2574.6v-5.2M603.74 2072.3v5.2M630.28 2574.6v-5.2M630.28 2072.3v5.2M656.82 2574.6v-5.2M656.82 2072.3v5.2M683.36 2574.6v-5.2M683.36 2072.3v5.2M709.90 2574.6v-10.5M709.90 2072.3v10.5M736.44 2574.6v-5.2M736.44 2072.3v5.2M762.98 2574.6v-5.2M762.98 2072.3v5.2M789.52 2574.6v-5.2M789.52 2072.3v5.2M816.06 2574.6v-5.2M816.06 2072.3v5.2M842.60 2574.6v-10.5M842.60 2072.3v10.5M869.14 2574.6v-5.2M869.14 2072.3v5.2M895.68 2574.6v-5.2M895.68 2072.3v5.2M922.22 2574.6v-5.2M922.22 2072.3v5.2M948.76 2574.6v-5.2M948.76 2072.3v5.2M975.30 2574.6v-10.5M975.30 2072.3v10.5M112.4 2553.52h8.7M975.6 2553.52h-8.7M112.4 2531.84h8.7M975.6 2531.84h-8.7M112.4 2510.17h8.7M975.6 2510.17h-8.7M112.4 2488.50h17.5M975.6 2488.50h-17.5M112.4 2466.83h8.7M975.6 2466.83h-8.7M112.4 2445.16h8.7M975.6 2445.16h-8.7M112.4 2423.48h8.7M975.6 2423.48h-8.7M112.4 2401.81h17.5M975.6 2401.81h-17.5M112.4 2380.14h8.7M975.6 2380.14h-8.7M112.4 2358.47h8.7M975.6 2358.47h-8.7M112.4 2336.79h8.7M975.6 2336.79h-8.7M112.4 2315.12h17.5M975.6 2315.12h-17.5M112.4 2293.45h8.7M975.6 2293.45h-8.7M112.4 2271.78h8.7M975.6 2271.78h-8.7M112.4 2250.10h8.7M975.6 2250.10h-8.7M112.4 2228.43h17.5M975.6 2228.43h-17.5M112.4 2206.76h8.7M975.6 2206.76h-8.7M112.4 2185.09h8.7M975.6 2185.09h-8.7M112.4 2163.41h8.7M975.6 2163.41h-8.7M112.4 2141.74h17.5M975.6 2141.74h-17.5M112.4 2120.07h8.7M975.6 2120.07h-8.7M112.4 2098.39h8.7M975.6 2098.39h-8.7M112.4 2076.72h8.7M975.6 2076.72h-8.7" stroke="#000" stroke-width="1.6" fill="none"/>
<g clip-path="url(#cp3)">
<g clip-path="url(#xc3_0)">
<ellipse cx="819.00" cy="2469.60" rx="93.50" ry="93.50" transform="rotate(0.00 819.00 2469.60)" fill="#ffe6ff"/>
<ellipse cx="819.00" cy="2469.60" rx="84.15" ry="84.15" transform="rotate(0.00 819.00 2469.60)" fill="#ffccff"/>
<ellipse cx="819.00" cy="2469.60" rx="74.80" ry="74.80" transform="rotate(0.00 819.00 2469.60)" fill="#ffb2ff"/>
<ellipse cx="819.00" cy="2469.60" rx="65.45" ry="65.45" transform="rotate(0.00 819.00 2469.60)" fill="#ff99ff"/>
<ellipse cx="819.00" cy="2469.60" rx="56.10" ry="56.10" transform="rotate(0.00 819.00 2469.60)" fill="#ff80ff"/>
<ellipse cx="819.00" cy="2469.60" rx="46.75" ry="46.75" transform="rotate(0.00 819.00 2469.60)" fill="#ff66ff"/>
<ellipse cx="819.00" cy="2469.60" rx="37.40" ry="37.40" transform="rotate(0.00 819.00 2469.60)" fill="#ff4cff"/>
<ellipse cx="819.00" cy="2469.60" rx="28.05" ry="28.05" transform="rotate(0.00 819.00 2469.60)" fill="#ff33ff"/>
<ellipse cx="819.00" cy="2469.60" rx="18.70" ry="18.70" transform="rotate(0.00 819.00 2469.60)" fill="#ff1aff"/>
<ellipse cx="819.00" cy="2469.60" rx="9.35" ry="9.35" transform="rotate(0.00 819.00 2469.60)" fill="#ff00ff"/>
<ellipse cx="819.00" cy="2469.60" rx="93.50" ry="93.50" transform="rotate(0.00 819.00 2469.60)" fill="none" stroke="#ff00ff" stroke-width="1.7"/>
<ellipse cx="819.00" cy="2469.60" rx="46.75" ry="46.75" transform="rotate(0.00 819.00 2469.60)" fill="none" stroke="#ff00ff" stroke-width="3.4"/>
</g>
<g>
<ellipse cx="746.20" cy="2356.00" rx="248.60" ry="219.30" transform="rotate(-51.09 746.20 2356.00)" fill="#f5eee8"/>
<ellipse cx="746.20" cy="2356.00" rx="223.74" ry="197.37" transform="rotate(-51.09 746.20 2356.00)" fill="#ebdcd1"/>
<ellipse cx="746.20" cy="2356.00" rx="198.88" ry="175.44" transform="rotate(-51.09 746.20 2356.00)" fill="#e0cbbb"/>
<ellipse cx="746.20" cy="2356.00" rx="174.02" ry="153.51" transform="rotate(-51.09 746.20 2356.00)" fill="#d6b9a4"/>
<ellipse cx="746.20" cy="2356.00" rx="149.16" ry="131.58" transform="rotate(-51.09 746.20 2356.00)" fill="#cca88d"/>
<ellipse cx="746.20" cy="2356.00" rx="124.30" ry="109.65" transform="rotate(-51.09 746.20 2356.00)" fill="#c29776"/>
<ellipse cx="746.20" cy="2356.00" rx="99.44" ry="87.72" transform="rotate(-51.09 746.20 2356.00)" fill="#b8855f"/>
<ellipse cx="746.20" cy="2356.00" rx="74.58" ry="65.79" transform="rotate(-51.09 746.20 2356.00)" fill="#ad7449"/>
<ellipse cx="746.20" cy="2356.00" rx="49.72" ry="43.86" transform="rotate(-51.09 746.20 2356.00)" fill="#a36232"/>
<ellipse cx="746.20" cy="2356.00" rx="24.86" ry="21.93" transform="rotate(-51.09 746.20 2356.00)" fill="#99511b"/>
<ellipse cx="746.20" cy="2356.00" rx="248.60" ry="219.30" transform="rotate(-51.09 746.20 2356.00)" fill="none" stroke="#99511b" stroke-width="1.5"/>
<ellipse cx="746.20" cy="2356.00" rx="124.30" ry="109.65" transform="rotate(-51.09 746.20 2356.00)" fill="none" stroke="#99511b" stroke-width="3.4"/>
</g>
<g>
<ellipse cx="713.11" cy="2428.77" rx="101.63" ry="35.13" transform="rotate(38.55 713.11 2428.77)" fill="#e6f0ff"/>
<ellipse cx="713.11" cy="2428.77" rx="91.47" ry="31.62" transform="rotate(38.55 713.11 2428.77)" fill="#cce0ff"/>
<ellipse cx="713.11" cy="2428.77" rx="81.30" ry="28.10" transform="rotate(38.55 713.11 2428.77)" fill="#b2d1ff"/>
<ellipse cx="713.11" cy="2428.77" rx="71.14" ry="24.59" transform="rotate(38.55 713.11 2428.77)" fill="#99c2ff"/>
<ellipse cx="713.11" cy="2428.77" rx="60.98" ry="21.08" transform="rotate(38.55 713.11 2428.77)" fill="#80b2ff"/>
<ellipse cx="713.11" cy="2428.77" rx="50.81" ry="17.57" transform="rotate(38.55 713.11 2428.77)" fill="#66a3ff"/>
<ellipse cx="713.11" cy="2428.77" rx="40.65" ry="14.05" transform="rotate(38.55 713.11 2428.77)" fill="#4c94ff"/>
<ellipse cx="713.11" cy="2428.77" rx="30.49" ry="10.54" transform="rotate(38.55 713.11 2428.77)" fill="#3385ff"/>
<ellipse cx="713.11" cy="2428.77" rx="20.33" ry="7.03" transform="rotate(38.55 713.11 2428.77)" fill="#1a75ff"/>
<ellipse cx="713.11" cy="2428.77" rx="10.16" ry="3.51" transform="rotate(38.55 713.11 2428.77)" fill="#0066ff"/>
<ellipse cx="713.11" cy="2428.77" rx="101.63" ry="35.13" transform="rotate(38.55 713.11 2428.77)" fill="none" stroke="#0066ff" stroke-width="1.8"/>
<ellipse cx="713.11" cy="2428.77" rx="50.81" ry="17.57" transform="rotate(38.55 713.11 2428.77)" fill="none" stroke="#0066ff" stroke-width="3.4"/>
</g>
<circle cx="683.6" cy="2080.4" r="7.3" fill="#00ff00"/>
<polygon points="676.8,2123.3 683.6,2110.0 690.5,2123.3" fill="none" stroke="#c8641e" stroke-width="1.5" stroke-linejoin="miter"/>
<circle cx="736.7" cy="2114.8" r="7.3" fill="#aaaaaa"/>
<polygon points="915.2,2103.9 922.5,2089.3 929.8,2103.9" fill="#00ff00"/>
<circle cx="657.0" cy="2260.5" r="7.3" fill="#0066ff"/>
<circle cx="789.8" cy="2298.2" r="7.05" fill="none" stroke="#8020ff" stroke-width="1.45"/>
<circle cx="736.7" cy="2317.0" r="7.05" fill="none" stroke="#0066ff" stroke-width="1.45"/>
<circle cx="603.9" cy="2335.8" r="7.05" fill="none" stroke="#ff8800" stroke-width="1.45"/>
<text transform="translate(603.9 2367.7) scale(0.86 1)" class="lt">R</text>
<polygon points="597.0,2389.4 603.9,2376.1 610.8,2389.4" fill="none" stroke="#8020ff" stroke-width="1.5" stroke-linejoin="miter"/>
<polygon points="729.9,2359.8 736.7,2346.5 743.6,2359.8" fill="none" stroke="#ff8800" stroke-width="1.5" stroke-linejoin="miter"/>
<polygon points="782.5,2361.9 789.8,2347.3 797.1,2361.9" fill="#000000"/>
<polygon points="809.0,2346.9 816.3,2332.3 823.6,2346.9" fill="#ff00ff"/>
<polygon points="809.0,2359.3 816.3,2344.7 823.6,2359.3" fill="#c8641e"/>
<circle cx="842.9" cy="2354.6" r="7.3" fill="#ff0000"/>
<circle cx="869.4" cy="2378.5" r="7.05" fill="none" stroke="#000000" stroke-width="1.45"/>
<circle cx="869.4" cy="2376.1" r="7.3" fill="#66ccff"/>
<polygon points="835.6,2392.9 842.9,2378.3 850.2,2392.9" fill="#ff8800"/>
<circle cx="736.7" cy="2380.5" r="7.3" fill="#ff8800"/>
<circle cx="816.3" cy="2404.5" r="7.05" fill="none" stroke="#66ccff" stroke-width="1.45"/>
<circle cx="816.3" cy="2402.0" r="7.3" fill="#c8641e"/>
<circle cx="763.2" cy="2408.4" r="7.05" fill="none" stroke="#ff0000" stroke-width="1.45"/>
<polygon points="570.5,2402.8 577.4,2389.5 584.2,2402.8" fill="none" stroke="#000000" stroke-width="1.5" stroke-linejoin="miter"/>
<polygon points="543.5,2411.4 550.8,2396.8 558.1,2411.4" fill="#66ccff"/>
<polygon points="517.0,2412.5 524.3,2397.9 531.6,2412.5" fill="#8020ff"/>
<polygon points="490.4,2442.0 497.7,2427.4 505.0,2442.0" fill="#0066ff"/>
<polygon points="623.2,2426.7 630.5,2412.1 637.8,2426.7" fill="#ff0000"/>
<circle cx="657.0" cy="2389.4" r="7.05" fill="none" stroke="#c8641e" stroke-width="1.45"/>
<text transform="translate(657.0 2411.4) scale(0.86 1)" class="lt">M</text>
<text transform="translate(657.0 2420.7) scale(0.86 1)" class="lt">H</text>
<text transform="translate(683.6 2418.9) scale(0.86 1)" class="lt">L</text>
<text transform="translate(710.1 2401.2) scale(0.86 1)" class="lt">B</text>
<text transform="translate(710.1 2401.2) scale(0.86 1)" class="lt">E</text>
<text transform="translate(736.7 2433.8) scale(0.86 1)" class="lt">D</text>
<text transform="translate(736.7 2447.7) scale(0.86 1)" class="lt">O</text>
<text transform="translate(710.1 2449.6) scale(0.86 1)" class="lt">I</text>
<text transform="translate(763.2 2445.9) scale(0.86 1)" class="lt">A</text>
<circle cx="842.9" cy="2435.6" r="7.3" fill="#cc99ff"/>
<circle cx="842.9" cy="2446.8" r="7.05" fill="none" stroke="#00ff00" stroke-width="1.45"/>
<polygon points="782.9,2462.8 789.8,2449.5 796.6,2462.8" fill="none" stroke="#ff00ff" stroke-width="1.5" stroke-linejoin="miter"/>
<polygon points="809.4,2461.5 816.3,2448.2 823.1,2461.5" fill="none" stroke="#0066ff" stroke-width="1.5" stroke-linejoin="miter"/>
<polygon points="862.5,2461.5 869.4,2448.2 876.2,2461.5" fill="none" stroke="#cc99ff" stroke-width="1.5" stroke-linejoin="miter"/>
<circle cx="789.8" cy="2473.8" r="7.3" fill="#ff00ff"/>
<polygon points="782.9,2495.2 789.8,2481.9 796.6,2495.2" fill="none" stroke="#66ccff" stroke-width="1.5" stroke-linejoin="miter"/>
<polygon points="809.4,2508.7 816.3,2495.3 823.1,2508.7" fill="none" stroke="#00ff00" stroke-width="1.5" stroke-linejoin="miter"/>
<circle cx="842.9" cy="2512.0" r="7.3" fill="#8020ff"/>
<circle cx="683.6" cy="2454.0" r="7.05" fill="none" stroke="#aaaaaa" stroke-width="1.45"/>
<polygon points="676.3,2478.8 683.6,2464.2 690.9,2478.8" fill="#cc99ff"/>
<polygon points="703.2,2453.4 710.1,2440.1 717.0,2453.4" fill="none" stroke="#ff0000" stroke-width="1.5" stroke-linejoin="miter"/>
<circle cx="736.7" cy="2436.7" r="7.05" fill="none" stroke="#ff00ff" stroke-width="1.45"/>
<rect x="756.2" y="2452.0" width="14" height="14" fill="#000000"/>
<circle cx="763.2" cy="2454.0" r="7.3" fill="#000000"/>
<text transform="translate(710.1 2485.9) scale(0.86 1)" class="lt">P</text>
<text transform="translate(736.7 2472.9) scale(0.86 1)" class="lt">Q</text>
<text transform="translate(736.7 2475.7) scale(0.86 1)" class="lt">K</text>
<text transform="translate(736.7 2485.0) scale(0.86 1)" class="lt">J</text>
<text transform="translate(763.2 2485.9) scale(0.86 1)" class="lt">C</text>
</g>
<rect x="112.4" y="2072.3" width="863.2" height="502.2999999999997" fill="none" stroke="#000" stroke-width="1.6"/>
<text class="t" x="179.1" y="2618.1" font-size="35" text-anchor="middle">0.0</text>
<text class="t" x="311.8" y="2618.1" font-size="35" text-anchor="middle">0.5</text>
<text class="t" x="444.5" y="2618.1" font-size="35" text-anchor="middle">1.0</text>
<text class="t" x="577.2" y="2618.1" font-size="35" text-anchor="middle">1.5</text>
<text class="t" x="709.9" y="2618.1" font-size="35" text-anchor="middle">2.0</text>
<text class="t" x="842.6" y="2618.1" font-size="35" text-anchor="middle">2.5</text>
<text class="t" x="975.3" y="2618.1" font-size="35" text-anchor="middle">3.0</text>
<text class="t" x="105.3" y="2575.4" font-size="35" text-anchor="end">-20</text>
<text class="t" x="105.3" y="2501.1" font-size="35" text-anchor="end">0</text>
<text class="t" x="105.3" y="2414.4" font-size="35" text-anchor="end">20</text>
<text class="t" x="105.3" y="2327.7" font-size="35" text-anchor="end">40</text>
<text class="t" x="105.3" y="2241.0" font-size="35" text-anchor="end">60</text>
<text class="t" x="105.3" y="2154.3" font-size="35" text-anchor="end">80</text>
<text class="t" x="544.0" y="2656.1" font-size="34.2" text-anchor="middle">Mean temperature change (<tspan font-size="22.5" dy="-12">o</tspan><tspan dy="12">C)</tspan></text>
<text class="t" transform="translate(27.5 2323.4) rotate(-90)" x="0" y="0" font-size="33.7" text-anchor="middle">Precipitation change (%)</text>
</svg></body></html>
